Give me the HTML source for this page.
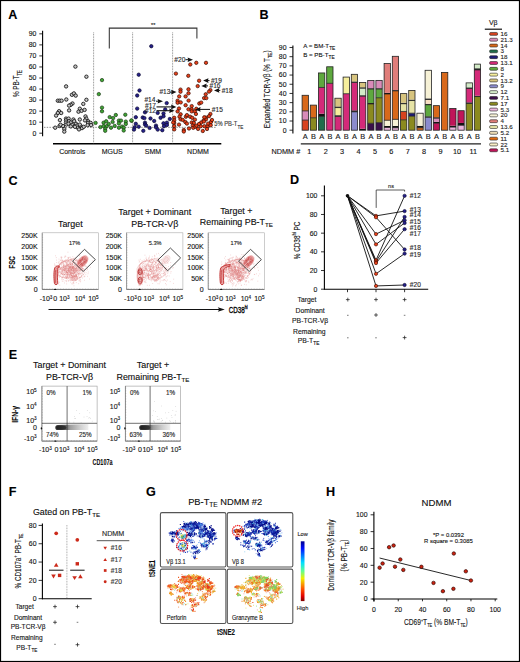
<!DOCTYPE html>
<html><head><meta charset="utf-8"><style>
html,body{margin:0;padding:0;background:#fff;}
svg{display:block;font-family:"Liberation Sans", sans-serif;}
text{stroke:currentColor;stroke-width:0.12;}
</style></head><body>
<svg width="520" height="662" viewBox="0 0 520 662">
<rect x="0.5" y="0.5" width="519" height="661" fill="#fff" stroke="#000" stroke-width="1.2"/>
<text x="8.30" y="18.80" font-size="12.6" text-anchor="start" font-weight="bold" fill="#000" >A</text>
<text x="259.50" y="18.90" font-size="12.6" text-anchor="start" font-weight="bold" fill="#000" >B</text>
<text x="8.50" y="184.50" font-size="12.6" text-anchor="start" font-weight="bold" fill="#000" >C</text>
<text x="290.00" y="183.70" font-size="12.6" text-anchor="start" font-weight="bold" fill="#000" >D</text>
<text x="8.80" y="359.00" font-size="12.6" text-anchor="start" font-weight="bold" fill="#000" >E</text>
<text x="8.70" y="495.90" font-size="12.6" text-anchor="start" font-weight="bold" fill="#000" >F</text>
<text x="146.00" y="496.00" font-size="12.6" text-anchor="start" font-weight="bold" fill="#000" >G</text>
<text x="325.90" y="495.90" font-size="12.6" text-anchor="start" font-weight="bold" fill="#000" >H</text>
<line x1="42.60" y1="30.70" x2="42.60" y2="136.20" stroke="#000" stroke-width="1.1" />
<line x1="39.30" y1="133.20" x2="42.60" y2="133.20" stroke="#000" stroke-width="0.8" />
<text x="36.30" y="135.60" font-size="6.9" text-anchor="end" font-weight="normal" fill="#222" >0</text>
<line x1="39.30" y1="122.16" x2="42.60" y2="122.16" stroke="#000" stroke-width="0.8" />
<text x="36.30" y="124.56" font-size="6.9" text-anchor="end" font-weight="normal" fill="#222" >10</text>
<line x1="39.30" y1="111.12" x2="42.60" y2="111.12" stroke="#000" stroke-width="0.8" />
<text x="36.30" y="113.52" font-size="6.9" text-anchor="end" font-weight="normal" fill="#222" >20</text>
<line x1="39.30" y1="100.08" x2="42.60" y2="100.08" stroke="#000" stroke-width="0.8" />
<text x="36.30" y="102.48" font-size="6.9" text-anchor="end" font-weight="normal" fill="#222" >30</text>
<line x1="39.30" y1="89.04" x2="42.60" y2="89.04" stroke="#000" stroke-width="0.8" />
<text x="36.30" y="91.44" font-size="6.9" text-anchor="end" font-weight="normal" fill="#222" >40</text>
<line x1="39.30" y1="78.00" x2="42.60" y2="78.00" stroke="#000" stroke-width="0.8" />
<text x="36.30" y="80.40" font-size="6.9" text-anchor="end" font-weight="normal" fill="#222" >50</text>
<line x1="39.30" y1="66.96" x2="42.60" y2="66.96" stroke="#000" stroke-width="0.8" />
<text x="36.30" y="69.36" font-size="6.9" text-anchor="end" font-weight="normal" fill="#222" >60</text>
<line x1="39.30" y1="55.92" x2="42.60" y2="55.92" stroke="#000" stroke-width="0.8" />
<text x="36.30" y="58.32" font-size="6.9" text-anchor="end" font-weight="normal" fill="#222" >70</text>
<line x1="39.30" y1="44.88" x2="42.60" y2="44.88" stroke="#000" stroke-width="0.8" />
<text x="36.30" y="47.28" font-size="6.9" text-anchor="end" font-weight="normal" fill="#222" >80</text>
<line x1="39.30" y1="33.84" x2="42.60" y2="33.84" stroke="#000" stroke-width="0.8" />
<text x="36.30" y="36.24" font-size="6.9" text-anchor="end" font-weight="normal" fill="#222" >90</text>
<text transform="translate(19.4,83.6) rotate(-90)" font-size="9.6" text-anchor="middle" fill="#222" textLength="27" lengthAdjust="spacingAndGlyphs">% PB-T<tspan font-size="6.4" dy="2.2">TE</tspan></text>
<line x1="53.00" y1="143.80" x2="221.30" y2="143.80" stroke="#000" stroke-width="1.5" />
<line x1="93.60" y1="32.50" x2="93.60" y2="143.50" stroke="#555" stroke-width="0.7" stroke-dasharray="0.8 0.8"/>
<line x1="132.60" y1="32.50" x2="132.60" y2="143.50" stroke="#555" stroke-width="0.7" stroke-dasharray="0.8 0.8"/>
<line x1="172.60" y1="32.50" x2="172.60" y2="143.50" stroke="#555" stroke-width="0.7" stroke-dasharray="0.8 0.8"/>
<line x1="44.00" y1="127.35" x2="216.50" y2="127.35" stroke="#444" stroke-width="0.6" stroke-dasharray="1.5 1.2"/>
<text x="214.30" y="126.40" font-size="7.0" text-anchor="start" font-weight="normal" fill="#444" textLength="29" lengthAdjust="spacingAndGlyphs">5% PB-T<tspan font-size="5.6" dy="2.6">TE</tspan></text>
<text x="72.20" y="153.70" font-size="7" text-anchor="middle" font-weight="normal" fill="#222" >Controls</text>
<text x="112.20" y="153.70" font-size="7" text-anchor="middle" font-weight="normal" fill="#222" >MGUS</text>
<text x="153.00" y="153.70" font-size="7" text-anchor="middle" font-weight="normal" fill="#222" >SMM</text>
<text x="198.00" y="153.70" font-size="7" text-anchor="middle" font-weight="normal" fill="#222" >NDMM</text>
<polyline points="109.3,48.6 109.3,28.1 196.9,28.1 196.9,38.4" fill="none" stroke="#333" stroke-width="1.05"/>
<text x="153.20" y="26.60" font-size="5.5" text-anchor="middle" font-weight="normal" fill="#333" >**</text>
<circle cx="75.4" cy="66.6" r="1.7" fill="#c4c4c4" stroke="#1a1a1a" stroke-width="0.9"/>
<circle cx="86.4" cy="76.7" r="1.7" fill="#c4c4c4" stroke="#1a1a1a" stroke-width="0.9"/>
<circle cx="66.1" cy="86.4" r="1.7" fill="#c4c4c4" stroke="#1a1a1a" stroke-width="0.9"/>
<circle cx="71.9" cy="94.8" r="1.7" fill="#c4c4c4" stroke="#1a1a1a" stroke-width="0.9"/>
<circle cx="73.9" cy="93.4" r="1.7" fill="#c4c4c4" stroke="#1a1a1a" stroke-width="0.9"/>
<circle cx="75.7" cy="95.6" r="1.7" fill="#c4c4c4" stroke="#1a1a1a" stroke-width="0.9"/>
<circle cx="57.8" cy="100.7" r="1.7" fill="#c4c4c4" stroke="#1a1a1a" stroke-width="0.9"/>
<circle cx="59.7" cy="100.7" r="1.7" fill="#c4c4c4" stroke="#1a1a1a" stroke-width="0.9"/>
<circle cx="61.6" cy="100.7" r="1.7" fill="#c4c4c4" stroke="#1a1a1a" stroke-width="0.9"/>
<circle cx="66.3" cy="99.5" r="1.7" fill="#c4c4c4" stroke="#1a1a1a" stroke-width="0.9"/>
<circle cx="86.4" cy="99.8" r="1.7" fill="#c4c4c4" stroke="#1a1a1a" stroke-width="0.9"/>
<circle cx="72.5" cy="103.5" r="1.7" fill="#c4c4c4" stroke="#1a1a1a" stroke-width="0.9"/>
<circle cx="70.8" cy="104.8" r="1.7" fill="#c4c4c4" stroke="#1a1a1a" stroke-width="0.9"/>
<circle cx="69.1" cy="105.6" r="1.7" fill="#c4c4c4" stroke="#1a1a1a" stroke-width="0.9"/>
<circle cx="83.3" cy="103.9" r="1.7" fill="#c4c4c4" stroke="#1a1a1a" stroke-width="0.9"/>
<circle cx="69.1" cy="110.4" r="1.7" fill="#c4c4c4" stroke="#1a1a1a" stroke-width="0.9"/>
<circle cx="79.8" cy="108.7" r="1.7" fill="#c4c4c4" stroke="#1a1a1a" stroke-width="0.9"/>
<circle cx="78.5" cy="111.7" r="1.7" fill="#c4c4c4" stroke="#1a1a1a" stroke-width="0.9"/>
<circle cx="81.6" cy="110.8" r="1.7" fill="#c4c4c4" stroke="#1a1a1a" stroke-width="0.9"/>
<circle cx="84.6" cy="109.9" r="1.7" fill="#c4c4c4" stroke="#1a1a1a" stroke-width="0.9"/>
<circle cx="59.1" cy="111.2" r="1.7" fill="#c4c4c4" stroke="#1a1a1a" stroke-width="0.9"/>
<circle cx="57.8" cy="113.0" r="1.7" fill="#c4c4c4" stroke="#1a1a1a" stroke-width="0.9"/>
<circle cx="61.2" cy="113.0" r="1.7" fill="#c4c4c4" stroke="#1a1a1a" stroke-width="0.9"/>
<circle cx="56.1" cy="115.6" r="1.7" fill="#c4c4c4" stroke="#1a1a1a" stroke-width="0.9"/>
<circle cx="59.9" cy="120.1" r="1.7" fill="#c4c4c4" stroke="#1a1a1a" stroke-width="0.9"/>
<circle cx="66.0" cy="118.6" r="1.7" fill="#c4c4c4" stroke="#1a1a1a" stroke-width="0.9"/>
<circle cx="66.0" cy="120.3" r="1.7" fill="#c4c4c4" stroke="#1a1a1a" stroke-width="0.9"/>
<circle cx="66.0" cy="122.5" r="1.7" fill="#c4c4c4" stroke="#1a1a1a" stroke-width="0.9"/>
<circle cx="68.6" cy="118.6" r="1.7" fill="#c4c4c4" stroke="#1a1a1a" stroke-width="0.9"/>
<circle cx="69.0" cy="121.2" r="1.7" fill="#c4c4c4" stroke="#1a1a1a" stroke-width="0.9"/>
<circle cx="70.8" cy="122.5" r="1.7" fill="#c4c4c4" stroke="#1a1a1a" stroke-width="0.9"/>
<circle cx="73.4" cy="119.5" r="1.7" fill="#c4c4c4" stroke="#1a1a1a" stroke-width="0.9"/>
<circle cx="74.2" cy="121.2" r="1.7" fill="#c4c4c4" stroke="#1a1a1a" stroke-width="0.9"/>
<circle cx="66.4" cy="124.5" r="1.7" fill="#c4c4c4" stroke="#1a1a1a" stroke-width="0.9"/>
<circle cx="68.5" cy="123.7" r="1.7" fill="#c4c4c4" stroke="#1a1a1a" stroke-width="0.9"/>
<circle cx="72.0" cy="124.8" r="1.7" fill="#c4c4c4" stroke="#1a1a1a" stroke-width="0.9"/>
<circle cx="79.8" cy="119.5" r="1.7" fill="#c4c4c4" stroke="#1a1a1a" stroke-width="0.9"/>
<circle cx="85.5" cy="116.4" r="1.7" fill="#c4c4c4" stroke="#1a1a1a" stroke-width="0.9"/>
<circle cx="86.3" cy="118.6" r="1.7" fill="#c4c4c4" stroke="#1a1a1a" stroke-width="0.9"/>
<circle cx="88.1" cy="121.2" r="1.7" fill="#c4c4c4" stroke="#1a1a1a" stroke-width="0.9"/>
<circle cx="88.1" cy="122.9" r="1.7" fill="#c4c4c4" stroke="#1a1a1a" stroke-width="0.9"/>
<circle cx="90.7" cy="122.9" r="1.7" fill="#c4c4c4" stroke="#1a1a1a" stroke-width="0.9"/>
<circle cx="91.1" cy="125.1" r="1.7" fill="#c4c4c4" stroke="#1a1a1a" stroke-width="0.9"/>
<circle cx="87.6" cy="125.1" r="1.7" fill="#c4c4c4" stroke="#1a1a1a" stroke-width="0.9"/>
<circle cx="85.0" cy="120.4" r="1.7" fill="#c4c4c4" stroke="#1a1a1a" stroke-width="0.9"/>
<circle cx="55.2" cy="127.7" r="1.7" fill="#c4c4c4" stroke="#1a1a1a" stroke-width="0.9"/>
<circle cx="59.5" cy="126.0" r="1.7" fill="#c4c4c4" stroke="#1a1a1a" stroke-width="0.9"/>
<circle cx="63.0" cy="126.0" r="1.7" fill="#c4c4c4" stroke="#1a1a1a" stroke-width="0.9"/>
<circle cx="64.3" cy="129.0" r="1.7" fill="#c4c4c4" stroke="#1a1a1a" stroke-width="0.9"/>
<circle cx="64.3" cy="131.6" r="1.7" fill="#c4c4c4" stroke="#1a1a1a" stroke-width="0.9"/>
<circle cx="70.8" cy="126.4" r="1.7" fill="#c4c4c4" stroke="#1a1a1a" stroke-width="0.9"/>
<circle cx="76.0" cy="123.8" r="1.7" fill="#c4c4c4" stroke="#1a1a1a" stroke-width="0.9"/>
<circle cx="77.2" cy="125.5" r="1.7" fill="#c4c4c4" stroke="#1a1a1a" stroke-width="0.9"/>
<circle cx="77.7" cy="127.7" r="1.7" fill="#c4c4c4" stroke="#1a1a1a" stroke-width="0.9"/>
<circle cx="79.0" cy="129.4" r="1.7" fill="#c4c4c4" stroke="#1a1a1a" stroke-width="0.9"/>
<circle cx="80.7" cy="126.0" r="1.7" fill="#c4c4c4" stroke="#1a1a1a" stroke-width="0.9"/>
<circle cx="82.0" cy="128.1" r="1.7" fill="#c4c4c4" stroke="#1a1a1a" stroke-width="0.9"/>
<circle cx="83.7" cy="126.8" r="1.7" fill="#c4c4c4" stroke="#1a1a1a" stroke-width="0.9"/>
<circle cx="79.8" cy="124.6" r="1.7" fill="#c4c4c4" stroke="#1a1a1a" stroke-width="0.9"/>
<circle cx="75.0" cy="126.8" r="1.7" fill="#c4c4c4" stroke="#1a1a1a" stroke-width="0.9"/>
<circle cx="60.5" cy="124.7" r="1.7" fill="#c4c4c4" stroke="#1a1a1a" stroke-width="0.9"/>
<circle cx="102" cy="80.1" r="1.7" fill="#3fa535" stroke="#1a3a12" stroke-width="0.7"/>
<circle cx="98.8" cy="94.1" r="1.7" fill="#3fa535" stroke="#1a3a12" stroke-width="0.7"/>
<circle cx="102" cy="107.6" r="1.7" fill="#3fa535" stroke="#1a3a12" stroke-width="0.7"/>
<circle cx="102" cy="111.3" r="1.7" fill="#3fa535" stroke="#1a3a12" stroke-width="0.7"/>
<circle cx="95.6" cy="122.9" r="1.7" fill="#3fa535" stroke="#1a3a12" stroke-width="0.7"/>
<circle cx="100.4" cy="127.1" r="1.7" fill="#3fa535" stroke="#1a3a12" stroke-width="0.7"/>
<circle cx="103.6" cy="122.7" r="1.7" fill="#3fa535" stroke="#1a3a12" stroke-width="0.7"/>
<circle cx="103.6" cy="126.1" r="1.7" fill="#3fa535" stroke="#1a3a12" stroke-width="0.7"/>
<circle cx="106.2" cy="121.3" r="1.7" fill="#3fa535" stroke="#1a3a12" stroke-width="0.7"/>
<circle cx="106.8" cy="126.1" r="1.7" fill="#3fa535" stroke="#1a3a12" stroke-width="0.7"/>
<circle cx="108.7" cy="124" r="1.7" fill="#3fa535" stroke="#1a3a12" stroke-width="0.7"/>
<circle cx="105.2" cy="128.7" r="1.7" fill="#3fa535" stroke="#1a3a12" stroke-width="0.7"/>
<circle cx="105.2" cy="130.8" r="1.7" fill="#3fa535" stroke="#1a3a12" stroke-width="0.7"/>
<circle cx="109.7" cy="117.1" r="1.7" fill="#3fa535" stroke="#1a3a12" stroke-width="0.7"/>
<circle cx="113.1" cy="118.1" r="1.7" fill="#3fa535" stroke="#1a3a12" stroke-width="0.7"/>
<circle cx="115.8" cy="115" r="1.7" fill="#3fa535" stroke="#1a3a12" stroke-width="0.7"/>
<circle cx="112.6" cy="121.9" r="1.7" fill="#3fa535" stroke="#1a3a12" stroke-width="0.7"/>
<circle cx="111" cy="127.7" r="1.7" fill="#3fa535" stroke="#1a3a12" stroke-width="0.7"/>
<circle cx="114.7" cy="125.9" r="1.7" fill="#3fa535" stroke="#1a3a12" stroke-width="0.7"/>
<circle cx="118.9" cy="120.6" r="1.7" fill="#3fa535" stroke="#1a3a12" stroke-width="0.7"/>
<circle cx="121" cy="120.6" r="1.7" fill="#3fa535" stroke="#1a3a12" stroke-width="0.7"/>
<circle cx="118.9" cy="123.4" r="1.7" fill="#3fa535" stroke="#1a3a12" stroke-width="0.7"/>
<circle cx="118.9" cy="127.7" r="1.7" fill="#3fa535" stroke="#1a3a12" stroke-width="0.7"/>
<circle cx="122.1" cy="126.6" r="1.7" fill="#3fa535" stroke="#1a3a12" stroke-width="0.7"/>
<circle cx="123.7" cy="127.7" r="1.7" fill="#3fa535" stroke="#1a3a12" stroke-width="0.7"/>
<circle cx="123.7" cy="130.5" r="1.7" fill="#3fa535" stroke="#1a3a12" stroke-width="0.7"/>
<circle cx="125.3" cy="114.7" r="1.7" fill="#3fa535" stroke="#1a3a12" stroke-width="0.7"/>
<circle cx="125.8" cy="121.6" r="1.7" fill="#3fa535" stroke="#1a3a12" stroke-width="0.7"/>
<circle cx="125.8" cy="124" r="1.7" fill="#3fa535" stroke="#1a3a12" stroke-width="0.7"/>
<circle cx="131.6" cy="120.8" r="1.7" fill="#3fa535" stroke="#1a3a12" stroke-width="0.7"/>
<circle cx="131.4" cy="120.4" r="1.7" fill="#3fa535" stroke="#1a3a12" stroke-width="0.7"/>
<circle cx="151.3" cy="46.2" r="1.7" fill="#26208a" stroke="#0a0830" stroke-width="0.7"/>
<circle cx="138.7" cy="74.7" r="1.7" fill="#26208a" stroke="#0a0830" stroke-width="0.7"/>
<circle cx="137.2" cy="95.5" r="1.7" fill="#26208a" stroke="#0a0830" stroke-width="0.7"/>
<circle cx="137.2" cy="108.6" r="1.7" fill="#26208a" stroke="#0a0830" stroke-width="0.7"/>
<circle cx="166.7" cy="103.1" r="1.7" fill="#26208a" stroke="#0a0830" stroke-width="0.7"/>
<circle cx="165.2" cy="109.4" r="1.7" fill="#26208a" stroke="#0a0830" stroke-width="0.7"/>
<circle cx="145" cy="112.3" r="1.7" fill="#26208a" stroke="#0a0830" stroke-width="0.7"/>
<circle cx="157.7" cy="112.9" r="1.7" fill="#26208a" stroke="#0a0830" stroke-width="0.7"/>
<circle cx="163.5" cy="113.5" r="1.7" fill="#26208a" stroke="#0a0830" stroke-width="0.7"/>
<circle cx="163.5" cy="116.3" r="1.7" fill="#26208a" stroke="#0a0830" stroke-width="0.7"/>
<circle cx="135.8" cy="117.2" r="1.7" fill="#26208a" stroke="#0a0830" stroke-width="0.7"/>
<circle cx="142.7" cy="117.5" r="1.7" fill="#26208a" stroke="#0a0830" stroke-width="0.7"/>
<circle cx="144.4" cy="118.1" r="1.7" fill="#26208a" stroke="#0a0830" stroke-width="0.7"/>
<circle cx="160.6" cy="117.8" r="1.7" fill="#26208a" stroke="#0a0830" stroke-width="0.7"/>
<circle cx="169.8" cy="119" r="1.7" fill="#26208a" stroke="#0a0830" stroke-width="0.7"/>
<circle cx="154.2" cy="121" r="1.7" fill="#26208a" stroke="#0a0830" stroke-width="0.7"/>
<circle cx="135.8" cy="123.8" r="1.7" fill="#26208a" stroke="#0a0830" stroke-width="0.7"/>
<circle cx="134.6" cy="127.3" r="1.7" fill="#26208a" stroke="#0a0830" stroke-width="0.7"/>
<circle cx="134" cy="129.6" r="1.7" fill="#26208a" stroke="#0a0830" stroke-width="0.7"/>
<circle cx="138.7" cy="126.7" r="1.7" fill="#26208a" stroke="#0a0830" stroke-width="0.7"/>
<circle cx="145" cy="122.7" r="1.7" fill="#26208a" stroke="#0a0830" stroke-width="0.7"/>
<circle cx="145" cy="124.4" r="1.7" fill="#26208a" stroke="#0a0830" stroke-width="0.7"/>
<circle cx="146.2" cy="125.6" r="1.7" fill="#26208a" stroke="#0a0830" stroke-width="0.7"/>
<circle cx="149.6" cy="127.9" r="1.7" fill="#26208a" stroke="#0a0830" stroke-width="0.7"/>
<circle cx="143.3" cy="130.8" r="1.7" fill="#26208a" stroke="#0a0830" stroke-width="0.7"/>
<circle cx="156" cy="125.6" r="1.7" fill="#26208a" stroke="#0a0830" stroke-width="0.7"/>
<circle cx="156" cy="127.3" r="1.7" fill="#26208a" stroke="#0a0830" stroke-width="0.7"/>
<circle cx="157.7" cy="129.6" r="1.7" fill="#26208a" stroke="#0a0830" stroke-width="0.7"/>
<circle cx="162.3" cy="130.2" r="1.7" fill="#26208a" stroke="#0a0830" stroke-width="0.7"/>
<circle cx="163.5" cy="123.3" r="1.7" fill="#26208a" stroke="#0a0830" stroke-width="0.7"/>
<circle cx="164" cy="126.2" r="1.7" fill="#26208a" stroke="#0a0830" stroke-width="0.7"/>
<circle cx="166.9" cy="122.7" r="1.7" fill="#26208a" stroke="#0a0830" stroke-width="0.7"/>
<circle cx="166.9" cy="125" r="1.7" fill="#26208a" stroke="#0a0830" stroke-width="0.7"/>
<circle cx="139.5" cy="90.5" r="1.7" fill="#26208a" stroke="#0a0830" stroke-width="0.7"/>
<circle cx="150.5" cy="118.5" r="1.7" fill="#26208a" stroke="#0a0830" stroke-width="0.7"/>
<circle cx="190.3" cy="64.5" r="1.7" fill="#e8401a" stroke="#3a0a00" stroke-width="0.7"/>
<circle cx="196.3" cy="62.8" r="1.7" fill="#e8401a" stroke="#3a0a00" stroke-width="0.7"/>
<circle cx="206" cy="62.8" r="1.7" fill="#e8401a" stroke="#3a0a00" stroke-width="0.7"/>
<circle cx="175.9" cy="73.6" r="1.7" fill="#e8401a" stroke="#3a0a00" stroke-width="0.7"/>
<circle cx="188.3" cy="75.8" r="1.7" fill="#e8401a" stroke="#3a0a00" stroke-width="0.7"/>
<circle cx="199.1" cy="80.7" r="1.7" fill="#e8401a" stroke="#3a0a00" stroke-width="0.7"/>
<circle cx="197.7" cy="86.1" r="1.7" fill="#e8401a" stroke="#3a0a00" stroke-width="0.7"/>
<circle cx="210.4" cy="90.1" r="1.7" fill="#e8401a" stroke="#3a0a00" stroke-width="0.7"/>
<circle cx="209" cy="91.6" r="1.7" fill="#e8401a" stroke="#3a0a00" stroke-width="0.7"/>
<circle cx="180.5" cy="89.6" r="1.7" fill="#e8401a" stroke="#3a0a00" stroke-width="0.7"/>
<circle cx="180.5" cy="91.7" r="1.7" fill="#e8401a" stroke="#3a0a00" stroke-width="0.7"/>
<circle cx="188.5" cy="89.3" r="1.7" fill="#e8401a" stroke="#3a0a00" stroke-width="0.7"/>
<circle cx="188.5" cy="93.3" r="1.7" fill="#e8401a" stroke="#3a0a00" stroke-width="0.7"/>
<circle cx="205.7" cy="94.3" r="1.7" fill="#e8401a" stroke="#3a0a00" stroke-width="0.7"/>
<circle cx="179.2" cy="96.4" r="1.7" fill="#e8401a" stroke="#3a0a00" stroke-width="0.7"/>
<circle cx="185.6" cy="96.4" r="1.7" fill="#e8401a" stroke="#3a0a00" stroke-width="0.7"/>
<circle cx="204.1" cy="98.1" r="1.7" fill="#e8401a" stroke="#3a0a00" stroke-width="0.7"/>
<circle cx="206.3" cy="98.1" r="1.7" fill="#e8401a" stroke="#3a0a00" stroke-width="0.7"/>
<circle cx="177.6" cy="100.7" r="1.7" fill="#e8401a" stroke="#3a0a00" stroke-width="0.7"/>
<circle cx="177.6" cy="102.7" r="1.7" fill="#e8401a" stroke="#3a0a00" stroke-width="0.7"/>
<circle cx="180.7" cy="102.4" r="1.7" fill="#e8401a" stroke="#3a0a00" stroke-width="0.7"/>
<circle cx="188.6" cy="100.6" r="1.7" fill="#e8401a" stroke="#3a0a00" stroke-width="0.7"/>
<circle cx="199.3" cy="103.5" r="1.7" fill="#e8401a" stroke="#3a0a00" stroke-width="0.7"/>
<circle cx="201.2" cy="102.6" r="1.7" fill="#e8401a" stroke="#3a0a00" stroke-width="0.7"/>
<circle cx="185.6" cy="105.2" r="1.7" fill="#e8401a" stroke="#3a0a00" stroke-width="0.7"/>
<circle cx="191.7" cy="106.1" r="1.7" fill="#e8401a" stroke="#3a0a00" stroke-width="0.7"/>
<circle cx="179" cy="108.5" r="1.7" fill="#e8401a" stroke="#3a0a00" stroke-width="0.7"/>
<circle cx="177.6" cy="111.4" r="1.7" fill="#e8401a" stroke="#3a0a00" stroke-width="0.7"/>
<circle cx="188.5" cy="109.3" r="1.7" fill="#e8401a" stroke="#3a0a00" stroke-width="0.7"/>
<circle cx="191.7" cy="109.3" r="1.7" fill="#e8401a" stroke="#3a0a00" stroke-width="0.7"/>
<circle cx="191.7" cy="111.4" r="1.7" fill="#e8401a" stroke="#3a0a00" stroke-width="0.7"/>
<circle cx="194.9" cy="111.4" r="1.7" fill="#e8401a" stroke="#3a0a00" stroke-width="0.7"/>
<circle cx="195.9" cy="114" r="1.7" fill="#e8401a" stroke="#3a0a00" stroke-width="0.7"/>
<circle cx="196.3" cy="108.8" r="1.7" fill="#e8401a" stroke="#3a0a00" stroke-width="0.7"/>
<circle cx="180.6" cy="114.3" r="1.7" fill="#e8401a" stroke="#3a0a00" stroke-width="0.7"/>
<circle cx="179.5" cy="116.7" r="1.7" fill="#e8401a" stroke="#3a0a00" stroke-width="0.7"/>
<circle cx="180.6" cy="119.3" r="1.7" fill="#e8401a" stroke="#3a0a00" stroke-width="0.7"/>
<circle cx="182.7" cy="119.9" r="1.7" fill="#e8401a" stroke="#3a0a00" stroke-width="0.7"/>
<circle cx="185.9" cy="116.7" r="1.7" fill="#e8401a" stroke="#3a0a00" stroke-width="0.7"/>
<circle cx="186.9" cy="115.1" r="1.7" fill="#e8401a" stroke="#3a0a00" stroke-width="0.7"/>
<circle cx="190.1" cy="116.7" r="1.7" fill="#e8401a" stroke="#3a0a00" stroke-width="0.7"/>
<circle cx="192.2" cy="117.8" r="1.7" fill="#e8401a" stroke="#3a0a00" stroke-width="0.7"/>
<circle cx="194.9" cy="119.6" r="1.7" fill="#e8401a" stroke="#3a0a00" stroke-width="0.7"/>
<circle cx="210.4" cy="114" r="1.7" fill="#e8401a" stroke="#3a0a00" stroke-width="0.7"/>
<circle cx="209" cy="116.2" r="1.7" fill="#e8401a" stroke="#3a0a00" stroke-width="0.7"/>
<circle cx="205.9" cy="117.6" r="1.7" fill="#e8401a" stroke="#3a0a00" stroke-width="0.7"/>
<circle cx="205.9" cy="119.4" r="1.7" fill="#e8401a" stroke="#3a0a00" stroke-width="0.7"/>
<circle cx="204.3" cy="117.3" r="1.7" fill="#e8401a" stroke="#3a0a00" stroke-width="0.7"/>
<circle cx="203.6" cy="120.5" r="1.7" fill="#e8401a" stroke="#3a0a00" stroke-width="0.7"/>
<circle cx="174.2" cy="117.8" r="1.7" fill="#e8401a" stroke="#3a0a00" stroke-width="0.7"/>
<circle cx="174.2" cy="120.4" r="1.7" fill="#e8401a" stroke="#3a0a00" stroke-width="0.7"/>
<circle cx="174.2" cy="123" r="1.7" fill="#e8401a" stroke="#3a0a00" stroke-width="0.7"/>
<circle cx="174.2" cy="126.2" r="1.7" fill="#e8401a" stroke="#3a0a00" stroke-width="0.7"/>
<circle cx="174.2" cy="129.4" r="1.7" fill="#e8401a" stroke="#3a0a00" stroke-width="0.7"/>
<circle cx="173.2" cy="122.5" r="1.7" fill="#e8401a" stroke="#3a0a00" stroke-width="0.7"/>
<circle cx="179" cy="124.6" r="1.7" fill="#e8401a" stroke="#3a0a00" stroke-width="0.7"/>
<circle cx="185.3" cy="122" r="1.7" fill="#e8401a" stroke="#3a0a00" stroke-width="0.7"/>
<circle cx="186.9" cy="123.6" r="1.7" fill="#e8401a" stroke="#3a0a00" stroke-width="0.7"/>
<circle cx="191.7" cy="122.5" r="1.7" fill="#e8401a" stroke="#3a0a00" stroke-width="0.7"/>
<circle cx="193.8" cy="123" r="1.7" fill="#e8401a" stroke="#3a0a00" stroke-width="0.7"/>
<circle cx="192.8" cy="125.7" r="1.7" fill="#e8401a" stroke="#3a0a00" stroke-width="0.7"/>
<circle cx="193.3" cy="127.8" r="1.7" fill="#e8401a" stroke="#3a0a00" stroke-width="0.7"/>
<circle cx="195.4" cy="126.8" r="1.7" fill="#e8401a" stroke="#3a0a00" stroke-width="0.7"/>
<circle cx="196.5" cy="125.7" r="1.7" fill="#e8401a" stroke="#3a0a00" stroke-width="0.7"/>
<circle cx="198.1" cy="128.9" r="1.7" fill="#e8401a" stroke="#3a0a00" stroke-width="0.7"/>
<circle cx="200.7" cy="126.2" r="1.7" fill="#e8401a" stroke="#3a0a00" stroke-width="0.7"/>
<circle cx="201.2" cy="122.5" r="1.7" fill="#e8401a" stroke="#3a0a00" stroke-width="0.7"/>
<circle cx="203.9" cy="121.5" r="1.7" fill="#e8401a" stroke="#3a0a00" stroke-width="0.7"/>
<circle cx="204.4" cy="126.2" r="1.7" fill="#e8401a" stroke="#3a0a00" stroke-width="0.7"/>
<circle cx="207.6" cy="126.2" r="1.7" fill="#e8401a" stroke="#3a0a00" stroke-width="0.7"/>
<circle cx="208.1" cy="123.6" r="1.7" fill="#e8401a" stroke="#3a0a00" stroke-width="0.7"/>
<circle cx="210.7" cy="125.2" r="1.7" fill="#e8401a" stroke="#3a0a00" stroke-width="0.7"/>
<circle cx="211" cy="122" r="1.7" fill="#e8401a" stroke="#3a0a00" stroke-width="0.7"/>
<circle cx="212" cy="120" r="1.7" fill="#e8401a" stroke="#3a0a00" stroke-width="0.7"/>
<circle cx="183.8" cy="130" r="1.7" fill="#e8401a" stroke="#3a0a00" stroke-width="0.7"/>
<circle cx="183.8" cy="131.5" r="1.7" fill="#e8401a" stroke="#3a0a00" stroke-width="0.7"/>
<circle cx="202.8" cy="131" r="1.7" fill="#e8401a" stroke="#3a0a00" stroke-width="0.7"/>
<circle cx="189" cy="128.5" r="1.7" fill="#e8401a" stroke="#3a0a00" stroke-width="0.7"/>
<circle cx="199" cy="124" r="1.7" fill="#e8401a" stroke="#3a0a00" stroke-width="0.7"/>
<circle cx="207" cy="129" r="1.7" fill="#e8401a" stroke="#3a0a00" stroke-width="0.7"/>
<text x="174.30" y="61.90" font-size="6.6" text-anchor="start" font-weight="normal" fill="#333" >#20</text>
<line x1="185.50" y1="59.70" x2="188.60" y2="59.70" stroke="#111" stroke-width="1.0" />
<polygon points="193.00,59.70 187.60,62.02 188.20,59.70 187.60,57.38" fill="#111"/>
<text x="210.90" y="82.60" font-size="6.6" text-anchor="start" font-weight="normal" fill="#333" >#19</text>
<line x1="209.50" y1="80.60" x2="207.50" y2="80.60" stroke="#111" stroke-width="1.0" />
<polygon points="203.10,80.60 208.50,78.28 207.90,80.60 208.50,82.92" fill="#111"/>
<text x="209.50" y="88.00" font-size="6.6" text-anchor="start" font-weight="normal" fill="#333" >#16</text>
<line x1="208.00" y1="85.90" x2="205.70" y2="85.90" stroke="#111" stroke-width="1.0" />
<polygon points="201.30,85.90 206.70,83.58 206.10,85.90 206.70,88.22" fill="#111"/>
<text x="221.70" y="92.50" font-size="6.6" text-anchor="start" font-weight="normal" fill="#333" >#18</text>
<line x1="220.30" y1="90.40" x2="218.40" y2="90.40" stroke="#111" stroke-width="1.0" />
<polygon points="214.00,90.40 219.40,88.08 218.80,90.40 219.40,92.72" fill="#111"/>
<text x="159.40" y="94.30" font-size="6.6" text-anchor="start" font-weight="normal" fill="#333" >#13</text>
<line x1="170.00" y1="92.10" x2="172.10" y2="92.10" stroke="#111" stroke-width="1.0" />
<polygon points="176.50,92.10 171.10,94.42 171.70,92.10 171.10,89.78" fill="#111"/>
<text x="144.40" y="102.40" font-size="6.6" text-anchor="start" font-weight="normal" fill="#333" >#14</text>
<line x1="156.00" y1="101.20" x2="158.60" y2="101.20" stroke="#111" stroke-width="1.0" />
<polygon points="163.00,101.20 157.60,103.52 158.20,101.20 157.60,98.88" fill="#111"/>
<text x="145.00" y="107.80" font-size="6.6" text-anchor="start" font-weight="normal" fill="#333" >#17</text>
<line x1="156.50" y1="106.90" x2="172.00" y2="106.90" stroke="#111" stroke-width="1.1" />
<polygon points="176.40,106.90 171.00,109.22 171.60,106.90 171.00,104.58" fill="#111"/>
<text x="145.00" y="113.10" font-size="6.6" text-anchor="start" font-weight="normal" fill="#333" >#12</text>
<line x1="156.50" y1="110.70" x2="170.20" y2="110.70" stroke="#111" stroke-width="1.1" />
<polygon points="174.60,110.70 169.20,113.02 169.80,110.70 169.20,108.38" fill="#111"/>
<text x="211.80" y="111.60" font-size="6.6" text-anchor="start" font-weight="normal" fill="#333" >#15</text>
<line x1="210.00" y1="109.40" x2="199.60" y2="109.40" stroke="#111" stroke-width="1.0" />
<polygon points="195.20,109.40 200.60,107.08 200.00,109.40 200.60,111.72" fill="#111"/>
<line x1="292.90" y1="45.50" x2="292.90" y2="133.40" stroke="#000" stroke-width="1.1" />
<line x1="289.50" y1="130.20" x2="292.90" y2="130.20" stroke="#000" stroke-width="0.8" />
<text x="286.50" y="132.60" font-size="6.9" text-anchor="end" font-weight="normal" fill="#222" >0</text>
<line x1="289.50" y1="121.01" x2="292.90" y2="121.01" stroke="#000" stroke-width="0.8" />
<text x="286.50" y="123.41" font-size="6.9" text-anchor="end" font-weight="normal" fill="#222" >10</text>
<line x1="289.50" y1="111.82" x2="292.90" y2="111.82" stroke="#000" stroke-width="0.8" />
<text x="286.50" y="114.22" font-size="6.9" text-anchor="end" font-weight="normal" fill="#222" >20</text>
<line x1="289.50" y1="102.63" x2="292.90" y2="102.63" stroke="#000" stroke-width="0.8" />
<text x="286.50" y="105.03" font-size="6.9" text-anchor="end" font-weight="normal" fill="#222" >30</text>
<line x1="289.50" y1="93.44" x2="292.90" y2="93.44" stroke="#000" stroke-width="0.8" />
<text x="286.50" y="95.84" font-size="6.9" text-anchor="end" font-weight="normal" fill="#222" >40</text>
<line x1="289.50" y1="84.25" x2="292.90" y2="84.25" stroke="#000" stroke-width="0.8" />
<text x="286.50" y="86.65" font-size="6.9" text-anchor="end" font-weight="normal" fill="#222" >50</text>
<line x1="289.50" y1="75.06" x2="292.90" y2="75.06" stroke="#000" stroke-width="0.8" />
<text x="286.50" y="77.46" font-size="6.9" text-anchor="end" font-weight="normal" fill="#222" >60</text>
<line x1="289.50" y1="65.87" x2="292.90" y2="65.87" stroke="#000" stroke-width="0.8" />
<text x="286.50" y="68.27" font-size="6.9" text-anchor="end" font-weight="normal" fill="#222" >70</text>
<line x1="289.50" y1="56.68" x2="292.90" y2="56.68" stroke="#000" stroke-width="0.8" />
<text x="286.50" y="59.08" font-size="6.9" text-anchor="end" font-weight="normal" fill="#222" >80</text>
<line x1="289.50" y1="47.49" x2="292.90" y2="47.49" stroke="#000" stroke-width="0.8" />
<text x="286.50" y="49.89" font-size="6.9" text-anchor="end" font-weight="normal" fill="#222" >90</text>
<text transform="translate(270.2,89.3) rotate(-90)" font-size="9.3" text-anchor="middle" fill="#222" textLength="77.8" lengthAdjust="spacingAndGlyphs">Expanded TCR-Vβ (% T<tspan font-size="6.2" dy="2">TE</tspan><tspan dy="-2">)</tspan></text>
<text x="303.20" y="47.90" font-size="6.2" text-anchor="start" font-weight="normal" fill="#222" >A = BM-T<tspan font-size="4.8" dy="2.4">TE</tspan></text>
<text x="303.20" y="56.60" font-size="6.2" text-anchor="start" font-weight="normal" fill="#222" >B = PB-T<tspan font-size="4.8" dy="2.4">TE</tspan></text>
<rect x="302.10" y="120.09" width="6.3" height="10.11" fill="#d8421f"/>
<rect x="302.10" y="110.90" width="6.3" height="9.19" fill="#d98bb9"/>
<rect x="302.10" y="95.28" width="6.3" height="15.62" fill="#d8691b"/>
<rect x="302.10" y="95.28" width="6.3" height="34.92" fill="none" stroke="#222" stroke-width="0.8"/>
<line x1="302.10" y1="120.09" x2="308.40" y2="120.09" stroke="#222" stroke-width="0.8" />
<line x1="302.10" y1="110.90" x2="308.40" y2="110.90" stroke="#222" stroke-width="0.8" />
<text x="305.25" y="139.20" font-size="7.4" text-anchor="middle" font-weight="normal" fill="#222" >A</text>
<rect x="310.30" y="117.79" width="6.3" height="12.41" fill="#8b8a1f"/>
<rect x="310.30" y="105.11" width="6.3" height="12.68" fill="#d8691b"/>
<rect x="310.30" y="105.11" width="6.3" height="25.09" fill="none" stroke="#222" stroke-width="0.8"/>
<line x1="310.30" y1="117.79" x2="316.60" y2="117.79" stroke="#222" stroke-width="0.8" />
<text x="313.45" y="139.20" font-size="7.4" text-anchor="middle" font-weight="normal" fill="#222" >B</text>
<rect x="318.50" y="116.41" width="6.3" height="13.78" fill="#1f6d4b"/>
<rect x="318.50" y="113.66" width="6.3" height="2.76" fill="#111111"/>
<rect x="318.50" y="87.47" width="6.3" height="26.19" fill="#d42a79"/>
<rect x="318.50" y="72.95" width="6.3" height="14.52" fill="#5ea83e"/>
<rect x="318.50" y="72.95" width="6.3" height="57.25" fill="none" stroke="#222" stroke-width="0.8"/>
<line x1="318.50" y1="116.41" x2="324.80" y2="116.41" stroke="#222" stroke-width="0.8" />
<line x1="318.50" y1="87.47" x2="324.80" y2="87.47" stroke="#222" stroke-width="0.8" />
<text x="321.65" y="139.20" font-size="7.4" text-anchor="middle" font-weight="normal" fill="#222" >A</text>
<rect x="326.70" y="83.33" width="6.3" height="46.87" fill="#d42a79"/>
<rect x="326.70" y="66.79" width="6.3" height="16.54" fill="#5ea83e"/>
<rect x="326.70" y="66.79" width="6.3" height="63.41" fill="none" stroke="#222" stroke-width="0.8"/>
<line x1="326.70" y1="83.33" x2="333.00" y2="83.33" stroke="#222" stroke-width="0.8" />
<text x="329.85" y="139.20" font-size="7.4" text-anchor="middle" font-weight="normal" fill="#222" >B</text>
<rect x="334.90" y="116.41" width="6.3" height="13.78" fill="#d42a79"/>
<rect x="334.90" y="115.22" width="6.3" height="1.19" fill="#111111"/>
<rect x="334.90" y="107.59" width="6.3" height="7.63" fill="#f6ee9c"/>
<rect x="334.90" y="106.49" width="6.3" height="1.10" fill="#111111"/>
<rect x="334.90" y="98.22" width="6.3" height="8.27" fill="#d7c47f"/>
<rect x="334.90" y="98.22" width="6.3" height="31.98" fill="none" stroke="#222" stroke-width="0.8"/>
<line x1="334.90" y1="116.41" x2="341.20" y2="116.41" stroke="#222" stroke-width="0.8" />
<line x1="334.90" y1="107.59" x2="341.20" y2="107.59" stroke="#222" stroke-width="0.8" />
<text x="338.05" y="139.20" font-size="7.4" text-anchor="middle" font-weight="normal" fill="#222" >A</text>
<rect x="343.10" y="93.72" width="6.3" height="36.48" fill="#d42a79"/>
<rect x="343.10" y="77.08" width="6.3" height="16.63" fill="#f6ee9c"/>
<rect x="343.10" y="77.08" width="6.3" height="53.12" fill="none" stroke="#222" stroke-width="0.8"/>
<line x1="343.10" y1="93.72" x2="349.40" y2="93.72" stroke="#222" stroke-width="0.8" />
<text x="346.25" y="139.20" font-size="7.4" text-anchor="middle" font-weight="normal" fill="#222" >B</text>
<rect x="351.30" y="111.82" width="6.3" height="18.38" fill="#8b8bcd"/>
<rect x="351.30" y="110.35" width="6.3" height="1.47" fill="#111111"/>
<rect x="351.30" y="82.41" width="6.3" height="27.94" fill="#d42a79"/>
<rect x="351.30" y="81.49" width="6.3" height="0.92" fill="#111111"/>
<rect x="351.30" y="74.32" width="6.3" height="7.17" fill="#d7c47f"/>
<rect x="351.30" y="74.32" width="6.3" height="55.88" fill="none" stroke="#222" stroke-width="0.8"/>
<line x1="351.30" y1="111.82" x2="357.60" y2="111.82" stroke="#222" stroke-width="0.8" />
<line x1="351.30" y1="82.41" x2="357.60" y2="82.41" stroke="#222" stroke-width="0.8" />
<text x="354.45" y="139.20" font-size="7.4" text-anchor="middle" font-weight="normal" fill="#222" >A</text>
<rect x="359.50" y="128.73" width="6.3" height="1.47" fill="#111111"/>
<rect x="359.50" y="96.20" width="6.3" height="32.53" fill="#d42a79"/>
<rect x="359.50" y="95.28" width="6.3" height="0.92" fill="#111111"/>
<rect x="359.50" y="88.20" width="6.3" height="7.08" fill="#d3ebc8"/>
<rect x="359.50" y="87.37" width="6.3" height="0.83" fill="#111111"/>
<rect x="359.50" y="82.41" width="6.3" height="4.96" fill="#d7c47f"/>
<rect x="359.50" y="82.41" width="6.3" height="47.79" fill="none" stroke="#222" stroke-width="0.8"/>
<line x1="359.50" y1="96.20" x2="365.80" y2="96.20" stroke="#222" stroke-width="0.8" />
<line x1="359.50" y1="88.20" x2="365.80" y2="88.20" stroke="#222" stroke-width="0.8" />
<text x="362.65" y="139.20" font-size="7.4" text-anchor="middle" font-weight="normal" fill="#222" >B</text>
<rect x="367.70" y="123.31" width="6.3" height="6.89" fill="#3b0f4a"/>
<rect x="367.70" y="103.92" width="6.3" height="19.39" fill="#8b8a1f"/>
<rect x="367.70" y="103.00" width="6.3" height="0.92" fill="#111111"/>
<rect x="367.70" y="89.03" width="6.3" height="13.97" fill="#5ea83e"/>
<rect x="367.70" y="88.29" width="6.3" height="0.74" fill="#111111"/>
<rect x="367.70" y="80.57" width="6.3" height="7.72" fill="#d98bb9"/>
<rect x="367.70" y="80.57" width="6.3" height="49.63" fill="none" stroke="#222" stroke-width="0.8"/>
<line x1="367.70" y1="123.31" x2="374.00" y2="123.31" stroke="#222" stroke-width="0.8" />
<line x1="367.70" y1="103.92" x2="374.00" y2="103.92" stroke="#222" stroke-width="0.8" />
<line x1="367.70" y1="89.03" x2="374.00" y2="89.03" stroke="#222" stroke-width="0.8" />
<text x="370.85" y="139.20" font-size="7.4" text-anchor="middle" font-weight="normal" fill="#222" >A</text>
<rect x="375.90" y="122.66" width="6.3" height="7.54" fill="#3b0f4a"/>
<rect x="375.90" y="97.76" width="6.3" height="24.90" fill="#8b8a1f"/>
<rect x="375.90" y="89.03" width="6.3" height="8.73" fill="#5ea83e"/>
<rect x="375.90" y="88.29" width="6.3" height="0.74" fill="#111111"/>
<rect x="375.90" y="80.39" width="6.3" height="7.90" fill="#d98bb9"/>
<rect x="375.90" y="80.39" width="6.3" height="49.81" fill="none" stroke="#222" stroke-width="0.8"/>
<line x1="375.90" y1="122.66" x2="382.20" y2="122.66" stroke="#222" stroke-width="0.8" />
<line x1="375.90" y1="97.76" x2="382.20" y2="97.76" stroke="#222" stroke-width="0.8" />
<line x1="375.90" y1="89.03" x2="382.20" y2="89.03" stroke="#222" stroke-width="0.8" />
<text x="379.05" y="139.20" font-size="7.4" text-anchor="middle" font-weight="normal" fill="#222" >B</text>
<rect x="384.10" y="127.44" width="6.3" height="2.76" fill="#ebb5dd"/>
<rect x="384.10" y="125.97" width="6.3" height="1.47" fill="#111111"/>
<rect x="384.10" y="120.27" width="6.3" height="5.70" fill="#f6f1d6"/>
<rect x="384.10" y="93.99" width="6.3" height="26.28" fill="#d8691b"/>
<rect x="384.10" y="92.89" width="6.3" height="1.10" fill="#111111"/>
<rect x="384.10" y="63.57" width="6.3" height="29.32" fill="#e07d7a"/>
<rect x="384.10" y="63.57" width="6.3" height="66.63" fill="none" stroke="#222" stroke-width="0.8"/>
<line x1="384.10" y1="127.44" x2="390.40" y2="127.44" stroke="#222" stroke-width="0.8" />
<line x1="384.10" y1="120.27" x2="390.40" y2="120.27" stroke="#222" stroke-width="0.8" />
<line x1="384.10" y1="93.99" x2="390.40" y2="93.99" stroke="#222" stroke-width="0.8" />
<text x="387.25" y="139.20" font-size="7.4" text-anchor="middle" font-weight="normal" fill="#222" >A</text>
<rect x="392.30" y="127.81" width="6.3" height="2.39" fill="#ebb5dd"/>
<rect x="392.30" y="125.97" width="6.3" height="1.84" fill="#111111"/>
<rect x="392.30" y="119.36" width="6.3" height="6.62" fill="#f6f1d6"/>
<rect x="392.30" y="90.87" width="6.3" height="28.49" fill="#d8691b"/>
<rect x="392.30" y="90.13" width="6.3" height="0.74" fill="#111111"/>
<rect x="392.30" y="56.31" width="6.3" height="33.82" fill="#e07d7a"/>
<rect x="392.30" y="56.31" width="6.3" height="73.89" fill="none" stroke="#222" stroke-width="0.8"/>
<line x1="392.30" y1="127.81" x2="398.60" y2="127.81" stroke="#222" stroke-width="0.8" />
<line x1="392.30" y1="119.36" x2="398.60" y2="119.36" stroke="#222" stroke-width="0.8" />
<line x1="392.30" y1="90.87" x2="398.60" y2="90.87" stroke="#222" stroke-width="0.8" />
<text x="395.45" y="139.20" font-size="7.4" text-anchor="middle" font-weight="normal" fill="#222" >B</text>
<rect x="400.50" y="119.82" width="6.3" height="10.38" fill="#8b8a1f"/>
<rect x="400.50" y="111.45" width="6.3" height="8.36" fill="#d8421f"/>
<rect x="400.50" y="103.73" width="6.3" height="7.72" fill="#e6e3a6"/>
<rect x="400.50" y="102.81" width="6.3" height="0.92" fill="#111111"/>
<rect x="400.50" y="93.62" width="6.3" height="9.19" fill="#d7c47f"/>
<rect x="400.50" y="93.62" width="6.3" height="36.58" fill="none" stroke="#222" stroke-width="0.8"/>
<line x1="400.50" y1="119.82" x2="406.80" y2="119.82" stroke="#222" stroke-width="0.8" />
<line x1="400.50" y1="111.45" x2="406.80" y2="111.45" stroke="#222" stroke-width="0.8" />
<line x1="400.50" y1="103.73" x2="406.80" y2="103.73" stroke="#222" stroke-width="0.8" />
<text x="403.65" y="139.20" font-size="7.4" text-anchor="middle" font-weight="normal" fill="#222" >A</text>
<rect x="408.70" y="116.14" width="6.3" height="14.06" fill="#8b8a1f"/>
<rect x="408.70" y="113.20" width="6.3" height="2.94" fill="#1d1b78"/>
<rect x="408.70" y="100.52" width="6.3" height="12.68" fill="#e6e3a6"/>
<rect x="408.70" y="99.60" width="6.3" height="0.92" fill="#111111"/>
<rect x="408.70" y="90.41" width="6.3" height="9.19" fill="#d7c47f"/>
<rect x="408.70" y="90.41" width="6.3" height="39.79" fill="none" stroke="#222" stroke-width="0.8"/>
<line x1="408.70" y1="116.14" x2="415.00" y2="116.14" stroke="#222" stroke-width="0.8" />
<line x1="408.70" y1="113.20" x2="415.00" y2="113.20" stroke="#222" stroke-width="0.8" />
<line x1="408.70" y1="100.52" x2="415.00" y2="100.52" stroke="#222" stroke-width="0.8" />
<text x="411.85" y="139.20" font-size="7.4" text-anchor="middle" font-weight="normal" fill="#222" >B</text>
<rect x="416.90" y="127.72" width="6.3" height="2.48" fill="#d8691b"/>
<rect x="416.90" y="125.79" width="6.3" height="1.93" fill="#111111"/>
<rect x="416.90" y="113.20" width="6.3" height="12.59" fill="#f6f1d6"/>
<rect x="416.90" y="113.20" width="6.3" height="17.00" fill="none" stroke="#222" stroke-width="0.8"/>
<line x1="416.90" y1="127.72" x2="423.20" y2="127.72" stroke="#222" stroke-width="0.8" />
<text x="420.05" y="139.20" font-size="7.4" text-anchor="middle" font-weight="normal" fill="#222" >A</text>
<rect x="425.10" y="117.24" width="6.3" height="12.96" fill="#8b8bcd"/>
<rect x="425.10" y="116.32" width="6.3" height="0.92" fill="#111111"/>
<rect x="425.10" y="104.74" width="6.3" height="11.58" fill="#5ea83e"/>
<rect x="425.10" y="103.82" width="6.3" height="0.92" fill="#111111"/>
<rect x="425.10" y="99.51" width="6.3" height="4.32" fill="#f9dfc4"/>
<rect x="425.10" y="98.40" width="6.3" height="1.10" fill="#111111"/>
<rect x="425.10" y="70.28" width="6.3" height="28.12" fill="#f6f1d6"/>
<rect x="425.10" y="70.28" width="6.3" height="59.92" fill="none" stroke="#222" stroke-width="0.8"/>
<line x1="425.10" y1="117.24" x2="431.40" y2="117.24" stroke="#222" stroke-width="0.8" />
<line x1="425.10" y1="104.74" x2="431.40" y2="104.74" stroke="#222" stroke-width="0.8" />
<line x1="425.10" y1="99.51" x2="431.40" y2="99.51" stroke="#222" stroke-width="0.8" />
<text x="428.25" y="139.20" font-size="7.4" text-anchor="middle" font-weight="normal" fill="#222" >B</text>
<rect x="433.30" y="123.12" width="6.3" height="7.08" fill="#c01559"/>
<rect x="433.30" y="121.93" width="6.3" height="1.19" fill="#111111"/>
<rect x="433.30" y="118.16" width="6.3" height="3.77" fill="#d98bb9"/>
<rect x="433.30" y="117.33" width="6.3" height="0.83" fill="#111111"/>
<rect x="433.30" y="105.66" width="6.3" height="11.67" fill="#d8691b"/>
<rect x="433.30" y="105.66" width="6.3" height="24.54" fill="none" stroke="#222" stroke-width="0.8"/>
<line x1="433.30" y1="123.12" x2="439.60" y2="123.12" stroke="#222" stroke-width="0.8" />
<line x1="433.30" y1="118.16" x2="439.60" y2="118.16" stroke="#222" stroke-width="0.8" />
<text x="436.45" y="139.20" font-size="7.4" text-anchor="middle" font-weight="normal" fill="#222" >A</text>
<rect x="441.50" y="72.39" width="6.3" height="57.81" fill="#d8691b"/>
<rect x="441.50" y="72.39" width="6.3" height="57.81" fill="none" stroke="#222" stroke-width="0.8"/>
<text x="444.65" y="139.20" font-size="7.4" text-anchor="middle" font-weight="normal" fill="#222" >B</text>
<rect x="449.70" y="127.08" width="6.3" height="3.12" fill="#ebb5dd"/>
<rect x="449.70" y="125.70" width="6.3" height="1.38" fill="#111111"/>
<rect x="449.70" y="108.51" width="6.3" height="17.19" fill="#c01559"/>
<rect x="449.70" y="108.51" width="6.3" height="21.69" fill="none" stroke="#222" stroke-width="0.8"/>
<line x1="449.70" y1="127.08" x2="456.00" y2="127.08" stroke="#222" stroke-width="0.8" />
<text x="452.85" y="139.20" font-size="7.4" text-anchor="middle" font-weight="normal" fill="#222" >A</text>
<rect x="457.90" y="125.24" width="6.3" height="4.96" fill="#ebb5dd"/>
<rect x="457.90" y="122.94" width="6.3" height="2.30" fill="#111111"/>
<rect x="457.90" y="110.72" width="6.3" height="12.22" fill="#c01559"/>
<rect x="457.90" y="110.72" width="6.3" height="19.48" fill="none" stroke="#222" stroke-width="0.8"/>
<line x1="457.90" y1="125.24" x2="464.20" y2="125.24" stroke="#222" stroke-width="0.8" />
<text x="461.05" y="139.20" font-size="7.4" text-anchor="middle" font-weight="normal" fill="#222" >B</text>
<rect x="466.10" y="103.46" width="6.3" height="26.74" fill="#8b8a1f"/>
<rect x="466.10" y="102.35" width="6.3" height="1.10" fill="#111111"/>
<rect x="466.10" y="88.48" width="6.3" height="13.88" fill="#d42a79"/>
<rect x="466.10" y="87.37" width="6.3" height="1.10" fill="#111111"/>
<rect x="466.10" y="82.87" width="6.3" height="4.50" fill="#d3ebc8"/>
<rect x="466.10" y="82.87" width="6.3" height="47.33" fill="none" stroke="#222" stroke-width="0.8"/>
<line x1="466.10" y1="103.46" x2="472.40" y2="103.46" stroke="#222" stroke-width="0.8" />
<line x1="466.10" y1="88.48" x2="472.40" y2="88.48" stroke="#222" stroke-width="0.8" />
<text x="469.25" y="139.20" font-size="7.4" text-anchor="middle" font-weight="normal" fill="#222" >A</text>
<rect x="474.30" y="96.56" width="6.3" height="33.64" fill="#8b8a1f"/>
<rect x="474.30" y="95.74" width="6.3" height="0.83" fill="#111111"/>
<rect x="474.30" y="69.91" width="6.3" height="25.82" fill="#d42a79"/>
<rect x="474.30" y="68.26" width="6.3" height="1.65" fill="#111111"/>
<rect x="474.30" y="64.12" width="6.3" height="4.14" fill="#d3ebc8"/>
<rect x="474.30" y="64.12" width="6.3" height="66.08" fill="none" stroke="#222" stroke-width="0.8"/>
<line x1="474.30" y1="96.56" x2="480.60" y2="96.56" stroke="#222" stroke-width="0.8" />
<line x1="474.30" y1="69.91" x2="480.60" y2="69.91" stroke="#222" stroke-width="0.8" />
<text x="477.45" y="139.20" font-size="7.4" text-anchor="middle" font-weight="normal" fill="#222" >B</text>
<line x1="300.80" y1="143.80" x2="481.00" y2="143.80" stroke="#222" stroke-width="1.3" />
<text x="300.30" y="153.80" font-size="7.3" text-anchor="end" font-weight="normal" fill="#222" >NDMM #</text>
<text x="309.35" y="153.80" font-size="7.3" text-anchor="middle" font-weight="normal" fill="#222" >1</text>
<text x="325.75" y="153.80" font-size="7.3" text-anchor="middle" font-weight="normal" fill="#222" >2</text>
<text x="342.15" y="153.80" font-size="7.3" text-anchor="middle" font-weight="normal" fill="#222" >3</text>
<text x="358.55" y="153.80" font-size="7.3" text-anchor="middle" font-weight="normal" fill="#222" >4</text>
<text x="374.95" y="153.80" font-size="7.3" text-anchor="middle" font-weight="normal" fill="#222" >5</text>
<text x="391.35" y="153.80" font-size="7.3" text-anchor="middle" font-weight="normal" fill="#222" >6</text>
<text x="407.75" y="153.80" font-size="7.3" text-anchor="middle" font-weight="normal" fill="#222" >7</text>
<text x="424.15" y="153.80" font-size="7.3" text-anchor="middle" font-weight="normal" fill="#222" >8</text>
<text x="440.55" y="153.80" font-size="7.3" text-anchor="middle" font-weight="normal" fill="#222" >9</text>
<text x="456.95" y="153.80" font-size="7.3" text-anchor="middle" font-weight="normal" fill="#222" >10</text>
<text x="473.35" y="153.80" font-size="7.3" text-anchor="middle" font-weight="normal" fill="#222" >11</text>
<text x="493.30" y="25.40" font-size="7" text-anchor="middle" font-weight="normal" fill="#222" >Vβ</text>
<line x1="484.80" y1="29.20" x2="502.00" y2="29.20" stroke="#111" stroke-width="1.2" />
<rect x="489.6" y="32.45" width="8" height="2.9" rx="1.2" fill="#d8421f" stroke="#222" stroke-width="0.6"/>
<text x="500.60" y="36.00" font-size="6.2" text-anchor="start" font-weight="normal" fill="#333" >16</text>
<rect x="489.6" y="38.27" width="8" height="2.9" rx="1.2" fill="#d98bb9" stroke="#222" stroke-width="0.6"/>
<text x="500.60" y="41.82" font-size="6.2" text-anchor="start" font-weight="normal" fill="#333" >21.3</text>
<rect x="489.6" y="44.09" width="8" height="2.9" rx="1.2" fill="#d8691b" stroke="#222" stroke-width="0.6"/>
<text x="500.60" y="47.64" font-size="6.2" text-anchor="start" font-weight="normal" fill="#333" >14</text>
<rect x="489.6" y="49.91" width="8" height="2.9" rx="1.2" fill="#1f6d4b" stroke="#222" stroke-width="0.6"/>
<text x="500.60" y="53.46" font-size="6.2" text-anchor="start" font-weight="normal" fill="#333" >3</text>
<rect x="489.6" y="55.73" width="8" height="2.9" rx="1.2" fill="#1d1b78" stroke="#222" stroke-width="0.6"/>
<text x="500.60" y="59.28" font-size="6.2" text-anchor="start" font-weight="normal" fill="#333" >18</text>
<rect x="489.6" y="61.55" width="8" height="2.9" rx="1.2" fill="#d42a79" stroke="#222" stroke-width="0.6"/>
<text x="500.60" y="65.10" font-size="6.2" text-anchor="start" font-weight="normal" fill="#333" >13.1</text>
<rect x="489.6" y="67.37" width="8" height="2.9" rx="1.2" fill="#5ea83e" stroke="#222" stroke-width="0.6"/>
<text x="500.60" y="70.92" font-size="6.2" text-anchor="start" font-weight="normal" fill="#333" >8</text>
<rect x="489.6" y="73.19" width="8" height="2.9" rx="1.2" fill="#f6ee9c" stroke="#222" stroke-width="0.6"/>
<text x="500.60" y="76.74" font-size="6.2" text-anchor="start" font-weight="normal" fill="#333" >2</text>
<rect x="489.6" y="79.01" width="8" height="2.9" rx="1.2" fill="#d7c47f" stroke="#222" stroke-width="0.6"/>
<text x="500.60" y="82.56" font-size="6.2" text-anchor="start" font-weight="normal" fill="#333" >13.2</text>
<rect x="489.6" y="84.83" width="8" height="2.9" rx="1.2" fill="#8b8bcd" stroke="#222" stroke-width="0.6"/>
<text x="500.60" y="88.38" font-size="6.2" text-anchor="start" font-weight="normal" fill="#333" >9</text>
<rect x="489.6" y="90.65" width="8" height="2.9" rx="1.2" fill="#d3ebc8" stroke="#222" stroke-width="0.6"/>
<text x="500.60" y="94.20" font-size="6.2" text-anchor="start" font-weight="normal" fill="#333" >12</text>
<rect x="489.6" y="96.47" width="8" height="2.9" rx="1.2" fill="#3b0f4a" stroke="#222" stroke-width="0.6"/>
<text x="500.60" y="100.02" font-size="6.2" text-anchor="start" font-weight="normal" fill="#333" >7.1</text>
<rect x="489.6" y="102.29" width="8" height="2.9" rx="1.2" fill="#8b8a1f" stroke="#222" stroke-width="0.6"/>
<text x="500.60" y="105.84" font-size="6.2" text-anchor="start" font-weight="normal" fill="#333" >17</text>
<rect x="489.6" y="108.11" width="8" height="2.9" rx="1.2" fill="#ebb5dd" stroke="#222" stroke-width="0.6"/>
<text x="500.60" y="111.66" font-size="6.2" text-anchor="start" font-weight="normal" fill="#333" >5.3</text>
<rect x="489.6" y="113.93" width="8" height="2.9" rx="1.2" fill="#f6f1d6" stroke="#222" stroke-width="0.6"/>
<text x="500.60" y="117.48" font-size="6.2" text-anchor="start" font-weight="normal" fill="#333" >20</text>
<rect x="489.6" y="119.75" width="8" height="2.9" rx="1.2" fill="#e07d7a" stroke="#222" stroke-width="0.6"/>
<text x="500.60" y="123.30" font-size="6.2" text-anchor="start" font-weight="normal" fill="#333" >4</text>
<rect x="489.6" y="125.57" width="8" height="2.9" rx="1.2" fill="#e6e3a6" stroke="#222" stroke-width="0.6"/>
<text x="500.60" y="129.12" font-size="6.2" text-anchor="start" font-weight="normal" fill="#333" >13.6</text>
<rect x="489.6" y="131.39" width="8" height="2.9" rx="1.2" fill="#ecdcb5" stroke="#222" stroke-width="0.6"/>
<text x="500.60" y="134.94" font-size="6.2" text-anchor="start" font-weight="normal" fill="#333" >5.2</text>
<rect x="489.6" y="137.21" width="8" height="2.9" rx="1.2" fill="#e0690f" stroke="#222" stroke-width="0.6"/>
<text x="500.60" y="140.76" font-size="6.2" text-anchor="start" font-weight="normal" fill="#333" >11</text>
<rect x="489.6" y="143.03" width="8" height="2.9" rx="1.2" fill="#f7edc6" stroke="#222" stroke-width="0.6"/>
<text x="500.60" y="146.58" font-size="6.2" text-anchor="start" font-weight="normal" fill="#333" >22</text>
<rect x="489.6" y="148.85" width="8" height="2.9" rx="1.2" fill="#c01559" stroke="#222" stroke-width="0.6"/>
<text x="500.60" y="152.40" font-size="6.2" text-anchor="start" font-weight="normal" fill="#333" >5.1</text>
<rect x="42.20" y="232.80" width="56.3" height="56.6" fill="#fff" stroke="#aaa" stroke-width="0.6"/>
<line x1="42.20" y1="232.80" x2="42.20" y2="289.40" stroke="#777" stroke-width="0.6" />
<line x1="42.20" y1="289.40" x2="98.50" y2="289.40" stroke="#555" stroke-width="0.7" />
<line x1="42.20" y1="234.80" x2="43.10" y2="234.80" stroke="#777" stroke-width="0.35" />
<line x1="42.20" y1="237.35" x2="43.10" y2="237.35" stroke="#777" stroke-width="0.35" />
<line x1="42.20" y1="239.90" x2="43.10" y2="239.90" stroke="#777" stroke-width="0.35" />
<line x1="42.20" y1="242.45" x2="43.10" y2="242.45" stroke="#777" stroke-width="0.35" />
<line x1="42.20" y1="245.00" x2="43.10" y2="245.00" stroke="#777" stroke-width="0.35" />
<line x1="42.20" y1="247.55" x2="43.10" y2="247.55" stroke="#777" stroke-width="0.35" />
<line x1="42.20" y1="250.10" x2="43.10" y2="250.10" stroke="#777" stroke-width="0.35" />
<line x1="42.20" y1="252.65" x2="43.10" y2="252.65" stroke="#777" stroke-width="0.35" />
<line x1="42.20" y1="255.20" x2="43.10" y2="255.20" stroke="#777" stroke-width="0.35" />
<line x1="42.20" y1="257.75" x2="43.10" y2="257.75" stroke="#777" stroke-width="0.35" />
<line x1="42.20" y1="260.30" x2="43.10" y2="260.30" stroke="#777" stroke-width="0.35" />
<line x1="42.20" y1="262.85" x2="43.10" y2="262.85" stroke="#777" stroke-width="0.35" />
<line x1="42.20" y1="265.40" x2="43.10" y2="265.40" stroke="#777" stroke-width="0.35" />
<line x1="42.20" y1="267.95" x2="43.10" y2="267.95" stroke="#777" stroke-width="0.35" />
<line x1="42.20" y1="270.50" x2="43.10" y2="270.50" stroke="#777" stroke-width="0.35" />
<line x1="42.20" y1="273.05" x2="43.10" y2="273.05" stroke="#777" stroke-width="0.35" />
<line x1="42.20" y1="275.60" x2="43.10" y2="275.60" stroke="#777" stroke-width="0.35" />
<line x1="42.20" y1="278.15" x2="43.10" y2="278.15" stroke="#777" stroke-width="0.35" />
<line x1="42.20" y1="280.70" x2="43.10" y2="280.70" stroke="#777" stroke-width="0.35" />
<line x1="42.20" y1="283.25" x2="43.10" y2="283.25" stroke="#777" stroke-width="0.35" />
<line x1="42.20" y1="285.80" x2="43.10" y2="285.80" stroke="#777" stroke-width="0.35" />
<line x1="42.20" y1="288.35" x2="43.10" y2="288.35" stroke="#777" stroke-width="0.35" />
<line x1="44.20" y1="289.40" x2="44.20" y2="288.50" stroke="#777" stroke-width="0.35" />
<line x1="46.95" y1="289.40" x2="46.95" y2="288.50" stroke="#777" stroke-width="0.35" />
<line x1="49.70" y1="289.40" x2="49.70" y2="288.50" stroke="#777" stroke-width="0.35" />
<line x1="52.45" y1="289.40" x2="52.45" y2="288.50" stroke="#777" stroke-width="0.35" />
<line x1="55.20" y1="289.40" x2="55.20" y2="288.50" stroke="#777" stroke-width="0.35" />
<line x1="57.95" y1="289.40" x2="57.95" y2="288.50" stroke="#777" stroke-width="0.35" />
<line x1="60.70" y1="289.40" x2="60.70" y2="288.50" stroke="#777" stroke-width="0.35" />
<line x1="63.45" y1="289.40" x2="63.45" y2="288.50" stroke="#777" stroke-width="0.35" />
<line x1="66.20" y1="289.40" x2="66.20" y2="288.50" stroke="#777" stroke-width="0.35" />
<line x1="68.95" y1="289.40" x2="68.95" y2="288.50" stroke="#777" stroke-width="0.35" />
<line x1="71.70" y1="289.40" x2="71.70" y2="288.50" stroke="#777" stroke-width="0.35" />
<line x1="74.45" y1="289.40" x2="74.45" y2="288.50" stroke="#777" stroke-width="0.35" />
<line x1="77.20" y1="289.40" x2="77.20" y2="288.50" stroke="#777" stroke-width="0.35" />
<line x1="79.95" y1="289.40" x2="79.95" y2="288.50" stroke="#777" stroke-width="0.35" />
<line x1="82.70" y1="289.40" x2="82.70" y2="288.50" stroke="#777" stroke-width="0.35" />
<line x1="85.45" y1="289.40" x2="85.45" y2="288.50" stroke="#777" stroke-width="0.35" />
<line x1="88.20" y1="289.40" x2="88.20" y2="288.50" stroke="#777" stroke-width="0.35" />
<line x1="90.95" y1="289.40" x2="90.95" y2="288.50" stroke="#777" stroke-width="0.35" />
<line x1="93.70" y1="289.40" x2="93.70" y2="288.50" stroke="#777" stroke-width="0.35" />
<line x1="96.45" y1="289.40" x2="96.45" y2="288.50" stroke="#777" stroke-width="0.35" />
<text x="37.60" y="238.40" font-size="7" text-anchor="end" font-weight="normal" fill="#222" >250K</text>
<text x="37.60" y="249.06" font-size="7" text-anchor="end" font-weight="normal" fill="#222" >200K</text>
<text x="37.60" y="259.72" font-size="7" text-anchor="end" font-weight="normal" fill="#222" >150K</text>
<text x="37.60" y="270.38" font-size="7" text-anchor="end" font-weight="normal" fill="#222" >100K</text>
<text x="37.60" y="281.04" font-size="7" text-anchor="end" font-weight="normal" fill="#222" >50K</text>
<text x="37.60" y="291.70" font-size="7" text-anchor="end" font-weight="normal" fill="#222" >0</text>
<text x="39.70" y="301.30" font-size="7" text-anchor="start" font-weight="normal" fill="#222" >-10<tspan font-size="4.6" dy="-2.6">3</tspan></text>
<text x="53.20" y="301.30" font-size="7" text-anchor="start" font-weight="normal" fill="#222" >0</text>
<text x="59.20" y="301.30" font-size="7" text-anchor="start" font-weight="normal" fill="#222" >10<tspan font-size="4.6" dy="-2.6">3</tspan></text>
<text x="74.70" y="301.30" font-size="7" text-anchor="start" font-weight="normal" fill="#222" >10<tspan font-size="4.6" dy="-2.6">4</tspan></text>
<text x="88.20" y="301.30" font-size="7" text-anchor="start" font-weight="normal" fill="#222" >10<tspan font-size="4.6" dy="-2.6">5</tspan></text>
<ellipse cx="55.2" cy="289.40000000000003" rx="1.2" ry="0.7" fill="#111"/>
<g><path d="M59.5 285.2h0.7m25.7-18.5h0.7m-13.1-8.4h0.7m6 11.9h0.7m-11 9.7h0.7m-9.7-6.6h0.7m-1.4-5.2h0.7m18.7-12.9h0.7m-18.3 23.9h0.7m12.7-12.8h0.7m-0.1 8.8h0.7m-6.2-12.2h0.7m3.2 15.8h0.7m-12.5 2.6h0.7m11.3-4.1h0.7m4.3 2.4h0.7m-16.9-6.6h0.7m7.9 3.9h0.7m6.6-9.8h0.7m-9.5 10.2h0.7m-5.2-11.2h0.7m6.1 3.8h0.7m-3.3 4.3h0.7m0.1-2.2h0.7m-1.5 3.9h0.7m7.5-8.6h0.7m-14.3-1.1h0.7m8.8 10.7h0.7m-5.7-9.3h0.7m-3.3-0.8h0.7m-0.3-1.9h0.7m4.4 7.9h0.7m-0.8-9.9h0.7m10.9 13.9h0.7m-15.7-1.9h0.7m6.6-4.7h0.7m-21.9-4.8h0.7m11.5 11.5h0.7m12-2.3h0.7m-13 1.1h0.7m-0.2 5.4h0.7m5.2-11.4h0.7m-8.2 1.3h0.7m2.7-13.9h0.7m7.3 19.5h0.7m-11.4-0.3h0.7m-4.6-8.7h0.7m2-1.8h0.7m-3.8 4.5h0.7m2.6 1.4h0.7m0.7 0.7h0.7m-4-6.5h0.7m-9 10.5h0.7m18.3-0.1h0.7m-14-11.5h0.7m8-0.3h0.7m8.7 1.6h0.7m-1.5 7.8h0.7m-11.5-12.6h0.7m-4.1 0.4h0.7m-3.8 10.7h0.7m6-2.5h0.7m-7-0.2h0.7m-1.6 3.9h0.7m3.7-8.3h0.7m-1.3 2.9h0.7m15.1 0.6h0.7m-15.4-8h0.7m7.7 10h0.7m-11.1 3.8h0.7m-2.2-0.1h0.7m-2-11.5h0.7m5.2 1.4h0.7m10-3.2h0.7m-7.5 8.7h0.7m-6-1.5h0.7m15-9.3h0.7m-15.5 6.4h0.7m8.8-0.5h0.7m-8.6 1.5h0.7m12 10.8h0.7m-7.2-11.7h0.7m0.2 7.1h0.7m-1.7-4.8h0.7m-5.2-3h0.7m5.7 3.4h0.7m1.4-0.4h0.7m-1.7 2.6h0.7m-12 1.2h0.7m11.3 2.4h0.7m-10.7-13.6h0.7m-1.1 13h0.7m-10.1-0.8h0.7m14.5 9.6h0.7m2.5-12.9h0.7m-1.7 6.8h0.7m2.6 4.4h0.7m-16.3-13.8h0.7m13.8-4.8h0.7m-8.9 5.4h0.7m-5.4 6.6h0.7m7.9-7.4h0.7m1.9 7.7h0.7m-10.8 4.1h0.7m0.5-6h0.7m-6.7-14.4h0.7m4.5 4.9h0.7m7.2 9h0.7m-14.4-14.2h0.7m13.2 15.5h0.7m-8.3 5.8h0.7m-5-2.3h0.7m17-3.5h0.7m-12.1-6.8h0.7m4.2 9.1h0.7m-13-4h0.7m11.5-2.3h0.7m-10.7-4.3h0.7m1 1.8h0.7m4.6-7.7h0.7m5.3 11.9h0.7m2.4-0.6h0.7m-10.7-6.3h0.7m12.1 4.3h0.7m-15.4-0.6h0.7m-2.8 13h0.7m-2-9.9h0.7m16.9-0.6h0.7m-13.4 2.8h0.7m-12.2-2.9h0.7m10.4-0.3h0.7m6.7-2.5h0.7m-12-0.2h0.7m1.9 5.5h0.7m2.2-5.9h0.7m-12.2-1.5h0.7m11.6 4.8h0.7m-3.9-4.9h0.7m10.5 5.7h0.7m-17.2 3h0.7m8-0.6h0.7m3.7 1.9h0.7m9.1-2.4h0.7m-25.4-14.7h0.7m5.9 1.1h0.7m10.4 3.8h0.7m-10.4 0.7h0.7m8-3.5h0.7m-16.8-2.7h0.7m9.1 8.9h0.7m2.8 3.4h0.7m-1.6 8.9h0.7m7-9.8h0.7m-9.4 6.1h0.7m-11.9 3h0.7m16.3-0.8h0.7m-9.6-5.5h0.7m12-6.2h0.7m-10.5-6.4h0.7m-10.1 6.7h0.7m6.3-6h0.7m-5.6 5.9h0.7m-0.9 4h0.7m-5.8 5.5h0.7m8.3-12.2h0.7m-15 8.5h0.7m5.3-3.7h0.7m17.3 10h0.7m4.3-20.9h0.7m-14.7 11.5h0.7m-4.9 4.7h0.7m0.4-5.8h0.7m0.7-2.6h0.7m3.8-0.1h0.7m-3.7 1.4h0.7m5.8 0.3h0.7m-1.5 5.2h0.7m-11.2 0.7h0.7m0.2-4.9h0.7m-9.6 2.9h0.7m6.5-0.7h0.7m1.9-7.1h0.7m-3.5 3.4h0.7m-7.8 9.9h0.7m6.8-1h0.7m17.8-5.7h0.7m-4.2 9h0.7m-22-6.9h0.7m4.3-1.5h0.7m3 7.5h0.7m6.8-8.4h0.7m1.3 11.3h0.7m-14.6-8.6h0.7m-0.3-4.3h0.7m15.2 6h0.7m-20.7 1.1h0.7m10.8-0.8h0.7m-15.7-17.5h0.7m9.6 6.4h0.7m5.7 6.2h0.7m10.9-7.1h0.7m-13.9 11.7h0.7m9.1-13.3h0.7m-17.3 7.7h0.7m18.7-2.4h0.7m-9.6 7.4h0.7m-3.3-7.1h0.7m5.8 3h0.7m-6.4-0.6h0.7m4.6 4h0.7m-0.4-8.2h0.7m7.1 11.2h0.7m-12.9-6h0.7m-13.2-12.1h0.7m9 23.1h0.7m-2.7-8.3h0.7m4.4 6.9h0.7m0.3 0.9h0.7m-8.1-6.7h0.7m-4.5-9.4h0.7m3.6 2.3h0.7m-7.9 8.9h0.7m2.4-7h0.7m10.8 1.3h0.7m-3.6-7.1h0.7m-9 11.3h0.7m10.6-12.1h0.7m-18.1 4.7h0.7m12.5-4.9h0.7m-1.8 12.4h0.7m-2.3-14.5h0.7m-1.3 6.4h0.7m5.5 7.7h0.7m-6.3-3.2h0.7m4.6-1h0.7m-5-5.6h0.7m0.9 10.3h0.7m-4.1-4.6h0.7m-2.2-3.6h0.7m-11.9 15.5h0.7m6.3-19.3h0.7m12.3 6.2h0.7m-5.4-4.5h0.7m-13 6.8h0.7m0.9-4.7h0.7m8.7 2.3h0.7m7.3-0.7h0.7m-10.9 11.3h0.7m-3.2-9.1h0.7m1.3 9.5h0.7m7.2-14.9h0.7m-5.3 1.4h0.7m-6.3 1.8h0.7m1.2-3.7h0.7m23.8 4.6h0.7m-17 4.9h0.7m1.4 2.6h0.7m-4.5-6.1h0.7m-9.3 2.3h0.7m12.3-1.5h0.7m2-8.1h0.7m-7.5 16.7h0.7m2.6-11.2h0.7m-16.7-4.3h0.7m7 11.6h0.7m11.9-9.7h0.7m-13.8 0.6h0.7m-1 11.2h0.7m-0.1-1.3h0.7m10.5-9h0.7m3.2 2.9h0.7m-13.7 2.9h0.7m-6.5-5.5h0.7m19.7 13.9h0.7m-19.8-6.7h0.7m-11.1 11.3h0.7m13.7-14.9h0.7m-1.4-1.8h0.7m8.4 8.8h0.7m-22.3-10.5h0.7m32.9 12.6h0.7m-14.1 3.6h0.7m-9.2-13.8h0.7m-2.2-0.4h0.7m15-0.4h0.7m-7.5-10.4h0.7m-8.7 2.1h0.7m-6.3 11.3h0.7m12.5-3.2h0.7m3.8 0.9h0.7m0.9 5.1h0.7m-19.2-2.1h0.7m7-1.3h0.7m-1.8 6.5h0.7m6.6-15.3h0.7m2.6 8.4h0.7m-1.9 4h0.7m-11-2h0.7m6.9-3.4h0.7m-12.2-1.8h0.7m12 5.4h0.7m-4.4 4.7h0.7m-2.9-9.4h0.7m-5.2 9.6h0.7m10.3-11.2h0.7m5.1-3.7h0.7m-18 8h0.7m-9.9-7.7h0.7m6.5 12.3h0.7m20.8-15.6h0.7m-16.7 12.8h0.7m-9.8 1.1h0.7m7.4-11h0.7m9 11.3h0.7m-6.9 2.3h0.7m6.5-5.8h0.7m0 3.7h0.7m-8 6.9h0.7m-1.2-4.6h0.7m-3.3-7.9h0.7m-4.7-1.2h0.7m1.6-4.7h0.7m-6.6 5.8h0.7m15.3 11.6h0.7m-10.4-5.7h0.7m-9-5.6h0.7m13.9 2.9h0.7m-10.9-2.1h0.7m5-0.7h0.7m-14-8.2h0.7m21.5 0.4h0.7m-14.1 8.3h0.7m13.4-3.4h0.7m-7.4 5.1h0.7m-4.6 0.1h0.7m-0.7 3.8h0.7m6.9-2.8h0.7m-3.8-3.2h0.7m6.7-2.4h0.7m-16 1h0.7m9.6 8.1h0.7m6.8-4.5h0.7m-10.9 1.4h0.7m-5.2-3.2h0.7m1-4.1h0.7m2.2 6.5h0.7m-9.4-14h0.7m-3 17.8h0.7m18.4 1.1h0.7m-15.3-3.8h0.7m14.3 0.7h0.7m-6.2 3.2h0.7m-0.4-8.7h0.7m-15.5-7.6h0.7m3.7 6.6h0.7m3.6 13.8h0.7m-0.3-11.4h0.7m-7.6-4.6h0.7m-4.5 3.1h0.7m6.3 4.6h0.7m2.4 0.8h0.7m8.4-1.9h0.7m-11.8 3.1h0.7m10.9-6.2h0.7m-16 9.9h0.7m7.9 4.5h0.7m5.8-17.1h0.7m-13.9 16.6h0.7m-4-17.6h0.7m23.5 5.4h0.7m-28.2 3h0.7m10.6 0.2h0.7m-4.7 4.2h0.7m-1.3-4.9h0.7m1.6 5.4h0.7m2.3-2.1h0.7m-0.4-8.2h0.7m2.4 5.5h0.7m-4.8-3.2h0.7m10.2-3.3h0.7m-21.2 1.9h0.7m6.6 2.2h0.7m10.1-14.2h0.7m-14.4 17.5h0.7m4.5-4.1h0.7m2.1-0.2h0.7m-11.7 3.3h0.7m6.5-5.6h0.7m1.9 0h0.7m5.2-2.1h0.7m-3.7 5.6h0.7m-5.4 1.1h0.7m5.2 4.1h0.7m-2.5-4.4h0.7m-2-10.1h0.7m-2 3h0.7m-6.8 6.5h0.7m6.6-1.2h0.7m-3.1-0.2h0.7m-3.2 0h0.7m10-5.3h0.7m-15-7.9h0.7m1.4 12.9h0.7m7.9 1.8h0.7m3.4-0.6h0.7m-23 0.4h0.7m3.8 2.5h0.7m22.6-6.9h0.7m-12.8 0.9h0.7m4.9-7.8h0.7m-11.1 10h0.7m3.2 4.2h0.7m-6.2-4.2h0.7m1.8 1.6h0.7m2.9-3.2h0.7m-15 8h0.7m10.6-12.5h0.7m7.4 4h0.7m-15.4 9h0.7m-9.2-6.9h0.7m15.1-0.9h0.7m-2.6-4h0.7m-7.3 5.3h0.7m-1.5 4.4h0.7m4.7 6.7h0.7m12.8-3h0.7m-26.2-12.6h0.7m17.8 2.6h0.7m10.2 8.4h0.7m-14.3-5.7h0.7m-9.2 7.1h0.7m14.8-15.5h0.7m-8.7 12.4h0.7m-5.2-2h0.7m7.4 0.7h0.7m-2.5 2.3h0.7m-0.9-5.9h0.7m-0.4 1.6h0.7m-10-10.9h0.7m9.3 8.6h0.7m3.2 1.5h0.7m2.2-5.8h0.7m12.7-3.7h0.7m-13.3 6.4h0.7m-6.5 11.2h0.7m-2-12.1h0.7m8.4-0.4h0.7m-17.8 8.4h0.7m-2.8-6.2h0.7m-4-0.6h0.7m12-2.8h0.7m-9.1 7.1h0.7m-4.6-2.5h0.7m7.3 3.4h0.7m6.5-1.9h0.7m-1 5.9h0.7m-2.3-0.1h0.7m-9.4-5.8h0.7m-5.5 6.3h0.7m6.7-10.1h0.7m-2.9 5.5h0.7m2.6 6.3h0.7m-3.6-9.8h0.7m-2 0.2h0.7m3.9-4.1h0.7m-1.7 5.5h0.7m-2.1-7.5h0.7m5.1-2.7h0.7m-2.1 2.9h0.7m-11 5.3h0.7m9.7 2.2h0.7m-10.8-7.2h0.7m15.1 6.7h0.7m-1.4-1h0.7m-17.5 3.3h0.7m3-9.5h0.7m17.1 16.5h0.7m-16.6-8.4h0.7m-7.8 2.2h0.7m14.4-5.6h0.7m-9.6 2h0.7m9.5 5.3h0.7m-13.2-8h0.7m10.2 10.8h0.7m3.6-1.6h0.7m3.2-6.7h0.7m-4.5 3.5h0.7m-4.4-4.9h0.7m8 7.7h0.7m-7.7-11.1h0.7m0.8 9.3h0.7m-6.2-9.6h0.7m-10.6-3.9h0.7m11.8 9.2h0.7m-0.3 4.1h0.7m-4-7.1h0.7m2-3.6h0.7m-9.1 19.8h0.7m1-14.5h0.7m14.1-4.5h0.7m0.8 1.5h0.7m-1.6-1.4h0.7m-4.1 6.9h0.7m-7.8-6.9h0.7m-6.6-3.3h0.7m9.3 13.1h0.7m-19.9 2.2h0.7m17.1 2h0.7m-15.5-19h0.7m10.5 19h0.7m-4.6-6.3h0.7m-1.4 4.4h0.7m12-1h0.7m-16.9-5.2h0.7m21.4-3.4h0.7m-28.6 0.7h0.7m6.4 12.3h0.7m13-14.5h0.7m-2.3 4.4h0.7m-10.1 7.9h0.7m6.8-4.7h0.7m-14-12.8h0.7m16.8 13.3h0.7m-3.6 4.3h0.7m2.3-11.5h0.7m0.8-1.4h0.7m-12.1 5.3h0.7m4.7-0.5h0.7m-10.7-6.2h0.7m16.8 2.5h0.7m-10.2 4.9h0.7m-1.1 4.2h0.7m-0.8 0.7h0.7m1.3 8.5h0.7m-2.7-10.6h0.7m2.9-0.4h0.7m-1 0.4h0.7m-13.4 5.7h0.7m9.7-11.6h0.7m-11.8-3h0.7m26.8 7.5h0.7m-29.7-2.6h0.7m10.4-3.2h0.7m1 1.3h0.7m3.8 3.9h0.7m-2-5.3h0.7m-7.3 2.8h0.7m-0.1 2.2h0.7m5 5.7h0.7m-19.9-9.9h0.7m14 4.3h0.7m-9.9 1h0.7m8-11.2h0.7m-2 8.6h0.7m14.4 0.4h0.7m-24.8-4.9h0.7m21.8 3.5h0.7m-10.5 4.5h0.7m-5.6 1h0.7m14.4-11.6h0.7m-26.5 11.5h0.7m1.1-0.7h0.7m-3-15.7h0.7m8.3 13.4h0.7m1.1-1.3h0.7m-5.9-6.9h0.7m1 2.7h0.7m11.3-1.7h0.7m-15 1.4h0.7m13.4 3.9h0.7m-5 0.9h0.7m-1.2 4.2h0.7m-3.2 3.1h0.7m-8.3-7.5h0.7m0 0.1h0.7m5.2 2.4h0.7m10.5-3h0.7m-10.7-3.2h0.7m0.4 4.7h0.7m5.1-0.6h0.7m-13.9-3h0.7m-2.7 8.8h0.7m11.6-9h0.7m-0.2 3.1h0.7m6.9-0.7h0.7m-16.9 0.2h0.7m5.5-2.1h0.7m-6.7-0.7h0.7m6.9-7.8h0.7m0.6 12.5h0.7m13.6 4.8h0.7m-10.2-3.6h0.7m3.4-0.9h0.7m-13.2-6.2h0.7m2.4 0.3h0.7m-3 6.5h0.7m-2.8-1.4h0.7m5.1-0.3h0.7m-9.1-0.8h0.7m13.8-4h0.7m-6.4-3.3h0.7m-2.6 7.7h0.7m13.5-0.1h0.7m-28.9-7.9h0.7m15.5 6.3h0.7m4.8 8.5h0.7m-15.2-5.6h0.7m3.4-14h0.7m-16 6.4h0.7m9.8 14.6h0.7m13.6-19.7h0.7m-8.3 4.8h0.7m7.4 4.4h0.7m0.1 12.9h0.7m-25.3-6.7h0.7m23.8 7.6h0.7m-12.9-24h0.7m4.8 28h0.7m7.9-11.8h0.7m-9.5-11.4h0.7m-1.3 9h0.7m-7.4 5.6h0.7m4.8-3.2h0.7m2-4.9h0.7m-7.2-11.1h0.7m7.8 10.2h0.7m-5.5-2.5h0.7m-3.3 0.5h0.7m0.4-6.3h0.7m-9.1 0.3h0.7m6.8 6.6h0.7m3.5 7.3h0.7m-10.8-0.3h0.7m6.6-7h0.7m-2.1 5.2h0.7m7.6-7.1h0.7m-1.4-4.9h0.7m-5.9 13.9h0.7m-13.6-10.5h0.7m6.5 9.6h0.7m15.5-3.7h0.7m-14.4 6.6h0.7m3.1-12.2h0.7m-14.2 4.3h0.7m14.1 4h0.7m-19 1.6h0.7m6.5 0.6h0.7m13.9-7.9h0.7m-5.3 0.5h0.7m1.6 3.2h0.7m-4.1 10.6h0.7m-4.6-6.6h0.7m9.7 4.5h0.7m-6.7-5.8h0.7m-4.7-15.3h0.7m10 10.6h0.7m-17-1.3h0.7m12.3 13.9h0.7m8-15.6h0.7m-10.9 4.2h0.7m7.2 1.2h0.7m-9.6 12.6h0.7m10-8.4h0.7m-14.9-6.1h0.7m-3.6 5.9h0.7m2.7-6.4h0.7m1.9 2h0.7m-2.8 3.4h0.7m4-0.5h0.7m-15.8-4h0.7m4.6 7.9h0.7m-3.3-16.3h0.7m-4.8 11.6h0.7m12.1-12.1h0.7m1.1 6.7h0.7m5.9 7.1h0.7m0.2-6.5h0.7m5.9 1h0.7m-14.4 5.8h0.7m-9.3-6.4h0.7m10.1 4.2h0.7m-14.6-1.1h0.7m6.5 4.4h0.7m1.7 0.3h0.7m-5.9 2.6h0.7m-1.6-11.8h0.7m12.2 3.7h0.7m-7.1 0.2h0.7m-0.4-6h0.7m-0.7 15.1h0.7m0.5-9.1h0.7m4.3-0.2h0.7m-2.5-1.7h0.7m4.4-4.6h0.7m-11.9 10.2h0.7m-2.4-5.6h0.7m-2.6 5h0.7m-4.7-10.9h0.7m3.2 12.4h0.7m1.2-10.6h0.7m-1.3 4h0.7m-3.8 2.1h0.7m3.5 2.3h0.7m-7.5-2.2h0.7m8.2-2.3h0.7m1.4-1.7h0.7m-4.7 9.6h0.7m0.5-8.9h0.7m2.2 3.5h0.7m1.1-2.2h0.7m1.7 0.1h0.7m-3.9-3.5h0.7m-9.6 3.7h0.7m-1.1-6.8h0.7m9 5.5h0.7m6 8.2h0.7m-20.3-8.3h0.7m11.1 16.2h0.7m-9.9-13.3h0.7m8.9 0.7h0.7m-10.7-10.1h0.7m-4.1 8.4h0.7m11.7-6.6h0.7m-10.1-1.3h0.7m12.7 8.9h0.7m-17.3 1.4h0.7m0.6 1.2h0.7m9.7-7.9h0.7m-1.3 18.9h0.7m-5.5-16.9h0.7m4.1 1.3h0.7m-9.7 0.3h0.7m22.4-2.7h0.7m-19.9 6.7h0.7m10.7-10.1h0.7m-12.3 9.9h0.7m17.7 4.3h0.7m-11.5-1.8h0.7m-6.1 3.7h0.7m-8.4-10.4h0.7m17.9-3h0.7m-4.6-0.1h0.7m-5 5.6h0.7m-3-4.2h0.7m-5.9 1.3h0.7m9.6-0.8h0.7m8-5.5h0.7m-6.1 11.1h0.7m2.7-6.3h0.7m-15.7 11.6h0.7m15.4-3.9h0.7m-19.7-11.8h0.7m0.1 5.9h0.7m-5.2-1.5h0.7m13.1 1.9h0.7m0.1 13.5h0.7m-0.8-11.6h0.7m-3.4-5.9h0.7m-1.5 10.2h0.7m1.2-5.9h0.7m-1.1 2.3h0.7m-1.1-4.7h0.7m-15.9 12.8h0.7m13.4-2h0.7m-1.5-8.2h0.7m8.6 14.8h0.7m0.6-24.5h0.7m-9 8.8h0.7m7.3 10h0.7m-8.9-2.4h0.7m-2.8 1.3h0.7m-1.5-6.3h0.7m-10.5 6.4h0.7m10.9-10.1h0.7m-3.5 10.5h0.7m-4.6-7.9h0.7m11.6 8.1h0.7m-8.1-5.8h0.7m-2.6 12.1h0.7m3.7-20.2h0.7m-12.1 8h0.7m23.2-8.2h0.7m-6.2 7.4h0.7m-7.2 2.2h0.7m10.7-9.9h0.7m-28.1 9.9h0.7m13.8-1.1h0.7m-2.9-19.8h0.7m9.9 12.3h0.7m-10.5 3.4h0.7m-7.3 2.4h0.7m-3.2 11.9h0.7m-1.1-15.1h0.7m13.5 0.6h0.7m-1.8 0.4h0.7m-7.9-1h0.7m14.8-1.1h0.7m1.1 5.1h0.7m-17.3-11.6h0.7m3.3 16.6h0.7m-2.8-12h0.7m10.5 10.2h0.7m-8 5.8h0.7m0.6-12.9h0.7m-3.6-0.1h0.7m5.7-3.1h0.7m-7 4.9h0.7m3.8 4.3h0.7m-1.8 4.6h0.7m-6.4-11.1h0.7m2.5-5.1h0.7m1 6.9h0.7m-0.6 2.7h0.7m-4.1 5.5h0.7m12.3-11.6h0.7m-19.6 1.1h0.7m3-2.8h0.7m-4 1.4h0.7m0.6 5.2h0.7m-0.9-0.9h0.7m14.3-2.4h0.7m-5.5-6.1h0.7m-4.5 9.3h0.7m5.8-4.1h0.7m-12.4-1.2h0.7m14.1 1.5h0.7m-5.1 3.8h0.7m-22.6 2.8h0.7m10.9-6.8h0.7m9.5 10.5h0.7m-6.5 5.7h0.7m-6.4-1.3h0.7m5-11.4h0.7m0.6 5.5h0.7m-5.7-11.3h0.7m-1.3 4.4h0.7m9.2 0.9h0.7m-1.8 5.9h0.7m0-0.4h0.7m-8.5-3.1h0.7m4.7-9.5h0.7m3 8.9h0.7m-18.8-9.4h0.7m13.2 5.8h0.7m-0.8 6.3h0.7m-10.4-8h0.7m5.3 10.3h0.7m-5.9-5.1h0.7m9.3-2.8h0.7m-12.4 3.8h0.7m6.2-3.8h0.7m6-5.2h0.7m1.1 7.3h0.7m-9.4 2.4h0.7m-0.8-0.6h0.7m3.5-9.2h0.7m-2.8 10.1h0.7m-9.9-8.6h0.7m5.4 1.3h0.7m2.4 7.3h0.7m-1.7-2.4h0.7m4.6 0.6h0.7m2-9h0.7m-14.8 8.3h0.7m12.4 2.9h0.7m-10.2-7.5h0.7m-0.5 3.2h0.7m0.7 11.9h0.7m0.2-12.8h0.7m-0.3-1.9h0.7m-2.6 14.8h0.7m1.5-9.5h0.7m-8.9 2.9h0.7m3.9 0.7h0.7m-3.1 0.1h0.7m7.8-6.5h0.7m-18.9-1.3h0.7m18.4 0.7h0.7m7.3 5h0.7m-16.3-4.9h0.7m3 0.1h0.7m-5.1-11.7h0.7m4.2 8.2h0.7m4.6 3.5h0.7m-10.3 1h0.7m7.1 1.8h0.7m-1 2.7h0.7m2-13.1h0.7m-8.2 13.2h0.7m-11.5 10.4h0.7m13.1-8.2h0.7m6-0.1h0.7m-16.5-8.5h0.7m7 9.2h0.7m-3.3-5.9h0.7m4.8 0.7h0.7m-16.5 4.8h0.7m10.5-11.8h0.7m18.3 9.5h0.7m-17.9 4.9h0.7m-2 0.6h0.7m-8.1 1.8h0.7m3-6.1h0.7m-3.1 1h0.7m16.4-13.2h0.7m-11.6 6.4h0.7m2.5-12.4h0.7m-7.4 15.3h0.7m12.3 9h0.7m-23.3-1.6h0.7m13.9-10.1h0.7m3.4 5.3h0.7m2.8-3.1h0.7m-14.3-14.6h0.7m-4.2 5.1h0.7m16.8 6.9h0.7m-9.9 6.3h0.7m11.9 2.8h0.7m-3-8.4h0.7m-9.5-3.3h0.7m-7.5 1.7h0.7" stroke="#e07a7a" stroke-width="0.7" fill="none" opacity="0.55"/><ellipse cx="69.2" cy="268.8" rx="13" ry="9" transform="rotate(-15 69.2 268.8)" fill="none" stroke="#cf4a4a" stroke-width="0.45" opacity="0.45"/><ellipse cx="68.2" cy="267.8" rx="10" ry="7" transform="rotate(-10 68.2 267.8)" fill="none" stroke="#cf4a4a" stroke-width="0.45" opacity="0.4"/><ellipse cx="66.2" cy="265.8" rx="7" ry="5" transform="rotate(0 66.2 265.8)" fill="none" stroke="#cf4a4a" stroke-width="0.45" opacity="0.4"/><ellipse cx="74.4" cy="278.1" rx="3.2" ry="2.6" transform="rotate(0 74.4 278.1)" fill="none" stroke="#cf4a4a" stroke-width="0.45" opacity="0.8"/><ellipse cx="74.4" cy="278.1" rx="2" ry="1.6" transform="rotate(0 74.4 278.1)" fill="none" stroke="#cf4a4a" stroke-width="0.45" opacity="0.8"/><ellipse cx="63.2" cy="272.8" rx="5" ry="4.5" transform="rotate(0 63.2 272.8)" fill="none" stroke="#cf4a4a" stroke-width="0.45" opacity="0.35"/><ellipse cx="78.2" cy="272.8" rx="7" ry="5" transform="rotate(-30 78.2 272.8)" fill="none" stroke="#cf4a4a" stroke-width="0.45" opacity="0.35"/><ellipse cx="72.2" cy="262.8" rx="6" ry="4" transform="rotate(-20 72.2 262.8)" fill="none" stroke="#cf4a4a" stroke-width="0.45" opacity="0.35"/><path d="M54.400000000000006,283.3 C53.6,276.8 53.800000000000004,270.8 54.800000000000004,267.8 C56.7,265.8 56.2,266.0 59.2,266.0 L58.800000000000004,267.8 C55.2,268.0 58.7,268.40000000000003 57.400000000000006,270.0 C57.2,274.8 57.5,279.8 57.800000000000004,283.3 C57.2,285.1 55.0,285.1 54.400000000000006,283.3 Z" fill="#e8a0a0" stroke="#c02a2a" stroke-width="0.9"/><path d="M55.400000000000006,282.8 C55.0,277.8 55.2,272.8 55.800000000000004,269.8" fill="none" stroke="#c43a3a" stroke-width="0.7"/><ellipse cx="82.7" cy="261.40000000000003" rx="6.6" ry="4.0" transform="rotate(-50 82.7 261.40000000000003)" fill="#f6d4d4" stroke="#d86060" stroke-width="0.45"/><ellipse cx="82.7" cy="261.40000000000003" rx="5.3" ry="3.2" transform="rotate(-50 82.7 261.40000000000003)" fill="none" stroke="#cc4444" stroke-width="0.7"/><ellipse cx="82.7" cy="261.40000000000003" rx="4.0" ry="2.4" transform="rotate(-50 82.7 261.40000000000003)" fill="none" stroke="#c03636" stroke-width="0.7"/><ellipse cx="82.7" cy="261.40000000000003" rx="2.7" ry="1.6" transform="rotate(-50 82.7 261.40000000000003)" fill="none" stroke="#c03636" stroke-width="0.7"/><ellipse cx="82.7" cy="261.40000000000003" rx="1.4" ry="0.8" transform="rotate(-50 82.7 261.40000000000003)" fill="none" stroke="#d86a6a" stroke-width="0.7"/></g>
<polygon points="84.50,249.30 95.40,259.60 83.20,271.50 72.60,261.20" fill="none" stroke="#222" stroke-width="0.8"/>
<text x="74.60" y="244.90" font-size="5.6" text-anchor="middle" font-weight="normal" fill="#333" >17%</text>
<text x="70.35" y="226.90" font-size="8.9" text-anchor="middle" font-weight="normal" fill="#111" >Target</text>
<rect x="126.60" y="232.80" width="56.3" height="56.6" fill="#fff" stroke="#aaa" stroke-width="0.6"/>
<line x1="126.60" y1="232.80" x2="126.60" y2="289.40" stroke="#777" stroke-width="0.6" />
<line x1="126.60" y1="289.40" x2="182.90" y2="289.40" stroke="#555" stroke-width="0.7" />
<line x1="126.60" y1="234.80" x2="127.50" y2="234.80" stroke="#777" stroke-width="0.35" />
<line x1="126.60" y1="237.35" x2="127.50" y2="237.35" stroke="#777" stroke-width="0.35" />
<line x1="126.60" y1="239.90" x2="127.50" y2="239.90" stroke="#777" stroke-width="0.35" />
<line x1="126.60" y1="242.45" x2="127.50" y2="242.45" stroke="#777" stroke-width="0.35" />
<line x1="126.60" y1="245.00" x2="127.50" y2="245.00" stroke="#777" stroke-width="0.35" />
<line x1="126.60" y1="247.55" x2="127.50" y2="247.55" stroke="#777" stroke-width="0.35" />
<line x1="126.60" y1="250.10" x2="127.50" y2="250.10" stroke="#777" stroke-width="0.35" />
<line x1="126.60" y1="252.65" x2="127.50" y2="252.65" stroke="#777" stroke-width="0.35" />
<line x1="126.60" y1="255.20" x2="127.50" y2="255.20" stroke="#777" stroke-width="0.35" />
<line x1="126.60" y1="257.75" x2="127.50" y2="257.75" stroke="#777" stroke-width="0.35" />
<line x1="126.60" y1="260.30" x2="127.50" y2="260.30" stroke="#777" stroke-width="0.35" />
<line x1="126.60" y1="262.85" x2="127.50" y2="262.85" stroke="#777" stroke-width="0.35" />
<line x1="126.60" y1="265.40" x2="127.50" y2="265.40" stroke="#777" stroke-width="0.35" />
<line x1="126.60" y1="267.95" x2="127.50" y2="267.95" stroke="#777" stroke-width="0.35" />
<line x1="126.60" y1="270.50" x2="127.50" y2="270.50" stroke="#777" stroke-width="0.35" />
<line x1="126.60" y1="273.05" x2="127.50" y2="273.05" stroke="#777" stroke-width="0.35" />
<line x1="126.60" y1="275.60" x2="127.50" y2="275.60" stroke="#777" stroke-width="0.35" />
<line x1="126.60" y1="278.15" x2="127.50" y2="278.15" stroke="#777" stroke-width="0.35" />
<line x1="126.60" y1="280.70" x2="127.50" y2="280.70" stroke="#777" stroke-width="0.35" />
<line x1="126.60" y1="283.25" x2="127.50" y2="283.25" stroke="#777" stroke-width="0.35" />
<line x1="126.60" y1="285.80" x2="127.50" y2="285.80" stroke="#777" stroke-width="0.35" />
<line x1="126.60" y1="288.35" x2="127.50" y2="288.35" stroke="#777" stroke-width="0.35" />
<line x1="128.60" y1="289.40" x2="128.60" y2="288.50" stroke="#777" stroke-width="0.35" />
<line x1="131.35" y1="289.40" x2="131.35" y2="288.50" stroke="#777" stroke-width="0.35" />
<line x1="134.10" y1="289.40" x2="134.10" y2="288.50" stroke="#777" stroke-width="0.35" />
<line x1="136.85" y1="289.40" x2="136.85" y2="288.50" stroke="#777" stroke-width="0.35" />
<line x1="139.60" y1="289.40" x2="139.60" y2="288.50" stroke="#777" stroke-width="0.35" />
<line x1="142.35" y1="289.40" x2="142.35" y2="288.50" stroke="#777" stroke-width="0.35" />
<line x1="145.10" y1="289.40" x2="145.10" y2="288.50" stroke="#777" stroke-width="0.35" />
<line x1="147.85" y1="289.40" x2="147.85" y2="288.50" stroke="#777" stroke-width="0.35" />
<line x1="150.60" y1="289.40" x2="150.60" y2="288.50" stroke="#777" stroke-width="0.35" />
<line x1="153.35" y1="289.40" x2="153.35" y2="288.50" stroke="#777" stroke-width="0.35" />
<line x1="156.10" y1="289.40" x2="156.10" y2="288.50" stroke="#777" stroke-width="0.35" />
<line x1="158.85" y1="289.40" x2="158.85" y2="288.50" stroke="#777" stroke-width="0.35" />
<line x1="161.60" y1="289.40" x2="161.60" y2="288.50" stroke="#777" stroke-width="0.35" />
<line x1="164.35" y1="289.40" x2="164.35" y2="288.50" stroke="#777" stroke-width="0.35" />
<line x1="167.10" y1="289.40" x2="167.10" y2="288.50" stroke="#777" stroke-width="0.35" />
<line x1="169.85" y1="289.40" x2="169.85" y2="288.50" stroke="#777" stroke-width="0.35" />
<line x1="172.60" y1="289.40" x2="172.60" y2="288.50" stroke="#777" stroke-width="0.35" />
<line x1="175.35" y1="289.40" x2="175.35" y2="288.50" stroke="#777" stroke-width="0.35" />
<line x1="178.10" y1="289.40" x2="178.10" y2="288.50" stroke="#777" stroke-width="0.35" />
<line x1="180.85" y1="289.40" x2="180.85" y2="288.50" stroke="#777" stroke-width="0.35" />
<text x="122.00" y="238.40" font-size="7" text-anchor="end" font-weight="normal" fill="#222" >250K</text>
<text x="122.00" y="249.06" font-size="7" text-anchor="end" font-weight="normal" fill="#222" >200K</text>
<text x="122.00" y="259.72" font-size="7" text-anchor="end" font-weight="normal" fill="#222" >150K</text>
<text x="122.00" y="270.38" font-size="7" text-anchor="end" font-weight="normal" fill="#222" >100K</text>
<text x="122.00" y="281.04" font-size="7" text-anchor="end" font-weight="normal" fill="#222" >50K</text>
<text x="122.00" y="291.70" font-size="7" text-anchor="end" font-weight="normal" fill="#222" >0</text>
<text x="124.10" y="301.30" font-size="7" text-anchor="start" font-weight="normal" fill="#222" >-10<tspan font-size="4.6" dy="-2.6">3</tspan></text>
<text x="137.60" y="301.30" font-size="7" text-anchor="start" font-weight="normal" fill="#222" >0</text>
<text x="143.60" y="301.30" font-size="7" text-anchor="start" font-weight="normal" fill="#222" >10<tspan font-size="4.6" dy="-2.6">3</tspan></text>
<text x="159.10" y="301.30" font-size="7" text-anchor="start" font-weight="normal" fill="#222" >10<tspan font-size="4.6" dy="-2.6">4</tspan></text>
<text x="172.60" y="301.30" font-size="7" text-anchor="start" font-weight="normal" fill="#222" >10<tspan font-size="4.6" dy="-2.6">5</tspan></text>
<ellipse cx="139.6" cy="289.40000000000003" rx="1.2" ry="0.7" fill="#111"/>
<g><path d="M163.8 275.2h0.7m-4.7-6.2h0.7m-0.9-1.2h0.7m-21.7-7.7h0.7m13 11.8h0.7m-0.5-0.2h0.7m-5.4-0.3h0.7m8.8 1.9h0.7m5.2-2.4h0.7m-1.4-6.6h0.7m-9.1 9h0.7m-3.8-2.6h0.7m13.2-2.7h0.7m-9.8-6.6h0.7m3 8.2h0.7m-1.3 2.1h0.7m7.7-1.3h0.7m-17.5 1h0.7m-12.4-9.3h0.7m1.9 1.4h0.7m2 9.1h0.7m22.8-0.4h0.7m-20.5-3.6h0.7m6.7 9.1h0.7m-11.3-22.5h0.7m-2.7 18.6h0.7m7.4-5.9h0.7m7.8 0.7h0.7m8 0.3h0.7m-14.7-1.8h0.7m-11.9 5.1h0.7m4.6 4.8h0.7m-0.6 1.3h0.7m0.2-17.7h0.7m6.9-1.3h0.7m-13.1 18.1h0.7m7.1-9.8h0.7m-5.2-3.9h0.7m7.7 10.6h0.7m-3.5-13.7h0.7m-3.4 8.8h0.7m-5.4-5.4h0.7m7.7-2.7h0.7m-3 6.6h0.7m-3-2.1h0.7m9.2 13.3h0.7m-0.5-24h0.7m-19.9 28.2h0.7m4.1-21.6h0.7m12.4-2.7h0.7m2.9 14.7h0.7m-20.5-9.1h0.7m-3.6 18.7h0.7m16.5-1.6h0.7m-4.4-8.7h0.7m12.3 4.9h0.7m-8.3-6.7h0.7m-7.5-6.6h0.7m13.6 0.9h0.7m-26.4 7.7h0.7m17-11.6h0.7m-0.4 6.3h0.7m-12.3 0.2h0.7m17.5 4h0.7m-14.1-1h0.7m-12-4.7h0.7m17.4 6.2h0.7m1.1-8h0.7m3.4 10.1h0.7m-12.7 2h0.7m20.8-9h0.7m-19.7 3.3h0.7m-6.6-7h0.7m4.7 11.7h0.7m2.2-7.4h0.7m-12.8-3.7h0.7m1.7 11.7h0.7m1.5-8.4h0.7m0.1 1h0.7m5.6 1.3h0.7m-9.9 5.5h0.7m-0.5-6.4h0.7m7.4-6.5h0.7m2.8 1.8h0.7m-14.4 2.6h0.7m-2.5-1.6h0.7m6.4 0.9h0.7m8.9-0.9h0.7m-11.8 4.8h0.7m5.8 10.4h0.7m-14.4-7.7h0.7m3.3-7.2h0.7m6.5 4.3h0.7m5.1-6.3h0.7m-0.5-2.5h0.7m-12.5 4h0.7m2-3.2h0.7m-6.9 5.8h0.7m1.4-10.8h0.7m21 5.2h0.7m-7.4 11h0.7m-13.6 0.1h0.7m1-3.9h0.7m13.3 3.9h0.7m-8-10.9h0.7m-2.5-6.9h0.7m0.1 18.4h0.7m-10.9-4.6h0.7m6.1-7.1h0.7m-3.6 22.9h0.7m-1.2-6.7h0.7m-0.7-20.9h0.7m7.6 16.5h0.7m3.5-5.6h0.7m-13.5 8.7h0.7m-6.6-10.7h0.7m11.1 10.9h0.7m8.4-4.3h0.7m-11.5-6.6h0.7m1.1 14.6h0.7m-4.1-14.8h0.7m-5.1-1.2h0.7m17.1 7.6h0.7m-7.8 2.5h0.7m-2 4.3h0.7m3.9-9.3h0.7m-11-2.6h0.7m-0.2 1.4h0.7m-2.5-0.4h0.7m11.4 7.7h0.7m-0.5-10.8h0.7m-0.3 11.7h0.7m2.8-1.4h0.7m-16.3 3.4h0.7m5.9-8.1h0.7m-15-3h0.7m3.9 1.5h0.7m-0.1 5.3h0.7m-0.1-3.3h0.7m8-4.7h0.7m-1.1 5.4h0.7m-6 2.3h0.7m-1.3 0.6h0.7m6.2-17.3h0.7m-8.2 21.6h0.7m0.2-11.1h0.7m-4.9-3.3h0.7m-6.8-5.9h0.7m4.1 6.9h0.7m11.1-0.7h0.7m3 9.6h0.7m0.7-9.6h0.7m-3.2-3.4h0.7m-7.9-5.3h0.7m7.6 11.8h0.7m-5.7-6.3h0.7m-9.7 11.4h0.7m6.1 1.6h0.7m6.6 3.5h0.7m-17.2-19h0.7m13.6 17.6h0.7m-2.4-2.8h0.7m2.7 6.4h0.7m-3.7-13.1h0.7m0.1 6.9h0.7m-2.1-7.3h0.7m0.9-6h0.7m7.6 19.7h0.7m-11-10.5h0.7m-8.1 4.7h0.7m-7.5-5.3h0.7m16-2.6h0.7m-0.6-7.8h0.7m-4 3.9h0.7m-7.4 3h0.7m-1 11h0.7m1.8-8.3h0.7m8.2-1.6h0.7m13.2 11.5h0.7m-29.3-10.1h0.7m5.2 0.4h0.7m21.6 13.9h0.7m-26.4-7.8h0.7m-2.7-9.1h0.7m8.7 7.6h0.7m12-0.7h0.7m-11.3-7.3h0.7m11.3 9.9h0.7m-29.4-0.8h0.7m10.4-2.6h0.7m-0.8-0.6h0.7m0.9-3.8h0.7m0.3 3h0.7m-6.1 5.1h0.7m-5-5.4h0.7m4.2 3.7h0.7m-3.1-7.6h0.7m7.5-2.5h0.7m-3 15.3h0.7m-11.3-11.3h0.7m12.5-6.3h0.7m-1 19.2h0.7m1.3-20.5h0.7m-13.4 12h0.7m15 9.2h0.7m-3.5-11.4h0.7m-3.5 4.8h0.7m-14.5-11.7h0.7m28.8 17.8h0.7m-30.2-12.8h0.7m5.2-9.4h0.7m-5.2 1.3h0.7m5.8 13.7h0.7m4.9-5.7h0.7m-3.8-4.1h0.7m-0.1-0.7h0.7m-5.3 1h0.7m16 8.5h0.7m-15 2.3h0.7m14.7-8h0.7m-19.1 1.1h0.7m12.3 0.6h0.7m-3 1.9h0.7m-2.7-3.4h0.7m-10.4 10.3h0.7m-2.5-10.9h0.7m3.5 3h0.7m12.1-5.9h0.7m-10.8 5.4h0.7m0.2-11.3h0.7m-12.8 6.6h0.7m10.4 0.7h0.7m18.9 3.8h0.7m-25 12.5h0.7m9.3-12.4h0.7m-14.5 9h0.7m10.3-10.4h0.7m10.3 2.9h0.7m-13.2 5.8h0.7m-8.7-7.3h0.7m15.1 8.1h0.7m5.6 5.7h0.7m-7.2-20.4h0.7m-10.3 2.8h0.7m3.2 6.2h0.7m-0.4-9.4h0.7m1.9 4.7h0.7m0.2 5.8h0.7m17.4-9h0.7m-22.2 3.4h0.7m-11.1 3.4h0.7m7.2 0h0.7m-0.7-5.6h0.7m-9.9 12h0.7m3.2-13.3h0.7m6.8 5.6h0.7m3 5.4h0.7m-17.3-2.6h0.7m14.3-2.2h0.7m-12.9 7.2h0.7m6-8h0.7m-5.7 6.4h0.7m8.6-5.3h0.7m15.8 2.5h0.7m-29.5-10.6h0.7m15.3 12.4h0.7m2.6-15.4h0.7m-9.2 5.9h0.7m-3.1 6.1h0.7m3.7-13.2h0.7m3.5 6.6h0.7m-6.3 3.8h0.7m13.1 0.4h0.7m-1.4 7.3h0.7m-26.1-8.6h0.7m8.5 1.5h0.7m4.4 3.8h0.7m5.8-2.1h0.7m-4.3-1.2h0.7m-6.1 0.3h0.7m-2.8 9.9h0.7m-4.9-7.8h0.7m4.3 7.2h0.7m-10-6.1h0.7m11.3-8.8h0.7m3.2 2.7h0.7m-8-1.4h0.7m-5.1 3.2h0.7m8.9-2.5h0.7m-10.9 16.2h0.7m3.9-6.7h0.7m8.5-0.6h0.7m-1.5 0h0.7m-10.2-13.3h0.7m-6.7 17.5h0.7m17.9-16h0.7m-5.8 5.5h0.7m8.2 5h0.7m-16.5-7.1h0.7m-2.3-2.1h0.7m-7.5 6.2h0.7m13.4 4.5h0.7m-11.8-3.3h0.7m1.4-12.7h0.7m10 5.1h0.7m-15 9.6h0.7m4.9-12.3h0.7m3.6 3.6h0.7m-8 4.9h0.7m-3.9 3.4h0.7m5.9-5.9h0.7m2.1 1.2h0.7m6.4-6.2h0.7m-12.5 10.2h0.7m18.3 11.6h0.7m-20.5-19.1h0.7m1.6 9.9h0.7m3.7-5.4h0.7m2.3-2.2h0.7m-12.9 5.2h0.7m1-5.1h0.7m-2.4 1.9h0.7m13.8 4.5h0.7m-19.3-7.3h0.7m12-4.3h0.7m2.7 14.8h0.7m-5.7-6.1h0.7m-3.3 5.1h0.7m16.3-2.2h0.7m-14.9-4.4h0.7m-5.1 3.4h0.7m3.9-0.2h0.7m-3.7-14.7h0.7m19.7 12.7h0.7m-12.8-17.3h0.7m-10.6 22h0.7m5.2-16.5h0.7m10.9 9.4h0.7m-20.6-2.8h0.7m8.5 8.8h0.7m-10.9-1.2h0.7m-4.3-12.4h0.7m32.2 6.8h0.7m-26.1 17.2h0.7m-3.2-22.3h0.7m4 8h0.7m2.9 5.5h0.7m-14.6-5h0.7m21.1-1.5h0.7m-6.8-11.1h0.7m-11.3 11.1h0.7m15.6-9.8h0.7m-19.1 6.2h0.7m11.8-11.1h0.7m3.3 11.4h0.7m-9.2 7.6h0.7m7.7-20.9h0.7m-15.1 28.5h0.7m12.1-4.5h0.7m-13.4-6.7h0.7m4.5-9.4h0.7m9.5 10.2h0.7m-7.4-9.5h0.7m5.6 11.6h0.7m-10.8-2.3h0.7m17.6 4.5h0.7m-22.5-2.9h0.7m12.9 10.9h0.7m-10.1-10.8h0.7m1.8-2h0.7m5.8-1h0.7m-9.8 0.4h0.7m20.6 1.1h0.7m-9.4-2.3h0.7m-10.4 8.4h0.7m0.4-4.1h0.7m-4.9-15.6h0.7m0.1 13.6h0.7m7.3-6.5h0.7m-9.8 2h0.7m-1.8-0.1h0.7m-3.7 0.6h0.7m8.9-3.5h0.7m-8.7 5.3h0.7m-0.6-2.4h0.7m19.2 1.1h0.7m-5.1-5h0.7m-19.2 7.6h0.7m10.3-14h0.7m-7.7 8h0.7m8.4 4h0.7m6.9 11h0.7m-25.6-10.5h0.7m25.3 11.2h0.7m-16-3.7h0.7m0 2.1h0.7m-12.7-4.9h0.7m3.4-0.9h0.7m8.7-2h0.7m17.1-5.2h0.7m-25.7 15.3h0.7m-0.2-5.8h0.7m1.8 4.1h0.7m2.2-13h0.7m1.8 3.4h0.7m-5-0.7h0.7m-7.2 7.3h0.7m0.4-1.6h0.7m-5-2.6h0.7m18-8.4h0.7m-9.3 0.9h0.7m0.8 16.2h0.7m11.2-0.2h0.7m-7-20.1h0.7m-15.7 13.7h0.7m23.4-6.3h0.7m-23.9 8.1h0.7m5.2-10.1h0.7m-6.2-2.2h0.7m13 12.9h0.7m2.4-11.9h0.7m-3.9 2.7h0.7m-10.9 12.4h0.7m-2.2-13.7h0.7m-0.4 2.7h0.7m19.4-12.2h0.7m-17.9 9.3h0.7m17.3 5.2h0.7m-22.4-4.7h0.7m11.1 2.9h0.7m6.1-3.1h0.7m-6 17.5h0.7m1.6-6.3h0.7m-6.7-4.4h0.7m-14.5-3.9h0.7m10.3-8.7h0.7m15.8 3.2h0.7m-22.9 11.9h0.7m3-19.4h0.7m-6 22.9h0.7m-4.4-6.8h0.7m-1.8 2.4h0.7m6.2-6.3h0.7m1.1 5.8h0.7m-3.7-6.4h0.7m12.6-8.6h0.7m11.7 3.4h0.7m-13.3 4.8h0.7m-6.5 7.6h0.7m-12.9 1.8h0.7m26.8 3.3h0.7m-28.3-7.9h0.7m17.9-6h0.7m-15.5 14.6h0.7m8.1-7.7h0.7m-1.3-8.5h0.7m7.7 11.4h0.7m-4.2-5.7h0.7m11-3.6h0.7m-16-5.8h0.7m-8-2.3h0.7m4.7 19.7h0.7m12.5-5.5h0.7m-5 1.9h0.7m4.2-5.4h0.7m-5.8-4h0.7m-18.2 2.3h0.7m12.4-2.3h0.7m8.2-2.6h0.7m-13.4 14.9h0.7m-2.9-2h0.7m-11.5 10.1h0.7m5.3-15.8h0.7m10.1-3.9h0.7m6.5 0.1h0.7m-20.9 6.5h0.7m-1.4-6.8h0.7m19.3 14.6h0.7m-18.3-9.4h0.7m5.9-8.5h0.7m1 21.1h0.7m-1.9-9.6h0.7m-6.8 2.7h0.7m-1.6 5.2h0.7m8.6-15.2h0.7m2.7 11.9h0.7m7.1-7.6h0.7m-2.9-3.8h0.7m-13 0.8h0.7m-8.1 9.4h0.7m15.3-19.2h0.7m-17.2 26h0.7m8.9-20.3h0.7m-9.9 7h0.7m3.4 4h0.7m-3.7-7.6h0.7m8.8 6.8h0.7m-11.1-10.4h0.7m8.2 13h0.7m-2.1-14.1h0.7m1.5 8.6h0.7m-6.8-4.3h0.7m14.4 9.4h0.7m-10.2-13.8h0.7m-6.3 8.1h0.7m-1.9-1.9h0.7m5.1 4.4h0.7m7.4-12h0.7m5.2 9.4h0.7m-1.5 9.5h0.7m-14.3-1h0.7m9-12.7h0.7m-17.1 13.5h0.7m3.5-6h0.7m7.7-8.6h0.7m-15 8h0.7m20.4 2.7h0.7m-19.4-2.5h0.7m2.6 2.2h0.7m14.7 4.1h0.7m-9.6-5.1h0.7m-3.3 3.8h0.7m5.2-4.2h0.7m-10.5 2.9h0.7m4.3-9.8h0.7" stroke="#e07a7a" stroke-width="0.7" fill="none" opacity="0.55"/><ellipse cx="149.6" cy="268.8" rx="13" ry="9" transform="rotate(-15 149.6 268.8)" fill="none" stroke="#cf4a4a" stroke-width="0.45" opacity="0.45"/><ellipse cx="148.6" cy="267.8" rx="10" ry="7" transform="rotate(-10 148.6 267.8)" fill="none" stroke="#cf4a4a" stroke-width="0.45" opacity="0.4"/><ellipse cx="146.6" cy="265.8" rx="7" ry="5" transform="rotate(0 146.6 265.8)" fill="none" stroke="#cf4a4a" stroke-width="0.45" opacity="0.4"/><ellipse cx="155.8" cy="278.1" rx="3.2" ry="2.6" transform="rotate(0 155.8 278.1)" fill="none" stroke="#cf4a4a" stroke-width="0.45" opacity="0.8"/><ellipse cx="155.8" cy="278.1" rx="2" ry="1.6" transform="rotate(0 155.8 278.1)" fill="none" stroke="#cf4a4a" stroke-width="0.45" opacity="0.8"/><ellipse cx="143.6" cy="272.8" rx="5" ry="4.5" transform="rotate(0 143.6 272.8)" fill="none" stroke="#cf4a4a" stroke-width="0.45" opacity="0.35"/><ellipse cx="159.6" cy="272.8" rx="7" ry="5" transform="rotate(-30 159.6 272.8)" fill="none" stroke="#cf4a4a" stroke-width="0.45" opacity="0.35"/><ellipse cx="153.6" cy="262.8" rx="6" ry="4" transform="rotate(-20 153.6 262.8)" fill="none" stroke="#cf4a4a" stroke-width="0.45" opacity="0.35"/><ellipse cx="140.0" cy="276.3" rx="2.8" ry="8.8" fill="#f4d0d0" stroke="#d05050" stroke-width="0.5"/><ellipse cx="140.2" cy="271.8" rx="2.0" ry="3" fill="none" stroke="#b83030" stroke-width="0.9"/><ellipse cx="140.2" cy="271.8" rx="1.0" ry="1.6500000000000001" fill="none" stroke="#b83030" stroke-width="0.7"/><ellipse cx="140.2" cy="280.3" rx="2.0" ry="3.2" fill="none" stroke="#b83030" stroke-width="0.9"/><ellipse cx="140.2" cy="280.3" rx="1.0" ry="1.7600000000000002" fill="none" stroke="#b83030" stroke-width="0.7"/><ellipse cx="165.89999999999998" cy="259.8" rx="5" ry="3.2" transform="rotate(-45 165.89999999999998 259.8)" fill="#f4d0d0" stroke="#d06060" stroke-width="0.4" opacity="0.4"/><ellipse cx="165.89999999999998" cy="259.8" rx="3" ry="1.8" transform="rotate(-45 165.89999999999998 259.8)" fill="#f4d0d0" stroke="#d06060" stroke-width="0.4" opacity="0.45"/></g>
<polygon points="170.40,248.00 180.60,257.90 167.60,270.80 157.80,260.10" fill="none" stroke="#222" stroke-width="0.8"/>
<text x="155.10" y="244.90" font-size="5.6" text-anchor="middle" font-weight="normal" fill="#333" >5.3%</text>
<text x="154.75" y="215.10" font-size="8.9" text-anchor="middle" font-weight="normal" fill="#111" >Target + Dominant</text>
<text x="154.75" y="226.80" font-size="8.9" text-anchor="middle" font-weight="normal" fill="#111" >PB-TCR-Vβ</text>
<rect x="208.20" y="232.80" width="56.3" height="56.6" fill="#fff" stroke="#aaa" stroke-width="0.6"/>
<line x1="208.20" y1="232.80" x2="208.20" y2="289.40" stroke="#777" stroke-width="0.6" />
<line x1="208.20" y1="289.40" x2="264.50" y2="289.40" stroke="#555" stroke-width="0.7" />
<line x1="208.20" y1="234.80" x2="209.10" y2="234.80" stroke="#777" stroke-width="0.35" />
<line x1="208.20" y1="237.35" x2="209.10" y2="237.35" stroke="#777" stroke-width="0.35" />
<line x1="208.20" y1="239.90" x2="209.10" y2="239.90" stroke="#777" stroke-width="0.35" />
<line x1="208.20" y1="242.45" x2="209.10" y2="242.45" stroke="#777" stroke-width="0.35" />
<line x1="208.20" y1="245.00" x2="209.10" y2="245.00" stroke="#777" stroke-width="0.35" />
<line x1="208.20" y1="247.55" x2="209.10" y2="247.55" stroke="#777" stroke-width="0.35" />
<line x1="208.20" y1="250.10" x2="209.10" y2="250.10" stroke="#777" stroke-width="0.35" />
<line x1="208.20" y1="252.65" x2="209.10" y2="252.65" stroke="#777" stroke-width="0.35" />
<line x1="208.20" y1="255.20" x2="209.10" y2="255.20" stroke="#777" stroke-width="0.35" />
<line x1="208.20" y1="257.75" x2="209.10" y2="257.75" stroke="#777" stroke-width="0.35" />
<line x1="208.20" y1="260.30" x2="209.10" y2="260.30" stroke="#777" stroke-width="0.35" />
<line x1="208.20" y1="262.85" x2="209.10" y2="262.85" stroke="#777" stroke-width="0.35" />
<line x1="208.20" y1="265.40" x2="209.10" y2="265.40" stroke="#777" stroke-width="0.35" />
<line x1="208.20" y1="267.95" x2="209.10" y2="267.95" stroke="#777" stroke-width="0.35" />
<line x1="208.20" y1="270.50" x2="209.10" y2="270.50" stroke="#777" stroke-width="0.35" />
<line x1="208.20" y1="273.05" x2="209.10" y2="273.05" stroke="#777" stroke-width="0.35" />
<line x1="208.20" y1="275.60" x2="209.10" y2="275.60" stroke="#777" stroke-width="0.35" />
<line x1="208.20" y1="278.15" x2="209.10" y2="278.15" stroke="#777" stroke-width="0.35" />
<line x1="208.20" y1="280.70" x2="209.10" y2="280.70" stroke="#777" stroke-width="0.35" />
<line x1="208.20" y1="283.25" x2="209.10" y2="283.25" stroke="#777" stroke-width="0.35" />
<line x1="208.20" y1="285.80" x2="209.10" y2="285.80" stroke="#777" stroke-width="0.35" />
<line x1="208.20" y1="288.35" x2="209.10" y2="288.35" stroke="#777" stroke-width="0.35" />
<line x1="210.20" y1="289.40" x2="210.20" y2="288.50" stroke="#777" stroke-width="0.35" />
<line x1="212.95" y1="289.40" x2="212.95" y2="288.50" stroke="#777" stroke-width="0.35" />
<line x1="215.70" y1="289.40" x2="215.70" y2="288.50" stroke="#777" stroke-width="0.35" />
<line x1="218.45" y1="289.40" x2="218.45" y2="288.50" stroke="#777" stroke-width="0.35" />
<line x1="221.20" y1="289.40" x2="221.20" y2="288.50" stroke="#777" stroke-width="0.35" />
<line x1="223.95" y1="289.40" x2="223.95" y2="288.50" stroke="#777" stroke-width="0.35" />
<line x1="226.70" y1="289.40" x2="226.70" y2="288.50" stroke="#777" stroke-width="0.35" />
<line x1="229.45" y1="289.40" x2="229.45" y2="288.50" stroke="#777" stroke-width="0.35" />
<line x1="232.20" y1="289.40" x2="232.20" y2="288.50" stroke="#777" stroke-width="0.35" />
<line x1="234.95" y1="289.40" x2="234.95" y2="288.50" stroke="#777" stroke-width="0.35" />
<line x1="237.70" y1="289.40" x2="237.70" y2="288.50" stroke="#777" stroke-width="0.35" />
<line x1="240.45" y1="289.40" x2="240.45" y2="288.50" stroke="#777" stroke-width="0.35" />
<line x1="243.20" y1="289.40" x2="243.20" y2="288.50" stroke="#777" stroke-width="0.35" />
<line x1="245.95" y1="289.40" x2="245.95" y2="288.50" stroke="#777" stroke-width="0.35" />
<line x1="248.70" y1="289.40" x2="248.70" y2="288.50" stroke="#777" stroke-width="0.35" />
<line x1="251.45" y1="289.40" x2="251.45" y2="288.50" stroke="#777" stroke-width="0.35" />
<line x1="254.20" y1="289.40" x2="254.20" y2="288.50" stroke="#777" stroke-width="0.35" />
<line x1="256.95" y1="289.40" x2="256.95" y2="288.50" stroke="#777" stroke-width="0.35" />
<line x1="259.70" y1="289.40" x2="259.70" y2="288.50" stroke="#777" stroke-width="0.35" />
<line x1="262.45" y1="289.40" x2="262.45" y2="288.50" stroke="#777" stroke-width="0.35" />
<text x="203.60" y="238.40" font-size="7" text-anchor="end" font-weight="normal" fill="#222" >250K</text>
<text x="203.60" y="249.06" font-size="7" text-anchor="end" font-weight="normal" fill="#222" >200K</text>
<text x="203.60" y="259.72" font-size="7" text-anchor="end" font-weight="normal" fill="#222" >150K</text>
<text x="203.60" y="270.38" font-size="7" text-anchor="end" font-weight="normal" fill="#222" >100K</text>
<text x="203.60" y="281.04" font-size="7" text-anchor="end" font-weight="normal" fill="#222" >50K</text>
<text x="203.60" y="291.70" font-size="7" text-anchor="end" font-weight="normal" fill="#222" >0</text>
<text x="205.70" y="301.30" font-size="7" text-anchor="start" font-weight="normal" fill="#222" >-10<tspan font-size="4.6" dy="-2.6">3</tspan></text>
<text x="219.20" y="301.30" font-size="7" text-anchor="start" font-weight="normal" fill="#222" >0</text>
<text x="225.20" y="301.30" font-size="7" text-anchor="start" font-weight="normal" fill="#222" >10<tspan font-size="4.6" dy="-2.6">3</tspan></text>
<text x="240.70" y="301.30" font-size="7" text-anchor="start" font-weight="normal" fill="#222" >10<tspan font-size="4.6" dy="-2.6">4</tspan></text>
<text x="254.20" y="301.30" font-size="7" text-anchor="start" font-weight="normal" fill="#222" >10<tspan font-size="4.6" dy="-2.6">5</tspan></text>
<ellipse cx="221.2" cy="289.40000000000003" rx="1.2" ry="0.7" fill="#111"/>
<g><path d="M226.9 279h0.7m6.5-7.2h0.7m-11 0h0.7m10-3.6h0.7m-4.5 2h0.7m24.7 3.6h0.7m-23.1-9.1h0.7m3.5-5h0.7m4.5 10.7h0.7m-8.9 1.5h0.7m-0.3-13.8h0.7m-14.4 13.1h0.7m6-2.6h0.7m-5.7-3.1h0.7m10.7 11.8h0.7m6.9-1.9h0.7m-10.1-11h0.7m14.4 13.2h0.7m-11.1-18.6h0.7m-7.3 11.3h0.7m3.2 2.2h0.7m6.6-15.9h0.7m2.8 8.5h0.7m-17.8 4h0.7m5.8 0.2h0.7m8.5 3.6h0.7m-10.1-4.4h0.7m-1.5 0.7h0.7m12.1-1.4h0.7m-10.5-3.2h0.7m9.9 7.5h0.7m-15.4-6.9h0.7m6.1 16.4h0.7m-10.3-3.4h0.7m13.3-13.8h0.7m1.4 14h0.7m3.5-10.3h0.7m-17-0.4h0.7m11.8 7.9h0.7m-0.3 2.6h0.7m-10.6-1.5h0.7m-0.1 2.2h0.7m-5.9-13h0.7m-6.1 4.9h0.7m-2.4-10.8h0.7m8 10.7h0.7m11.1-5.2h0.7m-5.9 12.5h0.7m16.8-2.2h0.7m-23.9 4.3h0.7m-6.5-3.6h0.7m-8-4.6h0.7m6.1-1.9h0.7m7.8-2.6h0.7m0.5 7.5h0.7m-13.3-5.4h0.7m9.4 1.3h0.7m-3.8-0.2h0.7m3.7-3.2h0.7m-7.2-1h0.7m7-4.2h0.7m-8.5 11h0.7m10.5 3.9h0.7m-5.8 2h0.7m4.7-10.5h0.7m-13.2-6.5h0.7m13.3 8.8h0.7m-0.7 8.5h0.7m-12.5-18.9h0.7m2.6 9.6h0.7m6.9 2.8h0.7m-4.3-3.9h0.7m4.1 15.4h0.7m-19.7-11.8h0.7m4.9-14.6h0.7m8 0h0.7m-18.6 26.8h0.7m19-18.9h0.7m-5.1 7.5h0.7m2.2 0.9h0.7m-1.1 1.7h0.7m-13.6-0.1h0.7m7.8-8.5h0.7m9.6 6.3h0.7m-17.3-13.5h0.7m-4.3 2.2h0.7m21.7 13.7h0.7m-10.8-6.4h0.7m-1.8 14.6h0.7m2-6.7h0.7m0.7-6.4h0.7m-10.5 10.7h0.7m7.1-4.9h0.7m4.5-8.5h0.7m6.5 11.5h0.7m-18.9-9.5h0.7m4.3 0h0.7m-5.9-0.8h0.7m-5.8 3.8h0.7m0.4-13h0.7m10.6 15h0.7m-8.3-2.5h0.7m-4.6-2.6h0.7m12.1-6.2h0.7m-1.9 17.1h0.7m-4.6-18.9h0.7m10.9 3.1h0.7m-19.3 15.7h0.7m9.5-8.6h0.7m-13.5-8.4h0.7m1.8-4.7h0.7m2.5 5h0.7m15 2.9h0.7m-15.6-3h0.7m4.2 17.1h0.7m-12.2-17h0.7m18.8 7.6h0.7m-12.6-7.4h0.7m-13.4 3.4h0.7m3.8-4.9h0.7m10.2 17.7h0.7m12.3-7.6h0.7m-13.4 2.3h0.7m3.1 4.8h0.7m7.6-12.8h0.7m-8.9 7.3h0.7m-3.8 3.3h0.7m-2 0.5h0.7m1.7 0.9h0.7m-14.3-14.7h0.7m9.2 5.3h0.7m-0.5 4.5h0.7m0-12.3h0.7m-3.9 12.8h0.7m-0.9-3.4h0.7m15.5-2.6h0.7m-11.4-1.3h0.7m-3.7 5.5h0.7m-5-8.4h0.7m-4.9 4.4h0.7m12.7 1.1h0.7m1.2 2.1h0.7m-1.6-12.7h0.7m-1.9 10.8h0.7m-7.7 6.2h0.7m7 3.5h0.7m-1.8-15.7h0.7m-14.3 8.2h0.7m12.1-0.2h0.7m7.7 0.6h0.7m-14.6-6.2h0.7m5.2 1.6h0.7m-3.4-8.9h0.7m8.7 13.9h0.7m-9.1-3.2h0.7m6.7 9.3h0.7m-11.6-4.4h0.7m-7.5-3.6h0.7m10.5-10.3h0.7m5 15.3h0.7m-2.9-5.7h0.7m-16.5-1h0.7m6.1-2.8h0.7m8.3 6.3h0.7m6.7 0.5h0.7m-13.2-7.7h0.7m-1.4 0.7h0.7m-6.4 3.2h0.7m12.5 2.7h0.7m-8.7 3.2h0.7m9.2 2.1h0.7m-15.8-9.5h0.7m11.2-5.4h0.7m-3.4-0.4h0.7m0.3 16.7h0.7m-4.2-6.7h0.7m1-0.9h0.7m2.5 0.7h0.7m-3.1 7.2h0.7m-2.8-12.3h0.7m1.2 5.4h0.7m3.3 3.3h0.7m-7.2 0.4h0.7m11.3-3h0.7m1.4-14.4h0.7m-20.8 9.2h0.7m19.4 1.8h0.7m-13.5-10.7h0.7m-0.3 19.9h0.7m-7.6-9.4h0.7m-3.4-2.7h0.7m15.7 13.6h0.7m-16.2-12h0.7m9.5 6h0.7m-6.5-0.6h0.7m6.7-3.2h0.7m-10 2.5h0.7m10.2-3.5h0.7m-17.7-5.8h0.7m6.7 12.3h0.7m14.2-4.6h0.7m-18.8-7.5h0.7m13.2 5.6h0.7m-0.1-2.1h0.7m-0.7-0.5h0.7m-5.1 3.7h0.7m-1.7 6.5h0.7m8.2-2.8h0.7m-17.9 0.4h0.7m9.4 9.9h0.7m-20-14.3h0.7m18.1 4.8h0.7m-9.2-16.5h0.7m2.4 0.3h0.7m1.4 14.5h0.7m0.7 0.5h0.7m8.6-5.5h0.7m9 12h0.7m-26.9-7.9h0.7m1-16.1h0.7m4.6 13.1h0.7m-7.7 1.3h0.7m-2.8-0.4h0.7m6.1-5.4h0.7m7-5h0.7m-22.1 7.3h0.7m7.8-2.1h0.7m1.7 12.9h0.7m9.7-12.3h0.7m-8-7.4h0.7m-2.4 9.7h0.7m-4 6.2h0.7m-5.4 1.1h0.7m25.2-13.5h0.7m-6.5 2.4h0.7m-22.9 4.3h0.7m17.5 1.2h0.7m-19.1 6.2h0.7m14.4-7.9h0.7m7.3 7.4h0.7m-21.7-5.2h0.7m6.8-4.2h0.7m-4.1-4.2h0.7m-1.4 15h0.7m1.8-6.2h0.7m5.2-4.1h0.7m-7.6-5.7h0.7m0.9 14.7h0.7m3.1 0.2h0.7m6.4-5.3h0.7m-1.6-10.7h0.7m-8 12.9h0.7m-0.8 5.8h0.7m9.6 1.3h0.7m-9.4-6.3h0.7m-8.1 4.2h0.7m17-14.9h0.7m-6 4.6h0.7m-10.6 6.1h0.7m7-0.1h0.7m-4.7-12.2h0.7m-5.4 7.3h0.7m12.8 1.5h0.7m-7.4 13h0.7m-3-21.2h0.7m16.3 16.1h0.7m-9.1-9.7h0.7m-19.2 1.7h0.7m3.8 2.9h0.7m-4.8-4.8h0.7m1.9 10.7h0.7m19 3.1h0.7m-4.9-7.6h0.7m-3.5 4.8h0.7m-5.8-8.5h0.7m4.3-4.4h0.7m-6.9-0.1h0.7m11.4-2.8h0.7m-14.9 19h0.7m-11.6-7.3h0.7m4.5-2.3h0.7m11.7-6h0.7m-6.8 6.1h0.7m1.9-16.2h0.7m-1.1 13.5h0.7m-3.2 8.5h0.7m6.2-14.1h0.7m3.4 7h0.7m-14.1 7.4h0.7m-3.3-14.5h0.7m11.3 6.9h0.7m-6.9-4.1h0.7m12.2 7.8h0.7m-11.5-0.5h0.7m-2.5 3.6h0.7m4.8 0.5h0.7m-2-10.2h0.7m-2.2-6.9h0.7m2.8 6.2h0.7m6-3.4h0.7m-14.6 9h0.7m-2.6-4.9h0.7m7.5 4h0.7m-0.5-1.4h0.7m-5.9-4.3h0.7m-3.4 13.2h0.7m0.7-18.6h0.7m7.3 0.3h0.7m11.7 12.2h0.7m-17.3-7.9h0.7m4.3 2.5h0.7m-8.4-2.6h0.7m-1.2-5.6h0.7m-13.2 16.6h0.7m2.7-8h0.7m2 12h0.7m14.8-13.1h0.7m3.6-2.1h0.7m-20.4 9.6h0.7m-5-8.5h0.7m5-3h0.7m6.2 13.9h0.7m-7-14.2h0.7m9.1 11.8h0.7m-8.7-5.2h0.7m2.4 0.9h0.7m-4.1 8.2h0.7m-2.9-7.3h0.7m2.8-8.7h0.7m1.2 9h0.7m-10.6-1.2h0.7m8.5 5.8h0.7m6.2-0.1h0.7m-2.3-11.5h0.7m-10.4-5.2h0.7m13.6 10.2h0.7m-3-3.5h0.7m-1.8 1.8h0.7m3.6 2.8h0.7m-17 11.3h0.7m2.2-15.9h0.7m2.6 4.2h0.7m-14.7 2.9h0.7m11.3-17.1h0.7m-0.3 6h0.7m0.7 15.9h0.7m-5.8-10.6h0.7m-2.6-2.4h0.7m9.1 7.8h0.7m-6.5-9.9h0.7m-0.8 16h0.7m6.8-20.2h0.7m-0.8 11.1h0.7m2.4-10.5h0.7m0.4 2.4h0.7m-11.8 21.3h0.7m-6.8-13.7h0.7m1.3 1.3h0.7m6.6 5.9h0.7m6.5-1h0.7m-10.7 9.3h0.7m8.9-13.4h0.7m-1.7 1.4h0.7m1.1-7.3h0.7m-16 0.4h0.7m13 5.1h0.7m-15.6 2.7h0.7m-1.9-10.3h0.7m3.2 14.6h0.7m3.5-9.2h0.7m-4 5.1h0.7m8.3 5.1h0.7m7.2-6.8h0.7m-1.9-5.8h0.7m-10.5 8.3h0.7m2.3-13h0.7m2.6 0.8h0.7m-4.9-0.5h0.7m-8.6 1.2h0.7m1 4.4h0.7m-2.5 12h0.7m1.1-15.3h0.7m-7.3 2.8h0.7m10.1-12.2h0.7m1.5 16.7h0.7m-10.3 7.9h0.7m-0.5-11.9h0.7m5.2 2.6h0.7m4.7 1.3h0.7m-4.6 1.6h0.7m-14.9-10.3h0.7m9.5 10h0.7m6.7 7.1h0.7m0.9-6.7h0.7m-9.3-2.6h0.7m7.4-3.6h0.7m3.2-0.4h0.7m-7.2-6.5h0.7m-9.2 6.6h0.7m8.3 4.2h0.7m12.4-7.6h0.7m-22.5 7.7h0.7m9.1-1.5h0.7m-5 2.5h0.7m7.6 4.1h0.7m-6.1-7.3h0.7m6.8 2.3h0.7m-11.2-11.5h0.7m-5.6 21h0.7m5.6-7.2h0.7m-9.2-5.1h0.7m0.9-2.2h0.7m1 0.9h0.7m4.3 5.6h0.7m-9.1 2h0.7m-2.2-0.3h0.7m14.4-12.3h0.7m-9.8 15.9h0.7m-2.6-16.5h0.7m23.5 5.7h0.7m-19.1-6h0.7m-7.9 10.3h0.7m-7.6-2.5h0.7m14.5-2.9h0.7m-14.2 11h0.7m22.7-11.4h0.7m-13.4 11.5h0.7m1.5-1.5h0.7m-0.6-14.3h0.7m-1.1 12.4h0.7m-1.9 1.9h0.7m1.9-6.9h0.7m7.3 1.1h0.7m-8.2 0.4h0.7m1.3-0.1h0.7m-9.4-1.9h0.7m-1.1-3.1h0.7m3.2 6.9h0.7m-7.1-5.4h0.7m8.2 4.8h0.7m-6.7-1.6h0.7m-9-2.6h0.7m35.6 5.5h0.7m-16.5-4.8h0.7m-3.2-3.1h0.7m-9 6h0.7m-3.5 1.8h0.7m5-1.7h0.7m-5.8-0.2h0.7m-0.1 3h0.7m-1.9-6.5h0.7m12.1-13.6h0.7m-13.7 16.9h0.7m-9.4 1.2h0.7m20.2-11.1h0.7m-13.7 18h0.7m13.3-10.8h0.7m4.5-12.2h0.7m-13.9 14h0.7m-6.5-10.9h0.7m9.3 8.7h0.7m-6.3 0.8h0.7m-10.3 3.1h0.7m19.6-13.9h0.7m-11.3 13.2h0.7m5.5-4.4h0.7m-4.3 6.2h0.7m3.1-1.6h0.7m2-15.7h0.7m-10.7 18.1h0.7m4.6-3.3h0.7m-13.2-7.5h0.7m5.9 11.6h0.7m-2.2-8.5h0.7m4 7.2h0.7m-6.5-15.5h0.7m14.6 8.4h0.7m-11.2-3.2h0.7m-9.8-0.5h0.7m8.4 12.2h0.7m1-11.7h0.7m1.4 13.9h0.7m-3.3-2.6h0.7m0.4-15h0.7m6.5-1.8h0.7m-10.1 2.1h0.7m-0.9 19h0.7m8-6.8h0.7m-11.7-14.3h0.7m-3 13.7h0.7m-7 0.1h0.7m14.1-6h0.7m-14.2 10.9h0.7m-1-5.3h0.7m17.3-5.7h0.7m-4.2-2.4h0.7m-7 14.7h0.7m5.1-15h0.7m-1.8-5.6h0.7m-11 15.4h0.7m16.3 3.9h0.7m-11-13.7h0.7m-1.1 6h0.7m-8.5 13.6h0.7m13-20h0.7m-10.4 7.9h0.7m3.1-1.7h0.7m5.5-6.4h0.7m-7.6 4.2h0.7m-5 2.6h0.7m3.8 9.4h0.7m4.4-8.5h0.7m0.3 7.5h0.7m14.5-10.9h0.7m-20.2 12.5h0.7m10.1-7.1h0.7m-5 2.1h0.7m-2.8-15h0.7m9.3 9.3h0.7m-15.7 9.9h0.7m9.3-2.6h0.7m-4.2-16.3h0.7m-10.9 7.1h0.7m-1.6-2.4h0.7m-9 0.4h0.7m16 6.5h0.7m-8.9 0.1h0.7m7.2-0.4h0.7m4-6h0.7m-22.2 1.7h0.7m10.4 2.4h0.7m-0.5 1h0.7m-3.6-4.6h0.7m3.2 8h0.7m7.6-18.8h0.7m-4 13.2h0.7m9.2 4.8h0.7m-17.5 2.7h0.7m8.1-7.2h0.7m1.8 1.1h0.7m2.5-7.9h0.7m-11.7 6.2h0.7m6.9-0.7h0.7m-17.5 9.5h0.7m9.6-2.8h0.7m-4.9-4.6h0.7m1.8 6.9h0.7m-1.6-7.1h0.7m-1.5 2.4h0.7m7.8-2.2h0.7m1.6-0.7h0.7m0 0h0.7m-11.5 16.6h0.7m2.5-20.2h0.7m6 9.9h0.7m-10.8-11.3h0.7m0.8 10.1h0.7m11.4 4.7h0.7m-5.4-8h0.7m-5 9.5h0.7m-0.5-13.6h0.7m10.2 0.8h0.7m-11.3 1.1h0.7m-5.4 8.8h0.7m3.6-0.9h0.7m-5.4-7.6h0.7m3.5-5.6h0.7m11.4 6.2h0.7m-3-2.3h0.7m-3.4-2.2h0.7m-14.9 5h0.7m10.5-9.2h0.7m-0.6 3h0.7m-1.9 1.2h0.7m-11.5-1.5h0.7m9.2 8.7h0.7m0.5-8.9h0.7m-0.6 11.8h0.7m-9.3-3.9h0.7m-1.6-3.1h0.7m-7.6-2.9h0.7m12 7.9h0.7m1.6-9.7h0.7m-10 12.6h0.7m4.6-6.2h0.7m5.9 3.8h0.7m-4.5-2.7h0.7m-8.4 6.3h0.7m8.5-2.7h0.7m-14.2 9.7h0.7m4.1-16.7h0.7m9.2 1.3h0.7m-5.8 17.4h0.7m1.2-22.2h0.7m-8.9 2h0.7m8.8-0.1h0.7m-9.5 8.3h0.7m7.6-3.9h0.7m-11.2 5.2h0.7m-2.4-2.1h0.7m11-2.1h0.7m5.9-12.5h0.7m-12.9 25.6h0.7m4.1-24.4h0.7m11.5 14.4h0.7m-9.1-4.7h0.7m-8.8 1.4h0.7m-0.1 5.8h0.7m3.1-2.2h0.7m20.4-3.5h0.7m-15.6 2.4h0.7m-15.8-1.3h0.7m6.1-6.1h0.7m10.3 19.4h0.7m-11.1-13.7h0.7m2.1 4h0.7m9.4 6.2h0.7m-22.8-10.4h0.7m29.8-9.1h0.7m-22.5 9.3h0.7m-7.6-8h0.7m14.7 0.2h0.7m-7.5 9.7h0.7m4-0.1h0.7m-0.1-4.6h0.7m3.1 1.4h0.7m-14.7-4.4h0.7m3.1 0.1h0.7m1 10.2h0.7m-3.9-10h0.7m2.2 7.4h0.7m-5.2-8.7h0.7m2.2 8.1h0.7m-1-3.6h0.7m-3.2-2.4h0.7m11.8 1.6h0.7m-24.4-6h0.7m15.4 6.8h0.7m-12.1 0.4h0.7m24.3 10.1h0.7m-19.8 1.1h0.7m1.5-10.8h0.7m7.6 0.8h0.7m-4.1-1.2h0.7m13.7-11.4h0.7m-10.1 10.6h0.7m-5.6-2h0.7m-4 4.7h0.7m-0.9-9.1h0.7m9.1 20h0.7m-4.3-15.2h0.7m-10.4 9.9h0.7m0-3.7h0.7m9.9 3.3h0.7m-6.5 5.3h0.7m19.1-14.2h0.7m-19.4 3.7h0.7m-16.2 4.2h0.7m-0.2-10.3h0.7m6.3 6.2h0.7m-3.5-3.8h0.7m16.2 8.1h0.7m-6.7-16.9h0.7m-4 13.5h0.7m1.6-0.9h0.7m-4.8 11.9h0.7m8.7-17.4h0.7m-16-0.5h0.7m4.5 11.9h0.7m3.7-4.6h0.7m-5.8-9.9h0.7m-9.1 8.2h0.7m11.2 3.2h0.7m-5.1-7.6h0.7m13.9 14.7h0.7m-21.7-6.7h0.7m4.6-19.4h0.7m12.1 14.3h0.7m-18.6-4.9h0.7m4.2-1.5h0.7m21-1.8h0.7m-26.4 3.4h0.7m7.8 6.9h0.7m1.6-0.3h0.7m-3.4-5.8h0.7m-3.8 2.7h0.7m14.4 4.5h0.7m-20-8.1h0.7m14.7 2h0.7m-4.6 9h0.7m3.3-7.3h0.7m-11.1 0.2h0.7m8.7-6.8h0.7m-4.4 14h0.7m-5.7-8.2h0.7m12.2 10.5h0.7m-17.3-4.8h0.7m15.9-10.8h0.7m-15.8 2.1h0.7m-0.1 18.4h0.7m1.4-7.9h0.7m6.6-1.5h0.7m-8.6-5.8h0.7m23-1.9h0.7m-25.2 7.9h0.7m8.3 11.6h0.7m-3.5-13h0.7m-14-2.6h0.7m18.6 0.1h0.7m-10.4-3.4h0.7m-5.3 12.5h0.7m-6.3-6.3h0.7m29.3-4.8h0.7m-2-3.3h0.7m-8.7 16.9h0.7m-4.2-12h0.7m-3.2 3h0.7m-1.7 9.5h0.7m4.8-5.7h0.7m5-9.2h0.7m-14.8 1.2h0.7m2.2 2.1h0.7m-3.3-2.3h0.7m5.7 5.8h0.7m-3.3 5.9h0.7m-0.1-7.2h0.7m-6.6-4.5h0.7m-12.5 6.4h0.7m8.7-10.9h0.7m-6.3 6.8h0.7m13.1-6.4h0.7m2.8-3.4h0.7m-14.4-1.5h0.7m10.5 3.2h0.7m-5.2 9.6h0.7m-1-2.3h0.7m-13.6-0.2h0.7m24-1.7h0.7m3.8 12.4h0.7m-16.6-1.3h0.7m3.5-17.7h0.7m-2.2 12.2h0.7m-6.4-9.3h0.7m-1.7 17.9h0.7m0.9-15h0.7m6.6 0.5h0.7m-11-0.3h0.7m-3.3-7.4h0.7m1.4 14h0.7m10.3-2.9h0.7m-12.1-3.2h0.7m3.8 2.2h0.7m5.4-5.9h0.7m-11.2 11.3h0.7m8.1-10.1h0.7m-15.8 6.2h0.7m9.8-1.3h0.7m-4.5 6.3h0.7m4.6-3.6h0.7m12-9h0.7m-6.8 5.7h0.7m-13.8 1.7h0.7m9.9-2.2h0.7m1.4 5.7h0.7m-12.3 5.9h0.7m-0.8-15h0.7m11.8 4.6h0.7m-8.7-2.6h0.7m1.9 8.4h0.7m5.1-5.1h0.7m-13 0.7h0.7m13.3 0.6h0.7m-17.9 1.7h0.7m4.4 0.1h0.7m13.6-2.7h0.7m-0.6-1.4h0.7m-9.6-1h0.7m3.1 8.1h0.7m-19.4-6.5h0.7m24.3-7.9h0.7m-16.4 1.2h0.7m17 7.5h0.7m-17.1-6.7h0.7m-9.3-7.6h0.7m14 24.3h0.7m-1 2.2h0.7m-5.8-11h0.7m-7.9-12.7h0.7m0.6 9.3h0.7m10.9-11.7h0.7m-7.7 15.3h0.7m0.9 2.5h0.7m7-14.1h0.7m-8 2.7h0.7m1.7 10.3h0.7m-8.9-5.8h0.7m16.8-1h0.7m-5.6 7h0.7m-6.7-1.5h0.7m-0.3-8.9h0.7m1.7 10.7h0.7m0.5-11.2h0.7m1.7 15.6h0.7m-9.3-6.7h0.7m13.6-9.2h0.7m-22.6 5.6h0.7m4.4-1.9h0.7m8.3 4.9h0.7m-3.6-2.5h0.7m-9.9 7.1h0.7m3-11.3h0.7m0.5 11.3h0.7m3.5-1.7h0.7m-6.4 0.9h0.7m5.8-11.2h0.7m-7.6 9.1h0.7m-1.3-0.5h0.7m9.9 4.9h0.7m-11.8 3.5h0.7m8.7-5.8h0.7m4.8-5.6h0.7m-11.2-3h0.7m6.1 12.7h0.7m-3.5-5.7h0.7m-7.4-5.3h0.7m1.4-1.1h0.7m19-3.5h0.7m-22.3 9.1h0.7m1.6 0.3h0.7m0.2-2.8h0.7m3-10.7h0.7m-4.2 13.2h0.7m2.8-4.7h0.7m2.5 3.9h0.7m-10.9-1.8h0.7m-1.1 2.7h0.7m-3.5-6h0.7m24.9 7.6h0.7m-18.5-3.2h0.7m-6.3 2.5h0.7m7.4-6.2h0.7m8.6 5.4h0.7m-13.3-2.5h0.7m-6.3 5.1h0.7m-2.5-10.8h0.7m8.7 16.6h0.7m-3.1-13.5h0.7m2.7 4.6h0.7m2.8-7h0.7m0.2 10.3h0.7m2.9-11h0.7m-16.1 10.1h0.7m7.9-0.4h0.7m-10.1-5.5h0.7m3.4 1.3h0.7m-2.9-6.2h0.7m11.1 3.6h0.7m5.6-4.3h0.7m-15.1 6.4h0.7m-0.6 5.9h0.7m-8.1-3.6h0.7m4.4 0.5h0.7m4.4 2.5h0.7m-11.2 1.6h0.7m6.2 9.5h0.7m-7.4-25.9h0.7m10.5 9.4h0.7m5.9-9.8h0.7m-10.8 11.9h0.7m5.7-1.1h0.7m-15.2 4.9h0.7m10.4 3.5h0.7m0.6-14.2h0.7m-5.4 5.9h0.7m-4.8 3.5h0.7m-2.4-7.6h0.7m2 5.5h0.7m5.1-8.3h0.7m-3.3-7.4h0.7m-8.8 11.4h0.7m8.7 6.6h0.7m8.4-11.5h0.7m-16.9 4.7h0.7m0.2 10.6h0.7m-0.2-1.7h0.7m16.6-2.8h0.7m-14.5-3.7h0.7m-7.8-3.2h0.7m-0.3 5.6h0.7m11.1 8.7h0.7m-7.9-9h0.7m-3.3-8h0.7m15.1 16.8h0.7m-22.9-22.7h0.7m4.1 4.4h0.7m-1.1 7.7h0.7m16.4-2.4h0.7m-11.7 1.4h0.7m3.1 5h0.7m-17.7 9.8h0.7m8.2-17.7h0.7m3.7 0.3h0.7m8.3 6.3h0.7m-3.5-0.2h0.7m4.7-7.5h0.7m-22.9 11.8h0.7m9.2-9.4h0.7m-3.6 0.5h0.7m6.8 6.2h0.7m2.3 1.2h0.7m1-6.4h0.7m-15-1.9h0.7m11.9 1.8h0.7m-4.9 0.8h0.7m-8.8-2.7h0.7m7 15.5h0.7m-9.6-10.2h0.7m4.6-1.5h0.7m6.6 7.1h0.7m-11.9-10.7h0.7m2.3-0.4h0.7m-8.1-0.8h0.7m1.7-3.6h0.7m-3.2 12.8h0.7m5.6-17.4h0.7m8.1 17.2h0.7" stroke="#e07a7a" stroke-width="0.7" fill="none" opacity="0.55"/><ellipse cx="235.2" cy="268.8" rx="13" ry="9" transform="rotate(-15 235.2 268.8)" fill="none" stroke="#cf4a4a" stroke-width="0.45" opacity="0.45"/><ellipse cx="234.2" cy="267.8" rx="10" ry="7" transform="rotate(-10 234.2 267.8)" fill="none" stroke="#cf4a4a" stroke-width="0.45" opacity="0.4"/><ellipse cx="232.2" cy="265.8" rx="7" ry="5" transform="rotate(0 232.2 265.8)" fill="none" stroke="#cf4a4a" stroke-width="0.45" opacity="0.4"/><ellipse cx="240.39999999999998" cy="278.1" rx="3.2" ry="2.6" transform="rotate(0 240.39999999999998 278.1)" fill="none" stroke="#cf4a4a" stroke-width="0.45" opacity="0.8"/><ellipse cx="240.39999999999998" cy="278.1" rx="2" ry="1.6" transform="rotate(0 240.39999999999998 278.1)" fill="none" stroke="#cf4a4a" stroke-width="0.45" opacity="0.8"/><ellipse cx="229.2" cy="272.8" rx="5" ry="4.5" transform="rotate(0 229.2 272.8)" fill="none" stroke="#cf4a4a" stroke-width="0.45" opacity="0.35"/><ellipse cx="244.2" cy="272.8" rx="7" ry="5" transform="rotate(-30 244.2 272.8)" fill="none" stroke="#cf4a4a" stroke-width="0.45" opacity="0.35"/><ellipse cx="238.2" cy="262.8" rx="6" ry="4" transform="rotate(-20 238.2 262.8)" fill="none" stroke="#cf4a4a" stroke-width="0.45" opacity="0.35"/><path d="M220.39999999999998,283.3 C219.6,276.8 219.79999999999998,270.8 220.79999999999998,267.8 C222.7,265.8 227.2,264.6 230.2,264.6 L229.79999999999998,266.40000000000003 C226.2,266.6 224.7,268.40000000000003 223.39999999999998,270.0 C223.2,274.8 223.5,279.8 223.79999999999998,283.3 C223.2,285.1 221.0,285.1 220.39999999999998,283.3 Z" fill="#e8a0a0" stroke="#c02a2a" stroke-width="0.9"/><path d="M221.39999999999998,282.8 C221.0,277.8 221.2,272.8 221.79999999999998,269.8" fill="none" stroke="#c43a3a" stroke-width="0.7"/><ellipse cx="248.7" cy="261.40000000000003" rx="6.6" ry="4.0" transform="rotate(-50 248.7 261.40000000000003)" fill="#f6d4d4" stroke="#d86060" stroke-width="0.45"/><ellipse cx="248.7" cy="261.40000000000003" rx="5.3" ry="3.2" transform="rotate(-50 248.7 261.40000000000003)" fill="none" stroke="#cc4444" stroke-width="0.7"/><ellipse cx="248.7" cy="261.40000000000003" rx="4.0" ry="2.4" transform="rotate(-50 248.7 261.40000000000003)" fill="none" stroke="#c03636" stroke-width="0.7"/><ellipse cx="248.7" cy="261.40000000000003" rx="2.7" ry="1.6" transform="rotate(-50 248.7 261.40000000000003)" fill="none" stroke="#c03636" stroke-width="0.7"/><ellipse cx="248.7" cy="261.40000000000003" rx="1.4" ry="0.8" transform="rotate(-50 248.7 261.40000000000003)" fill="none" stroke="#d86a6a" stroke-width="0.7"/></g>
<polygon points="250.50,249.30 261.40,259.60 249.20,271.50 238.60,261.20" fill="none" stroke="#222" stroke-width="0.8"/>
<text x="236.20" y="244.90" font-size="5.6" text-anchor="middle" font-weight="normal" fill="#333" >17%</text>
<text x="236.35" y="213.50" font-size="8.9" text-anchor="middle" font-weight="normal" fill="#111" >Target +</text>
<text x="236.35" y="224.70" font-size="8.9" text-anchor="middle" font-weight="normal" fill="#111" >Remaining PB-T<tspan font-size="6.2" dy="1.9">TE</tspan></text>
<text transform="translate(14.9,262.4) rotate(-90)" font-size="8.9" font-weight="bold" text-anchor="middle" fill="#111" textLength="12.7" lengthAdjust="spacingAndGlyphs">FSC</text>
<line x1="48.50" y1="309.50" x2="219.50" y2="309.50" stroke="#111" stroke-width="1.1" />
<polygon points="224.8,309.5 217.8,307.3 219.2,309.5 217.8,311.7" fill="#111"/>
<text x="228.70" y="312.60" font-size="9" text-anchor="start" font-weight="normal" fill="#111" textLength="19" lengthAdjust="spacingAndGlyphs" style="stroke-width:0.35">CD38<tspan font-size="5.4" dy="-4">hi</tspan></text>
<line x1="324.40" y1="185.40" x2="324.40" y2="289.60" stroke="#000" stroke-width="1.1" />
<line x1="323.90" y1="289.30" x2="428.20" y2="289.30" stroke="#000" stroke-width="1.1" />
<line x1="321.00" y1="289.20" x2="324.40" y2="289.20" stroke="#000" stroke-width="0.8" />
<text x="317.40" y="291.60" font-size="6.9" text-anchor="end" font-weight="normal" fill="#222" >0</text>
<line x1="321.00" y1="270.52" x2="324.40" y2="270.52" stroke="#000" stroke-width="0.8" />
<text x="317.40" y="272.92" font-size="6.9" text-anchor="end" font-weight="normal" fill="#222" >20</text>
<line x1="321.00" y1="251.84" x2="324.40" y2="251.84" stroke="#000" stroke-width="0.8" />
<text x="317.40" y="254.24" font-size="6.9" text-anchor="end" font-weight="normal" fill="#222" >40</text>
<line x1="321.00" y1="233.16" x2="324.40" y2="233.16" stroke="#000" stroke-width="0.8" />
<text x="317.40" y="235.56" font-size="6.9" text-anchor="end" font-weight="normal" fill="#222" >60</text>
<line x1="321.00" y1="214.48" x2="324.40" y2="214.48" stroke="#000" stroke-width="0.8" />
<text x="317.40" y="216.88" font-size="6.9" text-anchor="end" font-weight="normal" fill="#222" >80</text>
<line x1="321.00" y1="195.80" x2="324.40" y2="195.80" stroke="#000" stroke-width="0.8" />
<text x="317.40" y="198.20" font-size="6.9" text-anchor="end" font-weight="normal" fill="#222" >100</text>
<line x1="347.50" y1="289.30" x2="347.50" y2="292.20" stroke="#000" stroke-width="0.8" />
<line x1="376.00" y1="289.30" x2="376.00" y2="292.20" stroke="#000" stroke-width="0.8" />
<line x1="404.60" y1="289.30" x2="404.60" y2="292.20" stroke="#000" stroke-width="0.8" />
<text transform="translate(300.0,240.5) rotate(-90)" font-size="9.3" text-anchor="middle" fill="#222" textLength="37.5" lengthAdjust="spacingAndGlyphs">% CD38<tspan font-size="6" dy="-3.6">hi</tspan><tspan dy="3.6"> PC</tspan></text>
<line x1="347.50" y1="195.80" x2="376.00" y2="215.88" stroke="#111" stroke-width="0.9" />
<line x1="347.50" y1="195.80" x2="376.00" y2="217.28" stroke="#111" stroke-width="0.9" />
<line x1="347.50" y1="195.80" x2="376.00" y2="234.09" stroke="#111" stroke-width="0.9" />
<line x1="347.50" y1="195.80" x2="376.00" y2="244.37" stroke="#111" stroke-width="0.9" />
<line x1="347.50" y1="195.80" x2="376.00" y2="260.25" stroke="#111" stroke-width="0.9" />
<line x1="347.50" y1="195.80" x2="376.00" y2="261.65" stroke="#111" stroke-width="0.9" />
<line x1="347.50" y1="195.80" x2="376.00" y2="263.05" stroke="#111" stroke-width="0.9" />
<line x1="347.50" y1="195.80" x2="376.00" y2="273.79" stroke="#111" stroke-width="0.9" />
<line x1="347.50" y1="195.80" x2="376.00" y2="285.93" stroke="#111" stroke-width="0.9" />
<line x1="376.00" y1="215.88" x2="404.60" y2="211.10" stroke="#111" stroke-width="0.9" />
<line x1="376.00" y1="217.28" x2="404.60" y2="249.50" stroke="#111" stroke-width="0.9" />
<line x1="376.00" y1="234.09" x2="404.60" y2="220.30" stroke="#111" stroke-width="0.9" />
<line x1="376.00" y1="244.37" x2="404.60" y2="223.00" stroke="#111" stroke-width="0.9" />
<line x1="376.00" y1="260.25" x2="404.60" y2="195.80" stroke="#111" stroke-width="0.9" />
<line x1="376.00" y1="261.65" x2="404.60" y2="216.90" stroke="#111" stroke-width="0.9" />
<line x1="376.00" y1="263.05" x2="404.60" y2="229.20" stroke="#111" stroke-width="0.9" />
<line x1="376.00" y1="273.79" x2="404.60" y2="253.60" stroke="#111" stroke-width="0.9" />
<line x1="376.00" y1="285.93" x2="404.60" y2="285.00" stroke="#111" stroke-width="0.9" />
<circle cx="347.5" cy="195.79999999999998" r="1.8" fill="#111"/>
<circle cx="376.0" cy="215.88" r="1.65" fill="#e8401a" stroke="#3a0a00" stroke-width="0.6"/>
<circle cx="376.0" cy="217.28" r="1.65" fill="#e8401a" stroke="#3a0a00" stroke-width="0.6"/>
<circle cx="376.0" cy="234.09" r="1.65" fill="#e8401a" stroke="#3a0a00" stroke-width="0.6"/>
<circle cx="376.0" cy="244.37" r="1.65" fill="#e8401a" stroke="#3a0a00" stroke-width="0.6"/>
<circle cx="376.0" cy="260.25" r="1.65" fill="#e8401a" stroke="#3a0a00" stroke-width="0.6"/>
<circle cx="376.0" cy="261.65" r="1.65" fill="#e8401a" stroke="#3a0a00" stroke-width="0.6"/>
<circle cx="376.0" cy="263.05" r="1.65" fill="#e8401a" stroke="#3a0a00" stroke-width="0.6"/>
<circle cx="376.0" cy="273.79" r="1.65" fill="#e8401a" stroke="#3a0a00" stroke-width="0.6"/>
<circle cx="376.0" cy="285.93" r="1.65" fill="#e8401a" stroke="#3a0a00" stroke-width="0.6"/>
<circle cx="404.6" cy="195.80" r="1.65" fill="#26208a" stroke="#0a0830" stroke-width="0.6"/>
<circle cx="404.6" cy="211.10" r="1.65" fill="#26208a" stroke="#0a0830" stroke-width="0.6"/>
<circle cx="404.6" cy="216.90" r="1.65" fill="#26208a" stroke="#0a0830" stroke-width="0.6"/>
<circle cx="404.6" cy="220.30" r="1.65" fill="#26208a" stroke="#0a0830" stroke-width="0.6"/>
<circle cx="404.6" cy="223.00" r="1.65" fill="#26208a" stroke="#0a0830" stroke-width="0.6"/>
<circle cx="404.6" cy="229.20" r="1.65" fill="#26208a" stroke="#0a0830" stroke-width="0.6"/>
<circle cx="404.6" cy="249.50" r="1.65" fill="#26208a" stroke="#0a0830" stroke-width="0.6"/>
<circle cx="404.6" cy="253.60" r="1.65" fill="#26208a" stroke="#0a0830" stroke-width="0.6"/>
<circle cx="404.6" cy="285.00" r="1.65" fill="#26208a" stroke="#0a0830" stroke-width="0.6"/>
<text x="409.80" y="197.60" font-size="6.6" text-anchor="start" font-weight="normal" fill="#333" >#12</text>
<text x="409.80" y="211.70" font-size="6.6" text-anchor="start" font-weight="normal" fill="#333" >#13</text>
<text x="409.80" y="217.20" font-size="6.6" text-anchor="start" font-weight="normal" fill="#333" >#14</text>
<text x="409.80" y="223.50" font-size="6.6" text-anchor="start" font-weight="normal" fill="#333" >#15</text>
<text x="409.80" y="229.70" font-size="6.6" text-anchor="start" font-weight="normal" fill="#333" >#16</text>
<text x="409.80" y="235.50" font-size="6.6" text-anchor="start" font-weight="normal" fill="#333" >#17</text>
<text x="409.80" y="250.10" font-size="6.6" text-anchor="start" font-weight="normal" fill="#333" >#18</text>
<text x="409.80" y="256.70" font-size="6.6" text-anchor="start" font-weight="normal" fill="#333" >#19</text>
<text x="409.80" y="287.30" font-size="6.6" text-anchor="start" font-weight="normal" fill="#333" >#20</text>
<polyline points="376.2,207.9 376.2,190 404.6,190 404.6,191.6" fill="none" stroke="#333" stroke-width="0.8"/>
<text x="391.00" y="187.80" font-size="5.5" text-anchor="middle" font-weight="normal" fill="#333" >ns</text>
<text x="307.00" y="301.90" font-size="6.8" text-anchor="middle" font-weight="normal" fill="#222" >Target</text>
<text x="310.10" y="313.40" font-size="6.8" text-anchor="middle" font-weight="normal" fill="#222" >Dominant</text>
<text x="310.10" y="322.60" font-size="6.8" text-anchor="middle" font-weight="normal" fill="#222" >PB-TCR-Vβ</text>
<text x="309.30" y="334.40" font-size="6.8" text-anchor="middle" font-weight="normal" fill="#222" >Remaining</text>
<text x="308.60" y="343.40" font-size="6.8" text-anchor="middle" font-weight="normal" fill="#222" >PB-T<tspan font-size="4.8" dy="1.6">TE</tspan></text>
<line x1="345.90" y1="299.60" x2="349.70" y2="299.60" stroke="#222" stroke-width="0.75" />
<line x1="347.80" y1="297.70" x2="347.80" y2="301.50" stroke="#222" stroke-width="0.75" />
<line x1="374.10" y1="299.60" x2="377.90" y2="299.60" stroke="#222" stroke-width="0.75" />
<line x1="376.00" y1="297.70" x2="376.00" y2="301.50" stroke="#222" stroke-width="0.75" />
<line x1="402.70" y1="299.60" x2="406.50" y2="299.60" stroke="#222" stroke-width="0.75" />
<line x1="404.60" y1="297.70" x2="404.60" y2="301.50" stroke="#222" stroke-width="0.75" />
<line x1="347.00" y1="315.30" x2="348.60" y2="315.30" stroke="#444" stroke-width="0.7" />
<line x1="374.10" y1="315.00" x2="377.90" y2="315.00" stroke="#222" stroke-width="0.75" />
<line x1="376.00" y1="313.10" x2="376.00" y2="316.90" stroke="#222" stroke-width="0.75" />
<line x1="403.80" y1="315.30" x2="405.40" y2="315.30" stroke="#444" stroke-width="0.7" />
<line x1="347.00" y1="337.80" x2="348.60" y2="337.80" stroke="#444" stroke-width="0.7" />
<line x1="375.20" y1="337.80" x2="376.80" y2="337.80" stroke="#444" stroke-width="0.7" />
<line x1="402.70" y1="337.60" x2="406.50" y2="337.60" stroke="#222" stroke-width="0.75" />
<line x1="404.60" y1="335.70" x2="404.60" y2="339.50" stroke="#222" stroke-width="0.75" />
<rect x="41.90" y="386.10" width="55.2" height="55.0" fill="#fff" stroke="#999" stroke-width="0.6"/>
<line x1="41.90" y1="441.10" x2="97.10" y2="441.10" stroke="#555" stroke-width="0.7" />
<line x1="41.90" y1="386.10" x2="41.90" y2="441.10" stroke="#666" stroke-width="0.6" />
<line x1="43.90" y1="441.10" x2="43.90" y2="440.20" stroke="#777" stroke-width="0.35" />
<line x1="46.65" y1="441.10" x2="46.65" y2="440.20" stroke="#777" stroke-width="0.35" />
<line x1="49.40" y1="441.10" x2="49.40" y2="440.20" stroke="#777" stroke-width="0.35" />
<line x1="52.15" y1="441.10" x2="52.15" y2="440.20" stroke="#777" stroke-width="0.35" />
<line x1="54.90" y1="441.10" x2="54.90" y2="440.20" stroke="#777" stroke-width="0.35" />
<line x1="57.65" y1="441.10" x2="57.65" y2="440.20" stroke="#777" stroke-width="0.35" />
<line x1="60.40" y1="441.10" x2="60.40" y2="440.20" stroke="#777" stroke-width="0.35" />
<line x1="63.15" y1="441.10" x2="63.15" y2="440.20" stroke="#777" stroke-width="0.35" />
<line x1="65.90" y1="441.10" x2="65.90" y2="440.20" stroke="#777" stroke-width="0.35" />
<line x1="68.65" y1="441.10" x2="68.65" y2="440.20" stroke="#777" stroke-width="0.35" />
<line x1="71.40" y1="441.10" x2="71.40" y2="440.20" stroke="#777" stroke-width="0.35" />
<line x1="74.15" y1="441.10" x2="74.15" y2="440.20" stroke="#777" stroke-width="0.35" />
<line x1="76.90" y1="441.10" x2="76.90" y2="440.20" stroke="#777" stroke-width="0.35" />
<line x1="79.65" y1="441.10" x2="79.65" y2="440.20" stroke="#777" stroke-width="0.35" />
<line x1="82.40" y1="441.10" x2="82.40" y2="440.20" stroke="#777" stroke-width="0.35" />
<line x1="85.15" y1="441.10" x2="85.15" y2="440.20" stroke="#777" stroke-width="0.35" />
<line x1="87.90" y1="441.10" x2="87.90" y2="440.20" stroke="#777" stroke-width="0.35" />
<line x1="90.65" y1="441.10" x2="90.65" y2="440.20" stroke="#777" stroke-width="0.35" />
<line x1="93.40" y1="441.10" x2="93.40" y2="440.20" stroke="#777" stroke-width="0.35" />
<line x1="96.15" y1="441.10" x2="96.15" y2="440.20" stroke="#777" stroke-width="0.35" />
<line x1="41.90" y1="388.10" x2="42.80" y2="388.10" stroke="#777" stroke-width="0.35" />
<line x1="41.90" y1="390.80" x2="42.80" y2="390.80" stroke="#777" stroke-width="0.35" />
<line x1="41.90" y1="393.50" x2="42.80" y2="393.50" stroke="#777" stroke-width="0.35" />
<line x1="41.90" y1="396.20" x2="42.80" y2="396.20" stroke="#777" stroke-width="0.35" />
<line x1="41.90" y1="398.90" x2="42.80" y2="398.90" stroke="#777" stroke-width="0.35" />
<line x1="41.90" y1="401.60" x2="42.80" y2="401.60" stroke="#777" stroke-width="0.35" />
<line x1="41.90" y1="404.30" x2="42.80" y2="404.30" stroke="#777" stroke-width="0.35" />
<line x1="41.90" y1="407.00" x2="42.80" y2="407.00" stroke="#777" stroke-width="0.35" />
<line x1="41.90" y1="409.70" x2="42.80" y2="409.70" stroke="#777" stroke-width="0.35" />
<line x1="41.90" y1="412.40" x2="42.80" y2="412.40" stroke="#777" stroke-width="0.35" />
<line x1="41.90" y1="415.10" x2="42.80" y2="415.10" stroke="#777" stroke-width="0.35" />
<line x1="41.90" y1="417.80" x2="42.80" y2="417.80" stroke="#777" stroke-width="0.35" />
<line x1="41.90" y1="420.50" x2="42.80" y2="420.50" stroke="#777" stroke-width="0.35" />
<line x1="41.90" y1="423.20" x2="42.80" y2="423.20" stroke="#777" stroke-width="0.35" />
<line x1="41.90" y1="425.90" x2="42.80" y2="425.90" stroke="#777" stroke-width="0.35" />
<line x1="41.90" y1="428.60" x2="42.80" y2="428.60" stroke="#777" stroke-width="0.35" />
<line x1="41.90" y1="431.30" x2="42.80" y2="431.30" stroke="#777" stroke-width="0.35" />
<line x1="41.90" y1="434.00" x2="42.80" y2="434.00" stroke="#777" stroke-width="0.35" />
<line x1="41.90" y1="436.70" x2="42.80" y2="436.70" stroke="#777" stroke-width="0.35" />
<line x1="41.90" y1="439.40" x2="42.80" y2="439.40" stroke="#777" stroke-width="0.35" />
<defs><linearGradient id="eg1" x1="0" x2="1" y1="0" y2="0"><stop offset="0" stop-color="#222"/><stop offset="0.3" stop-color="#555"/><stop offset="0.45" stop-color="#999"/><stop offset="0.75" stop-color="#ccc"/><stop offset="1" stop-color="#eee"/></linearGradient></defs><path d="M57.9,424.90000000000003 L88.4,423.90000000000003 L88.4,430.0 L57.9,430.1 A2.6,2.6 0 0 1 57.9,424.90000000000003 Z" fill="url(#eg1)" opacity="0.95"/><ellipse cx="61.4" cy="427.6" rx="5" ry="2.2" fill="#111" opacity="0.55"/><rect x="75.32" y="418.10" width="0.6" height="0.6" fill="#888" opacity="0.6"/><rect x="89.48" y="412.54" width="0.6" height="0.6" fill="#888" opacity="0.6"/><rect x="73.56" y="421.82" width="0.6" height="0.6" fill="#888" opacity="0.6"/><rect x="74.50" y="418.38" width="0.6" height="0.6" fill="#888" opacity="0.6"/><rect x="86.72" y="416.41" width="0.6" height="0.6" fill="#888" opacity="0.6"/><rect x="74.23" y="416.01" width="0.6" height="0.6" fill="#888" opacity="0.6"/><rect x="76.17" y="410.17" width="0.6" height="0.6" fill="#888" opacity="0.6"/><rect x="83.70" y="416.74" width="0.6" height="0.6" fill="#888" opacity="0.6"/><rect x="69.45" y="421.66" width="0.6" height="0.6" fill="#888" opacity="0.6"/><rect x="90.01" y="418.41" width="0.6" height="0.6" fill="#888" opacity="0.6"/><rect x="88.53" y="417.78" width="0.6" height="0.6" fill="#888" opacity="0.6"/><rect x="86.97" y="410.01" width="0.6" height="0.6" fill="#888" opacity="0.6"/><rect x="91.88" y="420.84" width="0.6" height="0.6" fill="#888" opacity="0.6"/><rect x="89.50" y="417.11" width="0.6" height="0.6" fill="#888" opacity="0.6"/><rect x="80.78" y="422.02" width="0.6" height="0.6" fill="#888" opacity="0.6"/><rect x="79.41" y="413.28" width="0.6" height="0.6" fill="#888" opacity="0.6"/>
<line x1="67.10" y1="386.10" x2="67.10" y2="441.10" stroke="#333" stroke-width="0.7" />
<line x1="41.90" y1="423.30" x2="97.10" y2="423.30" stroke="#333" stroke-width="0.7" />
<ellipse cx="41.4" cy="428.4" rx="0.7" ry="1.1" fill="#111"/>
<ellipse cx="55.4" cy="441.1" rx="1.2" ry="0.6" fill="#111"/>
<text x="46.50" y="395.40" font-size="6.3" text-anchor="start" font-weight="normal" fill="#333" >0%</text>
<text x="91.50" y="395.40" font-size="6.3" text-anchor="end" font-weight="normal" fill="#333" >1%</text>
<text x="46.00" y="437.40" font-size="6.3" text-anchor="start" font-weight="normal" fill="#333" >74%</text>
<text x="91.50" y="437.40" font-size="6.3" text-anchor="end" font-weight="normal" fill="#333" >25%</text>
<text x="36.60" y="394.40" font-size="7" text-anchor="end" font-weight="normal" fill="#222" >10<tspan font-size="4.6" dy="-2.6">5</tspan></text>
<text x="36.60" y="408.60" font-size="7" text-anchor="end" font-weight="normal" fill="#222" >10<tspan font-size="4.6" dy="-2.6">4</tspan></text>
<text x="36.60" y="423.00" font-size="7" text-anchor="end" font-weight="normal" fill="#222" >10<tspan font-size="4.6" dy="-2.6">3</tspan></text>
<text x="36.60" y="441.00" font-size="7" text-anchor="end" font-weight="normal" fill="#222" >-10<tspan font-size="4.6" dy="-2.6">3</tspan></text>
<text x="37.00" y="430.40" font-size="7" text-anchor="end" font-weight="normal" fill="#222" >0</text>
<text x="39.10" y="452.30" font-size="7" text-anchor="start" font-weight="normal" fill="#222" >-10<tspan font-size="4.6" dy="-2.6">3</tspan></text>
<text x="54.40" y="452.30" font-size="7" text-anchor="start" font-weight="normal" fill="#222" >0</text>
<text x="58.90" y="452.30" font-size="7" text-anchor="start" font-weight="normal" fill="#222" >10<tspan font-size="4.6" dy="-2.6">3</tspan></text>
<text x="73.90" y="452.30" font-size="7" text-anchor="start" font-weight="normal" fill="#222" >10<tspan font-size="4.6" dy="-2.6">4</tspan></text>
<text x="87.10" y="452.30" font-size="7" text-anchor="start" font-weight="normal" fill="#222" >10<tspan font-size="4.6" dy="-2.6">5</tspan></text>
<text x="69.50" y="368.10" font-size="8.9" text-anchor="middle" font-weight="normal" fill="#111" >Target + Dominant</text>
<text x="69.50" y="380.20" font-size="8.9" text-anchor="middle" font-weight="normal" fill="#111" >PB-TCR-Vβ</text>
<rect x="125.40" y="386.10" width="55.2" height="55.0" fill="#fff" stroke="#999" stroke-width="0.6"/>
<line x1="125.40" y1="441.10" x2="180.60" y2="441.10" stroke="#555" stroke-width="0.7" />
<line x1="125.40" y1="386.10" x2="125.40" y2="441.10" stroke="#666" stroke-width="0.6" />
<line x1="127.40" y1="441.10" x2="127.40" y2="440.20" stroke="#777" stroke-width="0.35" />
<line x1="130.15" y1="441.10" x2="130.15" y2="440.20" stroke="#777" stroke-width="0.35" />
<line x1="132.90" y1="441.10" x2="132.90" y2="440.20" stroke="#777" stroke-width="0.35" />
<line x1="135.65" y1="441.10" x2="135.65" y2="440.20" stroke="#777" stroke-width="0.35" />
<line x1="138.40" y1="441.10" x2="138.40" y2="440.20" stroke="#777" stroke-width="0.35" />
<line x1="141.15" y1="441.10" x2="141.15" y2="440.20" stroke="#777" stroke-width="0.35" />
<line x1="143.90" y1="441.10" x2="143.90" y2="440.20" stroke="#777" stroke-width="0.35" />
<line x1="146.65" y1="441.10" x2="146.65" y2="440.20" stroke="#777" stroke-width="0.35" />
<line x1="149.40" y1="441.10" x2="149.40" y2="440.20" stroke="#777" stroke-width="0.35" />
<line x1="152.15" y1="441.10" x2="152.15" y2="440.20" stroke="#777" stroke-width="0.35" />
<line x1="154.90" y1="441.10" x2="154.90" y2="440.20" stroke="#777" stroke-width="0.35" />
<line x1="157.65" y1="441.10" x2="157.65" y2="440.20" stroke="#777" stroke-width="0.35" />
<line x1="160.40" y1="441.10" x2="160.40" y2="440.20" stroke="#777" stroke-width="0.35" />
<line x1="163.15" y1="441.10" x2="163.15" y2="440.20" stroke="#777" stroke-width="0.35" />
<line x1="165.90" y1="441.10" x2="165.90" y2="440.20" stroke="#777" stroke-width="0.35" />
<line x1="168.65" y1="441.10" x2="168.65" y2="440.20" stroke="#777" stroke-width="0.35" />
<line x1="171.40" y1="441.10" x2="171.40" y2="440.20" stroke="#777" stroke-width="0.35" />
<line x1="174.15" y1="441.10" x2="174.15" y2="440.20" stroke="#777" stroke-width="0.35" />
<line x1="176.90" y1="441.10" x2="176.90" y2="440.20" stroke="#777" stroke-width="0.35" />
<line x1="179.65" y1="441.10" x2="179.65" y2="440.20" stroke="#777" stroke-width="0.35" />
<line x1="125.40" y1="388.10" x2="126.30" y2="388.10" stroke="#777" stroke-width="0.35" />
<line x1="125.40" y1="390.80" x2="126.30" y2="390.80" stroke="#777" stroke-width="0.35" />
<line x1="125.40" y1="393.50" x2="126.30" y2="393.50" stroke="#777" stroke-width="0.35" />
<line x1="125.40" y1="396.20" x2="126.30" y2="396.20" stroke="#777" stroke-width="0.35" />
<line x1="125.40" y1="398.90" x2="126.30" y2="398.90" stroke="#777" stroke-width="0.35" />
<line x1="125.40" y1="401.60" x2="126.30" y2="401.60" stroke="#777" stroke-width="0.35" />
<line x1="125.40" y1="404.30" x2="126.30" y2="404.30" stroke="#777" stroke-width="0.35" />
<line x1="125.40" y1="407.00" x2="126.30" y2="407.00" stroke="#777" stroke-width="0.35" />
<line x1="125.40" y1="409.70" x2="126.30" y2="409.70" stroke="#777" stroke-width="0.35" />
<line x1="125.40" y1="412.40" x2="126.30" y2="412.40" stroke="#777" stroke-width="0.35" />
<line x1="125.40" y1="415.10" x2="126.30" y2="415.10" stroke="#777" stroke-width="0.35" />
<line x1="125.40" y1="417.80" x2="126.30" y2="417.80" stroke="#777" stroke-width="0.35" />
<line x1="125.40" y1="420.50" x2="126.30" y2="420.50" stroke="#777" stroke-width="0.35" />
<line x1="125.40" y1="423.20" x2="126.30" y2="423.20" stroke="#777" stroke-width="0.35" />
<line x1="125.40" y1="425.90" x2="126.30" y2="425.90" stroke="#777" stroke-width="0.35" />
<line x1="125.40" y1="428.60" x2="126.30" y2="428.60" stroke="#777" stroke-width="0.35" />
<line x1="125.40" y1="431.30" x2="126.30" y2="431.30" stroke="#777" stroke-width="0.35" />
<line x1="125.40" y1="434.00" x2="126.30" y2="434.00" stroke="#777" stroke-width="0.35" />
<line x1="125.40" y1="436.70" x2="126.30" y2="436.70" stroke="#777" stroke-width="0.35" />
<line x1="125.40" y1="439.40" x2="126.30" y2="439.40" stroke="#777" stroke-width="0.35" />
<defs><linearGradient id="eg2" x1="0" x2="1" y1="0" y2="0"><stop offset="0" stop-color="#222"/><stop offset="0.3" stop-color="#555"/><stop offset="0.45" stop-color="#999"/><stop offset="0.75" stop-color="#ccc"/><stop offset="1" stop-color="#eee"/></linearGradient></defs><path d="M141.8,424.90000000000003 L170.3,423.90000000000003 L170.3,430.0 L141.8,430.1 A2.6,2.6 0 0 1 141.8,424.90000000000003 Z" fill="url(#eg2)" opacity="0.95"/><ellipse cx="145.3" cy="427.6" rx="5" ry="2.2" fill="#111" opacity="0.55"/><rect x="170.03" y="420.91" width="0.6" height="0.6" fill="#888" opacity="0.6"/><rect x="166.52" y="417.76" width="0.6" height="0.6" fill="#888" opacity="0.6"/><rect x="153.46" y="420.34" width="0.6" height="0.6" fill="#888" opacity="0.6"/><rect x="153.10" y="410.56" width="0.6" height="0.6" fill="#888" opacity="0.6"/><rect x="168.50" y="412.36" width="0.6" height="0.6" fill="#888" opacity="0.6"/><rect x="174.99" y="422.13" width="0.6" height="0.6" fill="#888" opacity="0.6"/><rect x="175.78" y="410.94" width="0.6" height="0.6" fill="#888" opacity="0.6"/><rect x="170.97" y="415.01" width="0.6" height="0.6" fill="#888" opacity="0.6"/><rect x="175.42" y="406.07" width="0.6" height="0.6" fill="#888" opacity="0.6"/><rect x="157.43" y="419.33" width="0.6" height="0.6" fill="#888" opacity="0.6"/><rect x="155.21" y="411.36" width="0.6" height="0.6" fill="#888" opacity="0.6"/><rect x="175.06" y="414.61" width="0.6" height="0.6" fill="#888" opacity="0.6"/><rect x="160.84" y="421.48" width="0.6" height="0.6" fill="#888" opacity="0.6"/><rect x="175.34" y="420.75" width="0.6" height="0.6" fill="#888" opacity="0.6"/><rect x="159.14" y="418.83" width="0.6" height="0.6" fill="#888" opacity="0.6"/><rect x="153.15" y="421.33" width="0.6" height="0.6" fill="#888" opacity="0.6"/><rect x="152.28" y="415.04" width="0.6" height="0.6" fill="#888" opacity="0.6"/><rect x="171.68" y="417.01" width="0.6" height="0.6" fill="#888" opacity="0.6"/><rect x="172.53" y="410.27" width="0.6" height="0.6" fill="#888" opacity="0.6"/><rect x="156.92" y="416.02" width="0.6" height="0.6" fill="#888" opacity="0.6"/><rect x="173.24" y="422.24" width="0.6" height="0.6" fill="#888" opacity="0.6"/><rect x="161.32" y="405.71" width="0.6" height="0.6" fill="#888" opacity="0.6"/><rect x="162.37" y="419.88" width="0.6" height="0.6" fill="#888" opacity="0.6"/><rect x="153.90" y="422.02" width="0.6" height="0.6" fill="#888" opacity="0.6"/><rect x="165.18" y="421.83" width="0.6" height="0.6" fill="#888" opacity="0.6"/><rect x="161.86" y="420.24" width="0.6" height="0.6" fill="#888" opacity="0.6"/><rect x="160.98" y="418.15" width="0.6" height="0.6" fill="#888" opacity="0.6"/><rect x="154.27" y="401.36" width="0.6" height="0.6" fill="#888" opacity="0.6"/><rect x="165.15" y="412.58" width="0.6" height="0.6" fill="#888" opacity="0.6"/><rect x="174.71" y="414.84" width="0.6" height="0.6" fill="#888" opacity="0.6"/><rect x="169.06" y="420.55" width="0.6" height="0.6" fill="#888" opacity="0.6"/><rect x="154.41" y="421.31" width="0.6" height="0.6" fill="#888" opacity="0.6"/><rect x="157.85" y="419.03" width="0.6" height="0.6" fill="#888" opacity="0.6"/><rect x="175.12" y="420.46" width="0.6" height="0.6" fill="#888" opacity="0.6"/>
<line x1="150.10" y1="386.10" x2="150.10" y2="441.10" stroke="#333" stroke-width="0.7" />
<line x1="125.40" y1="423.30" x2="180.60" y2="423.30" stroke="#333" stroke-width="0.7" />
<ellipse cx="124.9" cy="428.4" rx="0.7" ry="1.1" fill="#111"/>
<ellipse cx="138.9" cy="441.1" rx="1.2" ry="0.6" fill="#111"/>
<text x="130.00" y="395.40" font-size="6.3" text-anchor="start" font-weight="normal" fill="#333" >0%</text>
<text x="175.00" y="395.40" font-size="6.3" text-anchor="end" font-weight="normal" fill="#333" >1%</text>
<text x="129.50" y="437.40" font-size="6.3" text-anchor="start" font-weight="normal" fill="#333" >63%</text>
<text x="175.00" y="437.40" font-size="6.3" text-anchor="end" font-weight="normal" fill="#333" >36%</text>
<text x="120.10" y="394.40" font-size="7" text-anchor="end" font-weight="normal" fill="#222" >10<tspan font-size="4.6" dy="-2.6">5</tspan></text>
<text x="120.10" y="408.60" font-size="7" text-anchor="end" font-weight="normal" fill="#222" >10<tspan font-size="4.6" dy="-2.6">4</tspan></text>
<text x="120.10" y="423.00" font-size="7" text-anchor="end" font-weight="normal" fill="#222" >10<tspan font-size="4.6" dy="-2.6">3</tspan></text>
<text x="120.10" y="441.00" font-size="7" text-anchor="end" font-weight="normal" fill="#222" >-10<tspan font-size="4.6" dy="-2.6">3</tspan></text>
<text x="120.50" y="430.40" font-size="7" text-anchor="end" font-weight="normal" fill="#222" >0</text>
<text x="122.60" y="452.30" font-size="7" text-anchor="start" font-weight="normal" fill="#222" >-10<tspan font-size="4.6" dy="-2.6">3</tspan></text>
<text x="137.90" y="452.30" font-size="7" text-anchor="start" font-weight="normal" fill="#222" >0</text>
<text x="142.40" y="452.30" font-size="7" text-anchor="start" font-weight="normal" fill="#222" >10<tspan font-size="4.6" dy="-2.6">3</tspan></text>
<text x="157.40" y="452.30" font-size="7" text-anchor="start" font-weight="normal" fill="#222" >10<tspan font-size="4.6" dy="-2.6">4</tspan></text>
<text x="170.60" y="452.30" font-size="7" text-anchor="start" font-weight="normal" fill="#222" >10<tspan font-size="4.6" dy="-2.6">5</tspan></text>
<text x="153.00" y="368.10" font-size="8.9" text-anchor="middle" font-weight="normal" fill="#111" >Target +</text>
<text x="153.00" y="380.20" font-size="8.9" text-anchor="middle" font-weight="normal" fill="#111" >Remaining PB-T<tspan font-size="6.2" dy="1.9">TE</tspan></text>
<text transform="translate(18.0,414.4) rotate(-90)" font-size="9.4" font-weight="bold" text-anchor="middle" fill="#111" textLength="16.7" lengthAdjust="spacingAndGlyphs">IFN-γ</text>
<text x="102.50" y="465.30" font-size="8.4" text-anchor="middle" font-weight="bold" fill="#111" textLength="20" lengthAdjust="spacingAndGlyphs">CD107a</text>
<line x1="42.40" y1="523.40" x2="42.40" y2="599.20" stroke="#000" stroke-width="1.1" />
<line x1="41.90" y1="598.80" x2="91.70" y2="598.80" stroke="#000" stroke-width="1.1" />
<line x1="38.60" y1="598.70" x2="42.40" y2="598.70" stroke="#000" stroke-width="0.8" />
<text x="36.50" y="601.10" font-size="6.9" text-anchor="end" font-weight="normal" fill="#222" >0</text>
<line x1="38.60" y1="580.38" x2="42.40" y2="580.38" stroke="#000" stroke-width="0.8" />
<text x="36.50" y="582.78" font-size="6.9" text-anchor="end" font-weight="normal" fill="#222" >20</text>
<line x1="38.60" y1="562.06" x2="42.40" y2="562.06" stroke="#000" stroke-width="0.8" />
<text x="36.50" y="564.46" font-size="6.9" text-anchor="end" font-weight="normal" fill="#222" >40</text>
<line x1="38.60" y1="543.74" x2="42.40" y2="543.74" stroke="#000" stroke-width="0.8" />
<text x="36.50" y="546.14" font-size="6.9" text-anchor="end" font-weight="normal" fill="#222" >60</text>
<line x1="38.60" y1="525.42" x2="42.40" y2="525.42" stroke="#000" stroke-width="0.8" />
<text x="36.50" y="527.82" font-size="6.9" text-anchor="end" font-weight="normal" fill="#222" >80</text>
<line x1="66.90" y1="525.00" x2="66.90" y2="598.50" stroke="#777" stroke-width="0.7" stroke-dasharray="0.8 0.8"/>
<text x="66.50" y="515.00" font-size="8.9" text-anchor="middle" font-weight="normal" fill="#111" >Gated on PB-T<tspan font-size="6.2" dy="2">TE</tspan></text>
<text transform="translate(20.6,561.1) rotate(-90)" font-size="9.3" text-anchor="middle" fill="#222" textLength="54.8" lengthAdjust="spacingAndGlyphs">% CD107a<tspan font-size="6" dy="-3.4">+</tspan><tspan dy="3.4"> PB-T</tspan><tspan font-size="6.2" dy="2">TE</tspan></text>
<circle cx="56.2" cy="533.3" r="1.85" fill="#cc2a1a"/>
<polygon points="56.2,562.8 58.510000000000005,566.65 53.89,566.65" fill="#cc2a1a"/>
<polygon points="53.5,578.4000000000001 55.81,574.5500000000001 51.19,574.5500000000001" fill="#cc2a1a"/>
<rect x="57.9" y="573.6999999999999" width="3.4" height="3.4" fill="#cc2a1a"/>
<circle cx="77.3" cy="539.8" r="1.85" fill="#cc2a1a"/>
<rect x="75.6" y="562.0999999999999" width="3.4" height="3.4" fill="#cc2a1a"/>
<polygon points="74.6,580.1 76.91,576.25 72.28999999999999,576.25" fill="#cc2a1a"/>
<polygon points="80.4,574.3 82.71000000000001,578.15 78.09,578.15" fill="#cc2a1a"/>
<line x1="49.00" y1="570.20" x2="63.50" y2="570.20" stroke="#111" stroke-width="1.0" />
<line x1="70.20" y1="570.20" x2="84.60" y2="570.20" stroke="#111" stroke-width="1.0" />
<text x="113.10" y="535.60" font-size="6.8" text-anchor="middle" font-weight="normal" fill="#333" textLength="22.2" lengthAdjust="spacingAndGlyphs">NDMM</text>
<line x1="96.70" y1="540.70" x2="129.30" y2="540.70" stroke="#555" stroke-width="1.0" />
<polygon points="105.2,549.8000000000001 106.985,546.825 103.415,546.825" fill="#cc2a1a"/>
<polygon points="105.2,557.9 106.985,560.875 103.415,560.875" fill="#cc2a1a"/>
<rect x="103.85000000000001" y="569.15" width="2.7" height="2.7" fill="#cc2a1a"/>
<circle cx="105.2" cy="581.8" r="1.45" fill="#cc2a1a"/>
<text x="110.80" y="550.40" font-size="6.6" text-anchor="start" font-weight="normal" fill="#444" >#16</text>
<text x="110.80" y="561.90" font-size="6.6" text-anchor="start" font-weight="normal" fill="#444" >#17</text>
<text x="110.80" y="572.80" font-size="6.6" text-anchor="start" font-weight="normal" fill="#444" >#18</text>
<text x="110.80" y="584.10" font-size="6.6" text-anchor="start" font-weight="normal" fill="#444" >#20</text>
<text x="24.60" y="608.80" font-size="6.6" text-anchor="middle" font-weight="normal" fill="#222" >Target</text>
<text x="28.00" y="620.00" font-size="6.6" text-anchor="middle" font-weight="normal" fill="#222" >Dominant</text>
<text x="28.10" y="629.00" font-size="6.6" text-anchor="middle" font-weight="normal" fill="#222" >PB-TCR-Vβ</text>
<text x="26.80" y="640.30" font-size="6.6" text-anchor="middle" font-weight="normal" fill="#222" >Remaining</text>
<text x="26.80" y="650.00" font-size="6.6" text-anchor="middle" font-weight="normal" fill="#222" >PB-T<tspan font-size="4.6" dy="1.6">TE</tspan></text>
<line x1="53.10" y1="606.60" x2="56.90" y2="606.60" stroke="#222" stroke-width="0.75" />
<line x1="55.00" y1="604.70" x2="55.00" y2="608.50" stroke="#222" stroke-width="0.75" />
<line x1="75.60" y1="606.60" x2="79.40" y2="606.60" stroke="#222" stroke-width="0.75" />
<line x1="77.50" y1="604.70" x2="77.50" y2="608.50" stroke="#222" stroke-width="0.75" />
<line x1="53.10" y1="622.30" x2="56.90" y2="622.30" stroke="#222" stroke-width="0.75" />
<line x1="55.00" y1="620.40" x2="55.00" y2="624.20" stroke="#222" stroke-width="0.75" />
<line x1="76.70" y1="622.30" x2="78.30" y2="622.30" stroke="#444" stroke-width="0.7" />
<line x1="54.20" y1="644.30" x2="55.80" y2="644.30" stroke="#444" stroke-width="0.7" />
<line x1="75.60" y1="644.70" x2="79.40" y2="644.70" stroke="#222" stroke-width="0.75" />
<line x1="77.50" y1="642.80" x2="77.50" y2="646.60" stroke="#222" stroke-width="0.75" />
<text x="225.20" y="504.90" font-size="9.3" text-anchor="middle" font-weight="normal" fill="#111" >PB-T<tspan font-size="6.6" dy="2">TE</tspan><tspan dy="-2"> NDMM #2</tspan></text>
<path d="M210.1 536.8h1.1m-1.5-1.4h1.1m0.1 0.5h1.1m-2.9 0.7h1.1m0.2 0.9h1.1m-2-0.9h1.1m-0.7-0.8h1.1m-1.8-0.7h1.1m-1.2 2.4h1.1m-1.5-1.6h1.1m-0.5 0.4h1.1m-0.3-0.1h1.1m-0.4 1.8h1.1m-2.7-2h1.1m0.7-0.4h1.1m-0.5 0.1h1.1m-0.7-0.1h1.1m-1 0.5h1.1m-1.9 0h1.1m-0.9 0.2h1.1m-0.4-0.6h1.1m-0.9-0.4h1.1m-1.5-0.1h1.1m-1.8 0.5h1.1m-2.5-0.6h1.1m0.4-0.7h1.1m-0.5 1.8h1.1m-2-0.6h1.1m-6.7 10.7h1.1m0.2 0.9h1.1m-1.9-1.5h1.1m-0.7 3.2h1.1m-1.9-0.9h1.1m-16.3-21.3h1.1m-0.8 3h1.1m-1.8-3h1.1m-2.9 0.9h1.1m-0.8-1.1h1.1m5 1.7h1.1m2.6-0.6h1.1m-1.8 0.7h1.1m0.3-2.3h1.1m-0.6-1.8h1.1m-5.9 2.9h1.1m3.4-1.2h1.1m-2.2 1.3h1.1m-1.2 0.9h1.1m0.1-1.3h1.1m-3.8 0h1.1m0-1.6h1.1m-3 1.2h1.1m-0.3-0.3h1.1m-5.7-0.6h1.1m-0.9-0.3h1.1m-1.6-0.8h1.1m-0.8 0.2h1.1m-1 0.5h1.1m-1.8 0.1h1.1m-0.4 0.1h1.1m-1.5-1.1h1.1m-7.3 14.8h1.1m-0.3-2.3h1.1m16-2.2h1.1m-1 0.6h1.1m-0.8-0.5h1.1m-0.8-0.5h1.1m-2.3 0.4h1.1m0.9 0.3h1.1m-2.4 0.4h1.1m-2.2-0.5h1.1m-11.4 7.5h1.1m-3.1 0.5h1.1m0.3-0.1h1.1m-20.2-8.6h1.1m-1.5-1.1h1.1m-0.6-0.7h1.1m-0.8 0.3h1.1m24.2-6h1.1m-1.4 0.2h1.1m-0.2-0.6h1.1m-1.2 0h1.1m-1.6 0.3h1.1m-0.9-0.8h1.1m-1.1 1h1.1m-0.8-1.5h1.1m-2 1h1.1m-1.4 0.1h1.1m-0.3-0.7h1.1m-0.9 0.6h1.1m-2.4-1.2h1.1m0 0.8h1.1m-0.5 0.4h1.1m-2.5-2.1h1.1m-0.9 2.2h1.1m-11.3-1.8h1.1m-1.3 1.9h1.1m-1-0.9h1.1m0.1 0.2h1.1m-2.9-1.1h1.1m-1.5 0.6h1.1m1.1-0.1h1.1m-1.8 0.1h1.1m-1.8-0.8h1.1m-0.9-0.9h1.1m-1.5 0.8h1.1m-0.2 0.4h1.1m-0.7 0.2h1.1m-3.8-0.2h1.1m3.8 4.1h1.1m-0.2-0.2h1.1m-0.6 0.1h1.1m-2.6-0.8h1.1m0.1 1.6h1.1m-2-1.4h1.1m0.4 0.6h1.1m-2 0.6h1.1m-1.2-0.7h1.1m-2.4 0.5h1.1m-0.1 0.4h1.1m-0.5-1.5h1.1m-0.5 0.6h1.1m-1.2 0.6h1.1m-2-1h1.1m-0.7 0.6h1.1m-1.9-0.2h1.1m5.2-1h1.1m1.4-1.7h1.1m1.7-1.3h1.1m-5.2 2.1h1.1m-2.3-2.9h1.1m-0.5 3.3h1.1m-0.1-0.1h1.1m-1.9-1.5h1.1m1 0.3h1.1m-0.9 1.9h1.1m-1.9-1.4h1.1m0.4 19.2h1.1m5-14.9h1.1m-2.6 1.5h1.1m-3.5 2.6h1.1m-0.2-3.9h1.1m-0.9 2.2h1.1m-0.4 0.1h1.1m-3.6 0.6h1.1m0.3-3.1h1.1m-1.6 3.6h1.1m-19.5-10.1h1.1m-1.1-0.7h1.1m-1.4 0.2h1.1m-1.3-0.2h1.1m-2 0.7h1.1m1.2-0.5h1.1m-1.1 0.8h1.1m-2.7 0.3h1.1m-0.1-0.6h1.1m-0.6 0.9h1.1m22.6 15.5h1.1m-0.2 1.5h1.1m-2.4 0h1.1m-0.8 0h1.1m-3.2-6h1.1m-1 1.1h1.1m0.9-0.7h1.1m-1.6 0.4h1.1m-1.4-0.9h1.1m-0.3-0.1h1.1m-1.7 0.4h1.1m-1.1 0.2h1.1m-0.4-0.1h1.1m-1.4 0.2h1.1m-2 0.2h1.1m-1 0.1h1.1m-0.9 0.2h1.1m-0.3-0.1h1.1m-1.7-0.9h1.1m-2.1-0.4h1.1m-8.3-2.8h1.1m-2.6 1.2h1.1m-0.3 2h1.1m0.4-3.2h1.1m-1.7 2.4h1.1m-3.4-1.9h1.1m3.2-1.7h1.1m-3.2 1.3h1.1m-3.2 0.1h1.1m2.5 3.2h1.1m-3.2-0.8h1.1m-0.2-1.8h1.1m-1.1 0h1.1m-1.2 0.1h1.1m-2-2.4h1.1m0 0.5h1.1m-1.6 1.1h1.1m-1.5 0.8h1.1m-6.3-8.1h1.1m-0.3 2.1h1.1m-0.7 0.5h1.1m-2.8-1h1.1m-1-1.3h1.1m2.7 3.1h1.1m-4.5-1.2h1.1m1.6-0.1h1.1m-3.7-3.2h1.1m-2.2-0.8h1.1m-1.3 1.3h1.1m-1-1.8h1.1m-1.6 0.2h1.1m-1.5 0h1.1m-0.4-1h1.1m-1.4 1.5h1.1m-0.5-1.5h1.1m-18.1 10.3h1.1m-1.1-0.2h1.1m-0.3 2.8h1.1m-1.3-3.2h1.1m-2.5-1.1h1.1m-0.2 1.8h1.1m-0.1 1.5h1.1m-1.7-0.7h1.1m-2.7 1.2h1.1m1.8-2h1.1m-2.8-0.4h1.1m24 3.7h1.1m-1.1 0.6h1.1m0.3-0.7h1.1m-2.2 1h1.1m-1.3-1.3h1.1m-1.3 1.6h1.1m0.6-0.8h1.1m-2.6-0.8h1.1m-1.1 0.9h1.1m-1.6 0.1h1.1m-0.9-0.5h1.1m-1 0.4h1.1m-0.1-0.2h1.1m-2.7 0h1.1m-1.1 0.2h1.1m-16.9 7.2h1.1m22.1-9.8h1.1m0.7-0.2h1.1m-1.9 0.6h1.1m-2.5-1.2h1.1m1-0.6h1.1m-3.2-1h1.1m-2 2.4h1.1m-0.1 8.6h1.1m-0.7 1.1h1.1m2.6 0.3h1.1m-19.6 2.7h1.1m-2.6 1.2h1.1m-3.2-12.7h1.1m-1.1-0.5h1.1m-2.1 0.4h1.1m-1.9 0.6h1.1m0.9-1.8h1.1m-0.3 0h1.1m-2.2 0.9h1.1m-1.6 0.1h1.1m0.7-0.5h1.1m-2-0.2h1.1m-2.2 1.3h1.1m1.4-1h1.1m-2.7 0.9h1.1m-19.8 5.4h1.1m-0.3 1.5h1.1m-1.4-2h1.1m-1.7 1h1.1m-1.2-0.6h1.1m0.1-1.3h1.1m-0.1 1.7h1.1m-3 0.6h1.1m22.4 11.5h1.1m-0.4-27.2h1.1m-4-0.7h1.1m-0.6 0.7h1.1m0.6 1h1.1m0.9-2.8h1.1m-0.9 2.1h1.1m-1.7 0.3h1.1m-2.8 0.3h1.1m2.6-2.2h1.1m-4.9 0.6h1.1m-2.6 2.5h1.1m-4-2.2h1.1m-1.1 0.7h1.1m0.7-1h1.1m-1.7 0.7h1.1m-2.9-0.1h1.1m-2.2-1.6h1.1m-0.4 2h1.1m0.2 1.4h1.1m-4.1-3.4h1.1m-0.7 1.6h1.1m-5.1 1.7h1.1m-0.6-0.5h1.1m-3-1.1h1.1m-4.3-1.4h1.1m1 2.9h1.1m-0.9-0.9h1.1m1.5 1.1h1.1m-1.4-2.5h1.1m0.3 0.1h1.1m-2.5 0.8h1.1m-0.6 0.8h1.1m-2.8 0.7h1.1m-0.7 1.1h1.1m-1-2.1h1.1m-0.3-2.1h1.1m-2.6 2.3h1.1m-12.3 9.9h1.1m-0.8-0.4h1.1m-0.6 0.6h1.1m27.4 9.9h1.1m0.9-0.4h1.1m-1.3-0.5h1.1m-1.3 0.8h1.1m4.7-12.1h1.1m-1.3-0.8h1.1m-2.4 1.1h1.1m1.7-1.4h1.1m-3.9 1.2h1.1m-0.9-0.5h1.1m-0.4-0.1h1.1m-1.1 0h1.1m-1.3 0.7h1.1m-0.7-1h1.1m-2.1 0.9h1.1m1-0.1h1.1m-2.1 0h1.1m0.7-0.7h1.1m-3.8 0.4h1.1m-1.4 0.3h1.1m1 4.6h1.1m-1-0.8h1.1m1.8 0.9h1.1m-1.7 0.7h1.1m-4.6-2.8h1.1m-1.1 3.7h1.1m1.5-2.2h1.1m-2.8-0.3h1.1m1.7 0.5h1.1m-1.6-1.2h1.1m-0.7-8h1.1m0.4 0.9h1.1m-2.1 0.1h1.1m-2.4-0.3h1.1m-1-0.7h1.1m1 0.2h1.1m-0.1 0.4h1.1m-3.7 0.2h1.1m-1 0.7h1.1m-0.8-1h1.1m-1.4 0.1h1.1m-0.8-0.2h1.1m-0.5-1.2h1.1m-2.1 0.8h1.1m-15.1-2.6h1.1m-2.1 0.3h1.1m-1.8 1h1.1m-0.8-0.7h1.1m-0.2-0.1h1.1m-2.4 1.1h1.1m-0.6-0.5h1.1m-1.3 0.1h1.1m0.1 0h1.1m-11.1 1.4h1.1m0.7-1.1h1.1m-3.7 0.1h1.1m0.4-1.8h1.1m1 2.6h1.1m-1.7 0.4h1.1m-3.1-0.5h1.1m-2.3-1.5h1.1m0.6 0.4h1.1m2.3 1.6h1.1m6.5-0.1h1.1m-1.1 1.3h1.1m1.3-1.9h1.1m-0.2 2.7h1.1m-3-2.3h1.1m-2.4 1.8h1.1m0.5-3.4h1.1m-1.6-0.5h1.1m-1.2 0h1.1m-10.9 7h1.1m-0.7-1.6h1.1m-3.8 1h1.1m-0.9 0.1h1.1m2.2-0.1h1.1m-3.7-0.8h1.1m0.2 3.4h1.1m-1.9-0.8h1.1m-2.8-1.1h1.1m1.5-0.6h1.1m-1.7 1.6h1.1m4.6 12h1.1m-1 1.1h1.1m-1.6-1.1h1.1m-2-1.1h1.1m-3.6 2.2h1.1m1.6-0.7h1.1m10.5-14.2h1.1m0.1-1.6h1.1m-2.7 1.2h1.1m0.8-0.8h1.1m-2.4 0.7h1.1m-3.7-2.8h1.1m0.6 0.6h1.1m-2.2-1.2h1.1m-1.3-0.1h1.1m0-0.1h1.1m0.4 14.8h1.1m-1.9 0.5h1.1m-0.1 0h1.1m-1 0h1.1m-0.4-0.4h1.1m-2.2 0h1.1m-0.4 1h1.1m-2.5-1.2h1.1m0.6 0.8h1.1m-12.4 6.2h1.1m0.7-1.3h1.1m-1.5 0.6h1.1m-1 2.6h1.1m-4.8-0.9h1.1m2.4-0.7h1.1m-3.6 0.5h1.1m0-0.8h1.1m-1.2 0.2h1.1m0.9-0.3h1.1m-2.2 1.5h1.1m1.2-0.5h1.1m-13.2-3.6h1.1m21.5-16h1.1m-1.8 0.4h1.1m-0.6 0h1.1m-1.7 0.9h1.1m-1.5-0.4h1.1m-1.2 0.8h1.1m0.2-1.1h1.1m-0.6 1.9h1.1m-1.5-0.8h1.1m-1.1-0.3h1.1m-0.5-0.5h1.1m-2.3-1h1.1m-1.3 0.2h1.1m0.1 0h1.1m-19-5.8h1.1m-1-0.6h1.1m-0.4 0.4h1.1m-7.8 8.8h1.1m0.2-0.7h1.1m-0.9 0.1h1.1m-1.6 0.2h1.1m13.6-10.3h1.1m-2.7-0.2h1.1m-2.9 2h1.1m0.3 0.3h1.1m-1.1-2h1.1m6.7 6.5h1.1m-0.3-0.4h1.1m-1.4 0.1h1.1m5.9 2.8h1.1m-3.5-0.6h1.1m-1.9-2.3h1.1m-1.8-0.8h1.1m1.9 2.4h1.1m-3.5-1.2h1.1m-2.7-3.4h1.1m-2.3-1.4h1.1m0.5-1h1.1m-0.4 3.3h1.1m-3.4-0.7h1.1m-0.7-0.8h1.1m-0.2 0h1.1m-2.2 7.8h1.1m-0.2-0.6h1.1m-1.3 1h1.1m-3-1h1.1m0.8-0.2h1.1m-1.2-0.3h1.1m-1.5 0.6h1.1m-1.6 0.8h1.1m0.2-0.4h1.1m-2.4 0.2h1.1m-0.8-1.1h1.1m-0.9-0.1h1.1m-2.3 0.8h1.1m-0.2-1.1h1.1m-1 1h1.1m-1.7 0.2h1.1m-0.7-0.4h1.1m-0.1-0.6h1.1m-6.6 8.4h1.1m-0.5-0.9h1.1m0 0.2h1.1m-2.6 0.5h1.1m0.9-1.2h1.1m-29.6 6.8h1.1m-3.3-0.5h1.1m25.6-17.4h1.1m-0.1-2.1h1.1m-2.1 2.2h1.1m0.5-0.8h1.1m-1.8-0.7h1.1m-2 1.3h1.1m1.1-1.1h1.1m-4.1 1.4h1.1m1.2-0.6h1.1m-3.1 0.2h1.1m1.1-1.4h1.1m-3.2 0.6h1.1m-0.6 0h1.1m-9.5 4.6h1.1m0.4 0.2h1.1m-3.4 0.3h1.1m-0.7 1.4h1.1m0.6-1.2h1.1m-6 1.1h1.1m0.2 0.9h1.1m0.7-1.7h1.1m-1.3-0.7h1.1m-1.2 1.5h1.1m-0.8-2.4h1.1m-0.7 1.8h1.1m10.8-5.2h1.1m-1.3-0.5h1.1m-0.9 0.2h1.1m-0.9-1.1h1.1m-1.9 0.7h1.1m-0.9-0.7h1.1m-0.7 0.8h1.1m-2.2 1.1h1.1m-2.1-3.2h1.1m8.7 6.7h1.1m-3.1 2.1h1.1m-0.3-1h1.1m-1.7-0.5h1.1m-0.3-1h1.1m-1.5-0.2h1.1m-1.1 0.4h1.1m0.2 0.5h1.1m-2.8 0.9h1.1m0.5 0.1h1.1m-2.2-0.4h1.1m-25.3-0.6h1.1m-2.5-1.3h1.1m0.5 1h1.1m-2.9-1.1h1.1m0.8-0.1h1.1m-18.9 2h1.1m-0.3-1.7h1.1m-0.1-0.4h1.1m-1.8 0.9h1.1m-1.9-0.3h1.1m-0.7 0.5h1.1m-1.9 0.7h1.1m-0.8-1h1.1m0 0.5h1.1m-1.6-1.7h1.1m-0.4 0.8h1.1m-3 2.2h1.1m-1.1-0.7h1.1m-1.3-2.1h1.1m2.1 0.4h1.1m-3.7 0.9h1.1m-0.6 0.4h1.1m-0.3-0.6h1.1m-1.6 0.2h1.1m0.2-0.2h1.1m-2.8 1.6h1.1m-0.7-1.1h1.1m2.5 0.9h1.1m1.1-0.2h1.1m-2.8-1.8h1.1m-1 0.9h1.1m-2.4 0.7h1.1m-0.1-0.8h1.1m-1.6 1.5h1.1m-0.8-1.3h1.1m-0.4 0.3h1.1m-3.6 0h1.1m1.6 0.7h1.1m-3-0.3h1.1m-0.3 0.2h1.1m-1.9-1.4h1.1m11.9-9.5h1.1m-2.6 0.1h1.1m-3.3 2.1h1.1m2.5-0.6h1.1m-2.8-0.6h1.1m0.9 2.2h1.1m-5.2-2.8h1.1m-0.4 2.5h1.1m1.2-1.4h1.1m-1.6 1.8h1.1m-3.8-2.9h1.1m1.9 1h1.1m-2 0.2h1.1m-0.3 0.2h1.1m3.1-0.4h1.1m-1.2-0.8h1.1m-1.7-1.5h1.1m0.2 1h1.1m-1.7-0.1h1.1m-1.5-0.8h1.1m-0.5 1.5h1.1m0.1 0h1.1m-2.8-0.9h1.1m-1.7 0h1.1m0.3-0.3h1.1m-3 0h1.1m-1.2 0h1.1m0.5 0.5h1.1m-1.4 0.4h1.1m0.5 0h1.1m1.7-0.5h1.1m0.1-1h1.1m-0.1 2.7h1.1m-4-1.5h1.1m0.1 1.8h1.1m0.5-0.8h1.1m-3-0.9h1.1m0.5 1.7h1.1m-2.8-2.4h1.1m-1.5 2.2h1.1m0.6-0.4h1.1m-0.6 0h1.1m-3.7 0h1.1m-0.2-1.5h1.1m1.4 1.5h1.1m-3.6-3.2h1.1m0.8 2.4h1.1m-5.3 0.3h1.1m10 1.9h1.1m0.1 0.4h1.1m-0.9 0h1.1m-1.7-0.2h1.1m-2.3 0h1.1m-0.1-1.4h1.1m-0.9 3.5h1.1m-1.5-1.4h1.1m-0.5-1.1h1.1m-2 0.1h1.1m-4.2 4.3h1.1m-0.3 1.1h1.1m0.4-2.5h1.1m-4.1 3.4h1.1m-0.4-1.7h1.1m-0.8 0.9h1.1m-1.2-1.6h1.1m0.7 1.2h1.1m-3.5-0.1h1.1m-0.7 0.4h1.1m-1.2-0.5h1.1m-1.8-0.2h1.1m1 0.9h1.1m-0.9-2.1h1.1m-2 1.3h1.1m-2.2 0.6h1.1m-2 1.1h1.1m1.6-2.3h1.1m1.6 2.8h1.1m2 0.8h1.1m-5.7-0.1h1.1m2.3 1h1.1m-4.4-0.7h1.1m-0.7-0.6h1.1m-0.3 2.2h1.1m1-2.4h1.1m-1.2-0.3h1.1m-1.2 1.7h1.1m-2.9-1.9h1.1m-0.8 2h1.1m-2.1-0.8h1.1m-2.5 0.2h1.1m1.2-0.4h1.1m0.2-0.1h1.1m3.9 3.7h1.1m-0.3-1.9h1.1m-1.1 1.6h1.1m-0.5-0.7h1.1m-4.1 1.5h1.1m1.7-1.8h1.1m-1.6-1.1h1.1m-2.8-0.2h1.1m2 1.2h1.1m-3.3-1.2h1.1m-11.9 2.1h1.1m-1.8-0.8h1.1m-1.7 0.6h1.1m0 0.2h1.1m-2.1-0.4h1.1m1.4-0.9h1.1m-2.7 1.7h1.1m-1.6-1.9h1.1m-1.9 0.7h1.1m0.4-1.1h1.1m-9.7-1.4h1.1m-2.9 0.7h1.1m-0.8 1.5h1.1m-2.1-0.4h1.1m1.7-2.8h1.1m-3.9 1h1.1m1.5 0.5h1.1m-4.8 0.3h1.1m7.1 13.4h1.1m-2.1-0.5h1.1m0.1-0.1h1.1m-3.2 0.2h1.1m1.7-0.1h1.1m-3.2 6.5h1.1m-3.1 0h1.1m6.8-8.9h1.1m-0.1-0.6h1.1m-1.5-0.1h1.1m-15.4-4.1h1.1m-2 0.6h1.1m1.4-1.1h1.1m-1.7 0.1h1.1m-2 1.3h1.1m-1.5-1.1h1.1m6.4 18.7h1.1m-1.1 0.1h1.1m-1.9-0.9h1.1" stroke="#060e8a" stroke-width="1.1" fill="none" />
<path d="M183.7 550.5h1m-1.3 1.2h1m-4.7-1.2h1m13.7-1.3h1m-5.4-7.1h1m1.4 5.6h1m-1.4-2.2h1m1.1 2.9h1m10.3-4h1m0.2 0.2h1m-11.4 3.3h1m-3.7 3.8h1" stroke="#6a9cf0" stroke-width="1" fill="none" />
<path d="M186.9 551.9h1.1m-3.1 0.6h1.1m12.8-2.3h1.1m-6.8 6.6h1.1m-1.1 0.2h1.1m0.4-1.1h1.1m-1 1.1h1.1m-0.9 0.9h1.1m-3.3-26.7h1.1m-2.5-0.4h1.1m0.3-0.2h1.1m-1.2-0.3h1.1m-2.2 1.9h1.1m-0.4-0.9h1.1m-1.1-0.8h1.1m-1.6-0.5h1.1m1.3-0.1h1.1m-2.1 1h1.1m-2.2-0.1h1.1m-0.6-0.4h1.1m-1.9 0.1h1.1m22.5 7.6h1.1m-2.4 1.1h1.1m-0.4-0.9h1.1m0.4 0.2h1.1m-2.5 0.5h1.1m-1.8-0.5h1.1m-0.5 0.1h1.1m-0.9 0.1h1.1m-1.8-0.2h1.1m-0.4-0.1h1.1m-2-0.2h1.1m-0.6 0.1h1.1m-0.4-0.3h1.1m-1.2 0.4h1.1m-25.1-13.5h1.1m-0.3 1.1h1.1m-2.1-1h1.1m-2 0.1h1.1m0.2 0.4h1.1m0 0h1.1m-2.7 0.4h1.1m0.1-0.3h1.1m-2.1 0.5h1.1m-1.5-0.3h1.1m-0.1-0.3h1.1m-0.2-0.9h1.1m-1.4 0.2h1.1m-1.9-0.2h1.1m-2.4 0.2h1.1m0.7 0.4h1.1m-3.1-0.2h1.1m3.1-0.8h1.1m-4.9 0h1.1m-0.3-2.1h1.1m-1.1 3h1.1m0-0.5h1.1m1.1-0.6h1.1m3.6-0.3h1.1m-2.1 0h1.1m1.5-0.1h1.1m-3.1 1.3h1.1m1.8-1.2h1.1m-3.9 0.1h1.1m-0.8 1.4h1.1m-1.1-0.1h1.1m-0.2-1h1.1m-4.5 0.2h1.1m-0.3 1.3h1.1m0.3-1.4h1.1m-1.8 0h1.1m1.6-0.7h1.1m-2.4 0.3h1.1m11.8 11.9h1.1m-2.1 0h1.1m0.4-1.4h1.1m-2.5-0.2h1.1m-1.5 0.4h1.1m-0.3-0.3h1.1m-2.3 1.3h1.1m0.1-0.7h1.1m-1.4 0.6h1.1m-0.9-0.2h1.1m-1.9-0.2h1.1m-0.8-0.6h1.1m-0.2-0.6h1.1m-11 12h1.1m-0.8-0.6h1.1m-0.1 1h1.1m-1 0.7h1.1m-13.6 0.7h1.1m0.3 0.5h1.1m-0.7-1h1.1m-1-0.6h1.1m-1.2 0.8h1.1m-2.7-0.1h1.1m0.4 0.5h1.1m5.4-24h1.1m-1 0h1.1m-2.3 0.4h1.1m-0.8-0.9h1.1m0.3 1h1.1m-2-0.4h1.1m-2 0.2h1.1m-0.5-1.1h1.1m0 0.8h1.1m-1.4 0h1.1m-1 0.4h1.1m-1-0.3h1.1m-29.7 16.1h1.1m-1.5 0.7h1.1m1.2 0.2h1.1m-2.4-1.2h1.1m-1.4-0.5h1.1m-1.5 0.8h1.1m5.8 6.6h1.1m14.5-18.9h1.1m-2.3 1.3h1.1m-1.4-0.3h1.1m0.5 1.5h1.1m-1.3-1.5h1.1m1.2-0.1h1.1m-2.2-0.1h1.1m-1.7 1.3h1.1m-1-1.4h1.1m-25.3 5.2h1.1m-1.3-0.8h1.1m-1.2 0h1.1m-0.7 0.3h1.1m-2.2 0.3h1.1m-1.4-0.2h1.1m40 0.9h1.1m-1-1.9h1.1m-1-0.2h1.1m-1 0.4h1.1m-0.8-1.1h1.1m-1.6 2.2h1.1m-1.5 0.7h1.1m-2.3-2h1.1m-2.1-1.4h1.1m0.3 4h1.1m-0.7-2.6h1.1m-1 0.1h1.1m-1.5 0.3h1.1m-2.1-0.5h1.1" stroke="#1a30b0" stroke-width="1.1" fill="none" />
<path d="M182.9 551.9h1m21.6-5.1h1m-1.1-0.6h1m-1.2 0.2h1m-12.2 11.2h1m8.7-13.5h1m-19 0h1m26-0.3h1m-2.8-1.8h1m-17.1 5.6h1m-0.3 1.4h1m7.3-2.9h1m-1.3 0.1h1m-1.1-0.4h1m-10.1 1.8h1m-0.7 4.5h1m9.9-10.4h1m-1 0.1h1m-27.8 7.3h1m12.9 3.8h1m6.4-9.7h1m0.4 1.4h1m-1-0.8h1m-7.8 13.4h1" stroke="#1a34b8" stroke-width="1" fill="none" />
<path d="M200.9 531h1.1m-2 0.9h1.1m0.8 0.4h1.1m-1.3-1.2h1.1m-2.9 0.9h1.1m-0.8 0.4h1.1m-1.1-1.2h1.1m0.1-0.3h1.1m-1.6 1.8h1.1m-16.5-4.1h1.1m-1.6 0.6h1.1m0.3 0h1.1m-0.9-1.1h1.1m-3.9 1.7h1.1m2-1.3h1.1m-1.3 0.2h1.1m-0.3-0.2h1.1m-2.3 1.7h1.1m-0.3-2.3h1.1m-1 0.9h1.1m-2.1 0.4h1.1m-1.9-0.1h1.1m0.3-0.9h1.1m-1.5 0.8h1.1m-2.1-0.2h1.1m2.9 1.1h1.1m-2.6-0.7h1.1m-1.8-2.2h1.1m0.6 1.3h1.1m-2.1-0.1h1.1m2.2 1.8h1.1m-1.6-2.2h1.1m-1.3-0.3h1.1m10.3 16h1.1m1.5 1.4h1.1m-2.2-1.5h1.1m-13.9-2.3h1.1m-1.1-1.4h1.1m-1.9 1.1h1.1m0.4-0.8h1.1m-3.7 1.4h1.1m0.6-1.7h1.1m-3.3 0h1.1m20.9-7.3h1.1m-1-0.1h1.1m-0.6 0.6h1.1m-29.9-4.8h1.1m-0.5 2.1h1.1m-3.5-2.1h1.1m-1.6 0.2h1.1m-1.1 3.2h1.1m2.7-3.5h1.1m-3.1 1.3h1.1m-1.7-2.5h1.1m-2.5 1.8h1.1m20-2.9h1.1m-2.9-0.5h1.1m0.4 0.6h1.1m-1.3 1.4h1.1m-0.5-2.4h1.1m-2.8 1.2h1.1m-0.3-2h1.1m0.7 2h1.1m-2.2 0.1h1.1m0.6-1.3h1.1m-2.7 0.6h1.1m-2 0.4h1.1m-0.5-1.4h1.1m0-0.3h1.1m-1.1 1h1.1m-2.9 0.6h1.1m-2.7 24.6h1.1m0.6 1.2h1.1" stroke="#4a78e0" stroke-width="1.1" fill="none" />
<path d="M184.4 537.5h1.1m-4.7 10.6h1.1m-1.6-3.6h1.1m2.7-9.5h1.1m-4.6 2.8h1.1m0.8 0.3h1.1m1.6 10.5h1.1m-6.1 0.3h1.1m0.5 0.7h1.1m-1.2-6.9h1.1m1.3 0.8h1.1" stroke="#40a860" stroke-width="1.1" fill="none" />
<path d="M183.7 535.6h1.1m-1.8 2.8h1.1m1.3-1.2h1.1m-4.7 0.5h1.1m0.7 8.3h1.1m-1-0.8h1.1m-2.4-10.3h1.1m-1.6 2.4h1.1m-1 0h1.1m-0.2 9.8h1.1m-3.6-2.4h1.1" stroke="#90c840" stroke-width="1.1" fill="none" />
<path d="M184.2 535.6h1.1m0 2.3h1.1m-2.6-1.3h1.1m-2.8 10.2h1.1m-1.7 2.8h1.1m-2.5-5.5h1.1m-1.9 0.6h1.1m0.8 0.7h1.1m-1.6-1h1.1m3.4 0.7h1.1m-7.3-8.2h1.1m2.4 0h1.1m-0.5 1h1.1m-1.1 10.4h1.1m-1.2-1.5h1.1m0.1 0.4h1.1m-4.5-0.5h1.1m-3.6-0.6h1.1" stroke="#60b8e8" stroke-width="1.1" fill="none" />
<path d="M184.4 537.7h1.1m-6.6 8.1h1.1m3.8 4.2h1.1m-1-3.1h1.1" stroke="#40c0c0" stroke-width="1.1" fill="none" />
<path d="M185.2 535h1.1m-0.5 12.3h1.1m-6.6-3.8h1.1m-1.6 0.4h1.1m-2.4-9.9h1.1m5.3 11.5h1.1m-1.5-0.3h1.1m-4-6.6h1.1m-0.1-2.5h1.1m-5.3 1.7h1.1m2.9-1h1.1m-0.6 0h1.1m-1.9 10.2h1.1m-0.5 3.3h1.1m-2.7-1.7h1.1m-1.8-0.2h1.1m2.6-5.2h1.1m-3.2 1h1.1m0.6-1.5h1.1" stroke="#2050c0" stroke-width="1.1" fill="none" />
<path d="M181.9 545h1.1m-2.2-8h1.1m0.5-0.9h1.1m-2.7 0.2h1.1m0 0.7h1.1" stroke="#40b060" stroke-width="1.1" fill="none" />
<path d="M182.1 546.5h1.1m-1.5-1h1.1m0.6-1.3h1.1m-1.1 2.1h1.1m-3.1-0.9h1.1m-0.5 0.4h1.1" stroke="#e0d030" stroke-width="1.1" fill="none" />
<path d="M201.6 543.6h1m0.2 0.1h1m-10.9 5.7h1m1.2 0.4h1m-3.3-1h1m11.6-6.9h1m-27.8 1.5h1m-0.6 5.4h1m13.4 6.5h1" stroke="#8cd0f0" stroke-width="1" fill="none" />
<path d="M203.6 543h1m-1 2.8h1m-0.4 0h1m-6 4.1h1m2.3-5.8h1" stroke="#30c0e0" stroke-width="1" fill="none" />
<path d="M181.3 535.2h1.1" stroke="#f0a020" stroke-width="1.1" fill="none" />
<path d="M196.5 558.5h1.1m-2.2 0.1h1.1" stroke="#f0a060" stroke-width="1.1" fill="none" />
<path d="M211.4 538.3h0.9m-16.8 8.6h0.9m-6.5-25.3h0.9m9 2.9h0.9m6.8 20.2h0.9m-17.5-20.6h0.9m6.5 9.2h0.9m-9.9 17.6h0.9m-5.3-1.5h0.9m18-16.2h0.9m-11.5-4.3h0.9m-20.8 4.8h0.9m33.8 13h0.9m-19.3-15.5h0.9m8.7 2.1h0.9m3.5-5.3h0.9" stroke="#30c0e0" stroke-width="0.9" fill="none" />
<path d="M208.1 536.9h0.9m-24.1-9.3h0.9m16.9 17.8h0.9m-15-7.4h0.9m1.9-3h0.9m0.4-11.1h0.9m-22.5 10.5h0.9m1.7 2.4h0.9m8.7-9.1h0.9m13.6-3.1h0.9m-9.8 16.4h0.9m24.4-6.8h0.9m-3.9 1.9h0.9m3.7 2.5h0.9m-4.6 2h0.9m-6.9 1h0.9m-3.3-12.2h0.9m3.9 6.9h0.9m-5.2 4.8h0.9m-12.3-14.7h0.9m-15.7 13.5h0.9m-5-2.9h0.9m39 3.2h0.9m-21.5-3.9h0.9m1.9-10h0.9m-2.8 15.8h0.9m-2.4-10.2h0.9m9-4.6h0.9m-7.2-3.5h0.9m-4.9 7.7h0.9m13.4 5.3h0.9m-16.9 15.4h0.9m7.2-29h0.9m-25.4 8.7h0.9m8 18.6h0.9m26.8-17.9h0.9m-8.2-5.5h0.9m2.2 5.8h0.9m-0.3 1.1h0.9m-18 0.7h0.9m23.5 1.1h0.9m-39.2 9.3h0.9m25.4-8.8h0.9m2.2 13.5h0.9m3.9-17.2h0.9m-14.5 3.3h0.9m-10.2-10h0.9m9.7-3.4h0.9m-24.9 11.2h0.9m-1.9-0.4h0.9m17-6.3h0.9m8.9 6.8h0.9m-1.8-5h0.9m-10.3 2.7h0.9m6.9 20.4h0.9m5.7-19.1h0.9m-28.9 3.2h0.9m10.2-10.1h0.9m12.4 4.6h0.9m-3.8-4.5h0.9m-1.7 2.3h0.9m-5.2-0.7h0.9m21.5 8.7h0.9m-44.3-2.3h0.9m14.7 5.1h0.9m-19.5-4.1h0.9m28.2-12.4h0.9m-24.8 14h0.9m20.8-12.9h0.9m-10.9 18.7h0.9m13.4-8.5h0.9m9.1 2.2h0.9m-13.3-11h0.9m-3.8 0.4h0.9m-5.3 12.3h0.9m13.7-3.4h0.9m-30.2 2.9h0.9m6.4-15.7h0.9m8.1 1.2h0.9m9.8 12.9h0.9m-10.8 10h0.9m-6-12.2h0.9m22.3 4.3h0.9m-26.8-7h0.9m9.6 15h0.9m9.1-0.8h0.9m-0.7-12.4h0.9m-4.1-3.3h0.9m-5.5-5h0.9m-8.1 11.1h0.9" stroke="#1a34b8" stroke-width="0.9" fill="none" />
<path d="M191.4 556h0.9m-14.2-27.3h0.9m14.2 11.9h0.9m3.5-4.6h0.9m5.1-2.3h0.9m-18.2-6.1h0.9m14.5 5h0.9m-3 0.3h0.9m-9.5-6.8h0.9m-18.1 9.3h0.9m18.1-13.2h0.9m1.1 10.8h0.9m8.7 7.3h0.9m-23-9.5h0.9m16.5 4.5h0.9m-12.5 7.8h0.9m8.6-21.2h0.9m-11.8 3.9h0.9m-5 24.9h0.9m24-6.3h0.9m-5.8-9.8h0.9m-9.4 1h0.9m-8.3 0.6h0.9m-1.2-5.7h0.9m14.1 7.3h0.9m-9.7-2.3h0.9m11.3 0.7h0.9m-18.7 3.7h0.9m18 0.5h0.9m-8.1-6.4h0.9m1.7 0.5h0.9m-22.2 19.7h0.9m16.7-29.5h0.9m-6.7 15.9h0.9m6.9-17.9h0.9m4.4 12.8h0.9m-14.8-9.2h0.9m17.2 10.6h0.9m-9.2-7.9h0.9m-12.7-3.9h0.9m13.2 10.6h0.9m-20.2-10.4h0.9m2.8 26.1h0.9m17.5-10.8h0.9m-8.3 1.9h0.9m-9.4-20.3h0.9m-15.4 12.8h0.9m31.2 0.3h0.9m-21.4 4.2h0.9m15.7-6.3h0.9m-2-10.4h0.9m2.2 8.5h0.9m-7.6 9.5h0.9m-4.9-14.2h0.9m6 6.4h0.9m-18.2 18.9h0.9m30.6-19.2h0.9m-23.8 13.2h0.9m4.3-3.3h0.9m-9-16.5h0.9m22.9 9.6h0.9m-11.4 3.2h0.9m-18.9-7.1h0.9m3.6-5.9h0.9m-0.6 5.6h0.9m-8.4-3.9h0.9m6.5 5h0.9m12.7 7.3h0.9m-14.8-7.9h0.9m0.4-5.3h0.9m-3.4-1.3h0.9m-9.7 4.8h0.9m7.7 10.5h0.9m3-13.9h0.9m5.7 5h0.9m-14.7-7.8h0.9m16.7 2h0.9m-16.7-2.4h0.9m6.5 33h0.9m-15.9-13.5h0.9m22.2-9.6h0.9" stroke="#6a9cf0" stroke-width="0.9" fill="none" />
<path d="M170.6 534.5h0.9m33.2-10.4h0.9m-19-1.6h0.9m20.3 11.8h0.9m-6.9-5.5h0.9m3.7-1.3h0.9m-16.7 24.7h0.9m-20.5-19.9h0.9m27.7-1.9h0.9m5.3 12h0.9m2.6-11.9h0.9m-5.9 1.7h0.9m3.8 0h0.9m-18.1-2h0.9m-2.4-4.5h0.9m9.1 13.1h0.9m6.1 1.4h0.9m-20.1-10h0.9m10.4-3.1h0.9m11.4 8h0.9m-20.1-2.7h0.9m1.1-7h0.9m5.3 11.1h0.9m-16.3-13h0.9m20.2 12.7h0.9m-6.6 0h0.9m-9.2 3.5h0.9m4.7-9.4h0.9m-13.3 0.1h0.9m18 0.1h0.9m-13.5-4.5h0.9m8.1 7h0.9m-3.5 19.3h0.9m2.2-16.7h0.9m-27.3-4.1h0.9m26.1 6.4h0.9m-18.7-9.5h0.9m11.7 16.2h0.9m3-9.2h0.9m-3.1-9.5h0.9m13.8 10.3h0.9m-10.7-7h0.9m-7.6 24.7h0.9m-5.9-19.8h0.9m12.5 8.2h0.9m3 0.7h0.9m-16.8-0.5h0.9" stroke="#8cd0f0" stroke-width="0.9" fill="none" />
<path d="M185.3 536.3h1m-5.5-3h1" stroke="#2050c0" stroke-width="1" fill="none" />
<path d="M184.7 534.9h1" stroke="#40c0c0" stroke-width="1" fill="none" />
<path d="M180.3 533.9h1m3.2 12.2h1" stroke="#40a860" stroke-width="1" fill="none" />
<path d="M180.7 535.5h1" stroke="#e0d030" stroke-width="1" fill="none" />
<path d="M181.5 536.5h1" stroke="#90c840" stroke-width="1" fill="none" />
<rect x="160.4" y="512.6" width="65.5" height="54.4" rx="1.6" fill="none" stroke="#555" stroke-width="1.1"/>
<path d="M274.4 534.4h1.1m-1.5-1.4h1.1m0.1 0.5h1.1m-2.9 0.7h1.1m0.2 0.9h1.1m-2-0.9h1.1m-0.7-0.8h1.1m-1.8-0.7h1.1m-1.2 2.4h1.1m-1.5-1.6h1.1m-0.5 0.4h1.1m-0.3-0.1h1.1m-0.4 1.8h1.1m-2.7-2h1.1m0.7-0.4h1.1m-29.2 16.3h1.1m-0.6-0.1h1.1m12.4-24.3h1.1m1.4-1.7h1.1m1.7-1.3h1.1m-5.2 2.1h1.1m-2.3-2.9h1.1m-0.5 3.3h1.1m-0.1-0.1h1.1m-1.9-1.5h1.1m1 0.3h1.1m-0.9 1.9h1.1m-1.9-1.4h1.1m10.3 19h1.1m-3-1.6h1.1m2-2.1h1.1m-2 0.6h1.1m0.4 1.8h1.1m-3.8-0.7h1.1m-10.3-15.3h1.1m-1.6-0.5h1.1m-1.2 0h1.1m1.7 2.5h1.1m-0.1-2.1h1.1m-2.1 2.2h1.1m0.5-0.8h1.1m-1.8-0.7h1.1m-2 1.3h1.1m1.1-1.1h1.1m-4.1 1.4h1.1m1.2-0.6h1.1m-3.1 0.2h1.1m1.1-1.4h1.1m-3.2 0.6h1.1m-0.6 0h1.1m-10.3-1.3h1.1m-2.3 1.3h1.1m-1.4-0.3h1.1m0.5 1.5h1.1m-1.3-1.5h1.1m1.2-0.1h1.1m-2.2-0.1h1.1m-1.7 1.3h1.1m-1-1.4h1.1m-25.5 4.4h1.1m-1.2 0h1.1m-1.8 0.6h1.1m-1.4-0.2h1.1m24.4 25.5h1.1m0.1 0h1.1m-2.3 0.1h1.1" stroke="#4a78e0" stroke-width="1.1" fill="none" />
<path d="M249.2 550h1m4.2-9.7h1m-11.8 2h1m28.3-1h1m-1.3-1.2h1m-5.8 3.7h1m-1.8 0.5h1m-8.4 6.3h1m6.8-6.8h1m-1.2-0.4h1m2.4-1.4h1m-26.9 3.9h1m0.6-4.1h1m14.3 5.9h1m3.4-5.8h1" stroke="#8cd0f0" stroke-width="1" fill="none" />
<path d="M275.9 533.3h1.1m-0.7-0.1h1.1m-1 0.5h1.1m-1.9 0h1.1m-0.9 0.2h1.1m-0.4-0.6h1.1m-0.9-0.4h1.1m-1.5-0.1h1.1m-1.8 0.5h1.1m-2.5-0.6h1.1m0.4-0.7h1.1m-0.5 1.8h1.1m-2-0.6h1.1m-11.3-4.6h1.1m-2 0.9h1.1m0.8 0.4h1.1m-1.3-1.2h1.1m-2.9 0.9h1.1m-0.8 0.4h1.1m-1.1-1.2h1.1m0.1-0.3h1.1m-1.6 1.8h1.1m-8.9 19.9h1.1m2.1 0.2h1.1m8.1-6.5h1.1m-1.2 0h1.1m-0.7 0.6h1.1m-1.7-0.5h1.1m-0.3-0.7h1.1m-0.7 3.2h1.1m-0.4-1h1.1m-17.8-21.2h1.1m-0.8 3h1.1m-1.8-3h1.1m-2.9 0.9h1.1m-0.8-1.1h1.1m3.5 30.3h1.1m-0.2 0.9h1.1m-1-0.5h1.1m-0.6-1.3h1.1m-1 1.1h1.1m-1.2-28.8h1.1m2.6-0.6h1.1m-1.8 0.7h1.1m0.3-2.3h1.1m-0.6-1.8h1.1m-5.9 2.9h1.1m3.4-1.2h1.1m-2.2 1.3h1.1m-1.2 0.9h1.1m0.1-1.3h1.1m-3.8 0h1.1m0-1.6h1.1m-3 1.2h1.1m-0.3-0.3h1.1m-5.7-0.6h1.1m-0.9-0.3h1.1m-1.6-0.8h1.1m-0.8 0.2h1.1m-1 0.5h1.1m-1.8 0.1h1.1m-0.4 0.1h1.1m-1.5-1.1h1.1m-9.1 21.8h1.1m-1.1-2.2h1.1m18.6-9.3h1.1m-1 0.6h1.1m-0.8-0.5h1.1m-0.8-0.5h1.1m-2.3 0.4h1.1m0.9 0.3h1.1m-2.4 0.4h1.1m-2.2-0.5h1.1m-10.8-3.5h1.1m-2.5-0.4h1.1m0.3-0.2h1.1m-1.2-0.3h1.1m-2.2 1.9h1.1m-0.4-0.9h1.1m-1.1-0.8h1.1m-1.6-0.5h1.1m1.3-0.1h1.1m-2.1 1h1.1m-2.2-0.1h1.1m-0.6-0.4h1.1m-1.9 0.1h1.1m-0.5 11.9h1.1m-0.8-0.1h1.1m4.4-15.8h1.1m-1.4 0.2h1.1m-0.2-0.6h1.1m-1.2 0h1.1m-1.6 0.3h1.1m-0.9-0.8h1.1m-1.1 1h1.1m-0.8-1.5h1.1m-2 1h1.1m-1.4 0.1h1.1m-0.3-0.7h1.1m-0.9 0.6h1.1m-2.4-1.2h1.1m0 0.8h1.1m-0.5 0.4h1.1m-2.5-2.1h1.1m-0.9 2.2h1.1m-11.3-1.8h1.1m-1.3 1.9h1.1m-1-0.9h1.1m0.1 0.2h1.1m-2.9-1.1h1.1m-1.5 0.6h1.1m1.1-0.1h1.1m-1.8 0.1h1.1m-1.8-0.8h1.1m-0.9-0.9h1.1m-1.5 0.8h1.1m-0.2 0.4h1.1m-0.7 0.2h1.1m-3.8-0.2h1.1m28.7 13.5h1.1m-2.4 1.1h1.1m-0.4-0.9h1.1m0.4 0.2h1.1m-2.5 0.5h1.1m-1.8-0.5h1.1m-0.5 0.1h1.1m-0.9 0.1h1.1m-1.8-0.2h1.1m-0.4-0.1h1.1m-2-0.2h1.1m-0.6 0.1h1.1m-0.4-0.3h1.1m-1.2 0.4h1.1m-25.1-13.5h1.1m-0.3 1.1h1.1m-2.1-1h1.1m-2 0.1h1.1m0.2 0.4h1.1m0 0h1.1m-2.7 0.4h1.1m0.1-0.3h1.1m-2.1 0.5h1.1m-1.5-0.3h1.1m-0.1-0.3h1.1m-0.2-0.9h1.1m-1.4 0.2h1.1m-1.9-0.2h1.1m-2.4 0.2h1.1m0.7 0.4h1.1m-3.1-0.2h1.1m-9.7 20.5h1.1m-0.9 4.1h1.1m-2.3-1.4h1.1m1.2-3.8h1.1m0.1 5.6h1.1m-1.8-1.2h1.1m17.4-5.2h1.1m4.1-13.1h1.1m-2.6 1.5h1.1m-3.5 2.6h1.1m-0.2-3.9h1.1m-0.9 2.2h1.1m-0.4 0.1h1.1m-3.6 0.6h1.1m0.3-3.1h1.1m-1.6 3.6h1.1m-18.7-5.5h1.1m-1.6 0.6h1.1m0.3 0h1.1m-0.9-1.1h1.1m-3.9 1.7h1.1m2-1.3h1.1m-1.3 0.2h1.1m-0.3-0.2h1.1m-2.3 1.7h1.1m-0.3-2.3h1.1m-1 0.9h1.1m-2.1 0.4h1.1m-1.9-0.1h1.1m0.3-0.9h1.1m-1.5 0.8h1.1m-2.1-0.2h1.1m-6.7 15.1h1.1m-0.3 0.3h1.1m12.4-20h1.1m-4.9 0h1.1m-0.3-2.1h1.1m-1.1 3h1.1m0-0.5h1.1m1.1-0.6h1.1m-10.8 0h1.1m-1.1-0.7h1.1m-1.4 0.2h1.1m-1.3-0.2h1.1m-2 0.7h1.1m1.2-0.5h1.1m-1.1 0.8h1.1m-2.7 0.3h1.1m-0.1-0.6h1.1m-0.6 0.9h1.1m2.8 5h1.1m-2.6-0.7h1.1m-1.8-2.2h1.1m0.6 1.3h1.1m-2.1-0.1h1.1m2.2 1.8h1.1m-1.6-2.2h1.1m-1.3-0.3h1.1m17.6 15.4h1.1m-1.1-2.5h1.1m-3.3-4.5h1.1m-1 1.1h1.1m0.9-0.7h1.1m-1.6 0.4h1.1m-1.4-0.9h1.1m-0.3-0.1h1.1m-1.7 0.4h1.1m-1.1 0.2h1.1m-0.4-0.1h1.1m-1.4 0.2h1.1m-2 0.2h1.1m-1 0.1h1.1m-0.9 0.2h1.1m-0.3-0.1h1.1m-1.7-0.9h1.1m-2.1-0.4h1.1m-8.3-2.8h1.1m-2.6 1.2h1.1m-0.3 2h1.1m0.4-3.2h1.1m-1.7 2.4h1.1m-3.4-1.9h1.1m3.2-1.7h1.1m-3.2 1.3h1.1m-3.2 0.1h1.1m2.5 3.2h1.1m-3.2-0.8h1.1m-0.2-1.8h1.1m-1.1 0h1.1m-1.2 0.1h1.1m-2-2.4h1.1m0 0.5h1.1m-1.6 1.1h1.1m-1.5 0.8h1.1m-6.3-8.1h1.1m-0.3 2.1h1.1m-0.7 0.5h1.1m-2.8-1h1.1m-1-1.3h1.1m2.7 3.1h1.1m-4.5-1.2h1.1m1.6-0.1h1.1m-3.7-3.2h1.1m-2.2-0.8h1.1m-1.3 1.3h1.1m-1-1.8h1.1m-1.6 0.2h1.1m-1.5 0h1.1m-0.4-1h1.1m-1.4 1.5h1.1m-0.5-1.5h1.1m-15.7 12.3h1.1m-2.7 0.6h1.1m-0.1-1.2h1.1m-2.3-2h1.1m0.2 1h1.1m-3.8-2.1h1.1m0.8 3.3h1.1m-1.7-0.7h1.1m0.3 1h1.1m-1.2-1.8h1.1m22.3 3.3h1.1m-1.1 0.6h1.1m0.3-0.7h1.1m-2.2 1h1.1m-1.3-1.3h1.1m-1.3 1.6h1.1m0.6-0.8h1.1m-2.6-0.8h1.1m-1.1 0.9h1.1m-1.6 0.1h1.1m-0.9-0.5h1.1m-1 0.4h1.1m-0.1-0.2h1.1m-2.7 0h1.1m-1.1 0.2h1.1m0.2 8.2h1.1m0.9 0.2h1.1m-2.2-1.5h1.1m-19.4 1.7h1.1m-0.8-1.4h1.1m-1.3 1.4h1.1m26.1-9.4h1.1m-2.1 0h1.1m0.4-1.4h1.1m-2.5-0.2h1.1m-1.5 0.4h1.1m-0.3-0.3h1.1m-2.3 1.3h1.1m0.1-0.7h1.1m-1.4 0.6h1.1m-0.9-0.2h1.1m-1.9-0.2h1.1m-0.8-0.6h1.1m-0.2-0.6h1.1m-19.4 12.8h1.1m-0.2 2.2h1.1m-3.5-1h1.1m2 1.2h1.1m-6.3-13.9h1.1m-1.1-0.5h1.1m-2.1 0.4h1.1m-1.9 0.6h1.1m0.9-1.8h1.1m-0.3 0h1.1m-2.2 0.9h1.1m-1.6 0.1h1.1m0.7-0.5h1.1m-2-0.2h1.1m-2.2 1.3h1.1m1.4-1h1.1m-2.7 0.9h1.1m-0.9 5.8h1.1m-1.1-1.4h1.1m-1.9 1.1h1.1m0.4-0.8h1.1m-3.7 1.4h1.1m0.6-1.7h1.1m-3.3 0h1.1m0.8 2h1.1m-19.5-1h1.1m1.6 0.8h1.1m-3.9 0.3h1.1m-0.2 0.4h1.1m-1.4-2h1.1m-1.8 0.4h1.1m0.1-1.3h1.1m-0.1 1.7h1.1m-2.5 0.8h1.1m-0.3-0.5h1.1m29.6 4.8h1.1m-2.6-0.3h1.1m-0.6 0.6h1.1m-0.5-0.6h1.1m-0.9 0.1h1.1m0 1.2h1.1m-2.2-0.9h1.1m-0.5-0.4h1.1m-1.6 1.1h1.1m-11.9 0.6h1.1m-1-0.4h1.1m0.4-0.6h1.1m-1.4 0.8h1.1m-4.1-1.1h1.1m-0.3-0.6h1.1m2.9-19.7h1.1m-4-0.7h1.1m-0.6 0.7h1.1m0.6 1h1.1m0.9-2.8h1.1m-0.9 2.1h1.1m-1.7 0.3h1.1m-2.8 0.3h1.1m2.6-2.2h1.1m-4.9 0.6h1.1m-2.6 2.5h1.1m-4-2.2h1.1m-1.1 0.7h1.1m0.7-1h1.1m-1.7 0.7h1.1m-2.9-0.1h1.1m-2.2-1.6h1.1m-0.4 2h1.1m0.2 1.4h1.1m-4.1-3.4h1.1m-0.7 1.6h1.1m9.9-2.1h1.1m-1 0h1.1m-2.3 0.4h1.1m-0.8-0.9h1.1m0.3 1h1.1m-2-0.4h1.1m-2 0.2h1.1m-0.5-1.1h1.1m0 0.8h1.1m-1.4 0h1.1m-1 0.4h1.1m-1-0.3h1.1m-18.5 11.1h1.1m-4.5 2h1.1m4-1.9h1.1m-2.5 2.3h1.1m-2.2 1.3h1.1m2-1.5h1.1m-3.2-1h1.1m-1.8 3h1.1m-2.2-2.1h1.1m-0.9-0.1h1.1m-0.8-1.7h1.1m-4 2.6h1.1m2.9-1.7h1.1m-2.9 1.7h1.1m0.9-0.6h1.1m-3.1 1.5h1.1m27.4 0.4h1.1m-1-0.8h1.1m1.8 0.9h1.1m-1.7 0.7h1.1m-4.6-2.8h1.1m-1.1 3.7h1.1m1.5-2.2h1.1m-2.8-0.3h1.1m1.7 0.5h1.1m-1.6-1.2h1.1m-0.7-8h1.1m0.4 0.9h1.1m-2.1 0.1h1.1m-2.4-0.3h1.1m-1-0.7h1.1m1 0.2h1.1m-0.1 0.4h1.1m-3.7 0.2h1.1m-1 0.7h1.1m-0.8-1h1.1m-1.4 0.1h1.1m-0.8-0.2h1.1m-0.5-1.2h1.1m-2.1 0.8h1.1m-15.1-2.6h1.1m-2.1 0.3h1.1m-1.8 1h1.1m-0.8-0.7h1.1m-0.2-0.1h1.1m-2.4 1.1h1.1m-0.6-0.5h1.1m-1.3 0.1h1.1m0.1 0h1.1m-11.1 1.4h1.1m0.7-1.1h1.1m-3.7 0.1h1.1m0.4-1.8h1.1m1 2.6h1.1m-1.7 0.4h1.1m-3.1-0.5h1.1m-2.3-1.5h1.1m0.6 0.4h1.1m2.3 1.6h1.1m6.5-0.1h1.1m-1.1 1.3h1.1m1.3-1.9h1.1m-0.2 2.7h1.1m-3-2.3h1.1m-2.4 1.8h1.1m-18.1 6.5h1.1m-0.5 0.3h1.1m-2.8-1.8h1.1m0.6 0.6h1.1m-1.7 0.4h1.1m-0.9-0.2h1.1m-0.8-0.3h1.1m-0.6 0h1.1m-2.4 1.1h1.1m-0.8-0.9h1.1m0.7 0.4h1.1m-1.7 0.5h1.1m-1.8 0.1h1.1m-1.8-1.1h1.1m-1.1 1.2h1.1m-0.8-0.8h1.1m-0.9 0.9h1.1m7.9 9.2h1.1m0.4-0.7h1.1m1 0.8h1.1m-1.8 0.4h1.1m-4.1-1.1h1.1m0.6 2h1.1m11.8-15.1h1.1m0.1-1.6h1.1m-2.7 1.2h1.1m0.8-0.8h1.1m-2.4 0.7h1.1m3.2-0.8h1.1m-1-0.1h1.1m-0.6 0.6h1.1m-5.1 10.6h1.1m-1.3 1.1h1.1m-1.2 0.3h1.1m-1.7-0.4h1.1m0.3 0h1.1m-11 8.7h1.1m-3.8-1.1h1.1m0-0.8h1.1m-1.2 0.2h1.1m-0.2 1.2h1.1m-3.1-0.6h1.1m3.2 0.1h1.1m-3.6 0.2h1.1m-10.7-3.8h1.1m-16.7-8.7h1.1m-1.5 0.7h1.1m1.2 0.2h1.1m-2.4-1.2h1.1m-1.4-0.5h1.1m-1.5 0.8h1.1m37.2-7.3h1.1m-1.8 0.4h1.1m-0.6 0h1.1m-1.7 0.9h1.1m-1.5-0.4h1.1m-1.2 0.8h1.1m0.2-1.1h1.1m-0.6 1.9h1.1m-1.5-0.8h1.1m-1.1-0.3h1.1m-0.5-0.5h1.1m-2.3-1h1.1m-1.3 0.2h1.1m0.1 0h1.1m-19-5.8h1.1m-1-0.6h1.1m-0.4 0.4h1.1m-7.8 8.8h1.1m0.2-0.7h1.1m-0.9 0.1h1.1m-1.6 0.2h1.1m13.6-10.3h1.1m-2.7-0.2h1.1m-2.9 2h1.1m0.3 0.3h1.1m-1.1-2h1.1m6.7 6.5h1.1m-0.3-0.4h1.1m-1.4 0.1h1.1m5.9 2.8h1.1m-3.5-0.6h1.1m-1.9-2.3h1.1m-1.8-0.8h1.1m1.9 2.4h1.1m-3.5-1.2h1.1m-3.7 3.8h1.1m-0.2-0.6h1.1m-1.3 1h1.1m-3-1h1.1m0.8-0.2h1.1m-1.2-0.3h1.1m-1.5 0.6h1.1m-1.6 0.8h1.1m0.2-0.4h1.1m-2.4 0.2h1.1m-0.8-1.1h1.1m-0.9-0.1h1.1m-2.3 0.8h1.1m-0.2-1.1h1.1m-1 1h1.1m-1.7 0.2h1.1m-0.7-0.4h1.1m-0.1-0.6h1.1m-16.7-0.5h1.1m0.4 0.2h1.1m-3.4 0.3h1.1m-0.7 1.4h1.1m0.6-1.2h1.1m-6 1.1h1.1m0.2 0.9h1.1m0.7-1.7h1.1m-1.3-0.7h1.1m-1.2 1.5h1.1m-0.8-2.4h1.1m-0.7 1.8h1.1m10.8-5.2h1.1m-1.3-0.5h1.1m-0.9 0.2h1.1m-0.9-1.1h1.1m-1.9 0.7h1.1m-0.9-0.7h1.1m-0.7 0.8h1.1m-2.2 1.1h1.1m-2.1-3.2h1.1m8.7 6.7h1.1m-3.1 2.1h1.1m-0.3-1h1.1m-1.7-0.5h1.1m-0.3-1h1.1m-1.5-0.2h1.1m-1.1 0.4h1.1m0.2 0.5h1.1m-2.8 0.9h1.1m0.5 0.1h1.1m-2.2-0.4h1.1m-25.3-0.6h1.1m-2.5-1.3h1.1m0.5 1h1.1m-2.9-1.1h1.1m0.8-0.1h1.1m-12.3 2h1.1m8.8-10.8h1.1m-2.6 0.1h1.1m-3.3 2.1h1.1m2.5-0.6h1.1m-2.8-0.6h1.1m0.9 2.2h1.1m-5.2-2.8h1.1m-0.4 2.5h1.1m1.2-1.4h1.1m-1.6 1.8h1.1m-3.8-2.9h1.1m1.9 1h1.1m-2 0.2h1.1m-0.3 0.2h1.1m7.3-1.9h1.1m0.1-1h1.1m-0.1 2.7h1.1m-4-1.5h1.1m0.1 1.8h1.1m0.5-0.8h1.1m-3-0.9h1.1m0.5 1.7h1.1m-2.8-2.4h1.1m-1.5 2.2h1.1m0.6-0.4h1.1m-0.6 0h1.1m-3.7 0h1.1m-0.2-1.5h1.1m1.4 1.5h1.1m-3.6-3.2h1.1m0.8 2.4h1.1m-5.3 0.3h1.1m7 1.4h1.1m-2.9-0.5h1.1m0.4 0.6h1.1m-1.3 1.4h1.1m-0.5-2.4h1.1m-2.8 1.2h1.1m-0.3-2h1.1m0.7 2h1.1m-2.2 0.1h1.1m0.6-1.3h1.1m-2.7 0.6h1.1m-2 0.4h1.1m-0.5-1.4h1.1m0-0.3h1.1m-1.1 1h1.1m-2.9 0.6h1.1m2.9 0.5h1.1m0.1 0.4h1.1m-0.9 0h1.1m-1.7-0.2h1.1m-2.3 0h1.1m-0.1-1.4h1.1m-0.9 3.5h1.1m-1.5-1.4h1.1m-0.5-1.1h1.1m-2 0.1h1.1m-4.2 4.3h1.1m-0.3 1.1h1.1m0.4-2.5h1.1m-4.1 3.4h1.1m-0.4-1.7h1.1m-0.8 0.9h1.1m-1.2-1.6h1.1m0.7 1.2h1.1m-3.5-0.1h1.1m-0.7 0.4h1.1m-1.2-0.5h1.1m-1.8-0.2h1.1m1 0.9h1.1m-0.9-2.1h1.1m-2 1.3h1.1m-2.2 0.6h1.1m-2 1.1h1.1m1.6-2.3h1.1m1.6 2.8h1.1m2 0.8h1.1m-5.7-0.1h1.1m2.3 1h1.1m-4.4-0.7h1.1m-0.7-0.6h1.1m-0.3 2.2h1.1m1-2.4h1.1m-1.2-0.3h1.1m-1.2 1.7h1.1m-2.9-1.9h1.1m-0.8 2h1.1m-2.1-0.8h1.1m-2.5 0.2h1.1m1.2-0.4h1.1m0.2-0.1h1.1m2.7 0.3h1.1m-1-1.9h1.1m-1-0.2h1.1m-1 0.4h1.1m-0.8-1.1h1.1m-1.6 2.2h1.1m-1.5 0.7h1.1m-2.3-2h1.1m-2.1-1.4h1.1m0.3 4h1.1m-0.7-2.6h1.1m-1 0.1h1.1m-1.5 0.3h1.1m-2.1-0.5h1.1m2.1 5.4h1.1m-0.3-1.9h1.1m-1.1 1.6h1.1m-0.5-0.7h1.1m-4.1 1.5h1.1m1.7-1.8h1.1m-1.6-1.1h1.1m-2.8-0.2h1.1m2 1.2h1.1m-3.3-1.2h1.1m-11.9 2.1h1.1m-1.8-0.8h1.1m-1.7 0.6h1.1m0 0.2h1.1m-2.1-0.4h1.1m1.4-0.9h1.1m-2.7 1.7h1.1m-1.6-1.9h1.1m-1.9 0.7h1.1m0.4-1.1h1.1m-9.7-1.4h1.1m-2.9 0.7h1.1m-0.8 1.5h1.1m-2.1-0.4h1.1m1.7-2.8h1.1m-3.9 1h1.1m1.5 0.5h1.1m-4.8 0.3h1.1m7.3 13.6h1.1m-1.3-0.2h1.1m-2.5-1.3h1.1m-1.6 0.9h1.1m-0.4-2.7h1.1m-2.1 3.3h1.1m5.1 3.7h1.1m-2.3 0.5h1.1m-0.7-2.3h1.1m-4.5 3.1h1.1m-3.4-1.3h1.1m-2 1.3h1.1m-0.9 0.8h1.1m-0.5 1.5h1.1m6.8-11.1h1.1m-0.1-0.4h1.1m-2 0.9h1.1m-15.5-4.6h1.1m-2 0.6h1.1m1.4-1.1h1.1m-1.7 0.1h1.1m-2 1.3h1.1m-1.5-1.1h1.1" stroke="#060e8a" stroke-width="1.1" fill="none" />
<path d="M269.8 544.4h1m-25.3-1.5h1m-2-0.5h1m22.5-0.7h1m6.1-1.4h1m-14.5 5.7h1m-2.6 0.4h1m-25.1-7.6h1m22.5 8.6h1m1.6 0.1h1m-5 2.4h1m-10.5-5.2h1m-3.8-1.7h1m-1.7-0.5h1m15.2 2.3h1m2.1-4h1" stroke="#6a9cf0" stroke-width="1" fill="none" />
<path d="M271.9 544.8h1m-13.7 10.7h1m-12.3-12.1h1m-2.9-0.4h1m19.2-1.9h1m0.7-0.5h1m-19.7 2.4h1m8.5 3.8h1m-2.4-1.9h1m-1.5-0.6h1m-0.6 1h1m0.2 0.7h1m11.1-3.9h1m0 0.5h1m-2.5-1h1m-9.7 7.3h1m-0.7-0.7h1m-13.1-2.1h1m-3.1-0.3h1m-5.9-0.5h1m1-4.7h1m0.5-0.4h1m17.3 7.2h1m-2 0.7h1m0.7-5.7h1m-7.1 12.4h1" stroke="#1a34b8" stroke-width="1" fill="none" />
<path d="M248.7 535.1h1.1m-1.3-2h1.1m0.1 3.5h1.1m-2.8-3.4h1.1m-0.6 0h1.1m-1.5 1.8h1.1m-1.9 1h1.1m0.3-0.7h1.1m-0.2 0.2h1.1m-0.2-1.2h1.1m-1.9 0.5h1.1m-2.7-0.6h1.1m-0.6-0.3h1.1m-3.6 1.4h1.1m1.6-0.9h1.1m-0.4-1.8h1.1m4.1-6.3h1.1m-0.2-0.2h1.1m-0.6 0.1h1.1m-2.6-0.8h1.1m0.1 1.6h1.1m-2-1.4h1.1m0.4 0.6h1.1m-2 0.6h1.1m-1.2-0.7h1.1m-2.4 0.5h1.1m-0.1 0.4h1.1m-0.5-1.5h1.1m-0.5 0.6h1.1m-1.2 0.6h1.1m-2-1h1.1m-0.7 0.6h1.1m-1.9-0.2h1.1m7.4-4.8h1.1m-2.1 0h1.1m1.5-0.1h1.1m-3.1 1.3h1.1m1.8-1.2h1.1m-3.9 0.1h1.1m-0.8 1.4h1.1m-1.1-0.1h1.1m-0.2-1h1.1m-4.5 0.2h1.1m-0.3 1.3h1.1m0.3-1.4h1.1m-1.8 0h1.1m1.6-0.7h1.1m-2.4 0.3h1.1m8 10.1h1.1m0.7-0.2h1.1m-1.9 0.6h1.1m-2.5-1.2h1.1m1-0.6h1.1m-3.2-1h1.1m-2 2.4h1.1m-10.5 18.1h1.1m-14.6-24.5h1.1m-0.6-0.5h1.1m-3-1.1h1.1m-4.3-1.4h1.1m1 2.9h1.1m-0.9-0.9h1.1m1.5 1.1h1.1m-1.4-2.5h1.1m0.3 0.1h1.1m-2.5 0.8h1.1m-0.6 0.8h1.1m-2.8 0.7h1.1m-0.7 1.1h1.1m-1-2.1h1.1m-0.3-2.1h1.1m-2.6 2.3h1.1m17 20h1.1m0.5-0.1h1.1m4.7-12.1h1.1m-1.3-0.8h1.1m-2.4 1.1h1.1m1.7-1.4h1.1m-3.9 1.2h1.1m-0.9-0.5h1.1m-0.4-0.1h1.1m-1.1 0h1.1m-1.3 0.7h1.1m-0.7-1h1.1m-2.1 0.9h1.1m1-0.1h1.1m-2.1 0h1.1m0.7-0.7h1.1m-3.8 0.4h1.1m-1.4 0.3h1.1m-18-0.1h1.1m-0.7-1.6h1.1m-3.8 1h1.1m-0.9 0.1h1.1m2.2-0.1h1.1m-3.7-0.8h1.1m0.2 3.4h1.1m-1.9-0.8h1.1m-2.8-1.1h1.1m-2.8 1.3h1.1m3.2-1.9h1.1m-1.7 1.6h1.1m12.7-5.1h1.1m0.6 0.6h1.1m-2.2-1.2h1.1m-1.3-0.1h1.1m0-0.1h1.1m-23.9-1.5h1.1m-0.5 2.1h1.1m-3.5-2.1h1.1m-1.6 0.2h1.1m-1.1 3.2h1.1m2.7-3.5h1.1m-3.1 1.3h1.1m-1.7-2.5h1.1m-2.5 1.8h1.1m29.6-0.6h1.1m-2.3-1.4h1.1m0.5-1h1.1m-0.4 3.3h1.1m-3.4-0.7h1.1m-0.7-0.8h1.1m-0.2 0h1.1m-31.8 21h1.1m23.8-6h1.1m0.5-0.4h1.1m-1-0.3h1.1m-1.9 0.2h1.1m0.2-0.9h1.1m-29.1 8.1h1.1m0.3-5.7h1.1m-5.2 3.9h1.1m1 0.4h1.1m-0.6-4.2h1.1m1.2 2.7h1.1m-1.2 0.5h1.1m-2.9 2.2h1.1m4-5.7h1.1m-2.1 2.3h1.1m-3.8-0.8h1.1m1.2 0.1h1.1m-4.5 0.5h1.1m3.7-1.8h1.1m-3 2.4h1.1m0.4-3.2h1.1m-14.5-10.7h1.1m19-7.1h1.1m-1.2-0.8h1.1m-1.7-1.5h1.1m0.2 1h1.1m-1.7-0.1h1.1m-1.5-0.8h1.1m-0.5 1.5h1.1m0.1 0h1.1m-2.8-0.9h1.1m-1.7 0h1.1m0.3-0.3h1.1m-3 0h1.1m-1.2 0h1.1m0.5 0.5h1.1m-1.4 0.4h1.1m0.5 0h1.1" stroke="#1a30b0" stroke-width="1.1" fill="none" />
<path d="M256.4 539.7h1m-7.4 2h1m8.2 9.4h1m-4.5-6.4h1m-1 1.4h1m4.8 3.1h1m-18.5-6.8h1" stroke="#30c0e0" stroke-width="1" fill="none" />
<path d="M236.7 531.6h1.1m-0.7-1.5h1.1m2.9 0.2h1.1m-2.3 2h1.1m-4.7-1.6h1.1m-0.7-0.5h1.1m1.9 0.9h1.1m-2.1 0.7h1.1m-5.5-0.7h1.1" stroke="#801008" stroke-width="1.1" fill="none" />
<path d="M236.3 530.5h1.1m3.6-0.5h1.1m-6.9 1.9h1.1m-0.4-1h1.1m-1.9 0.7h1.1m0.3-0.5h1.1m-1.6-1.7h1.1m-2.3 3h1.1m-1.1-0.7h1.1m1.9-1.7h1.1m-3.7 0.9h1.1m0.2-0.2h1.1m-1.6 0.5h1.1m2.5 0.9h1.1m-0.6-2h1.1m-2.3 1.6h1.1m-0.1-0.8h1.1m-1.5 1.1h1.1m-1.9-1.4h1.1m-5.4 0h1.1" stroke="#b01a10" stroke-width="1.1" fill="none" />
<path d="M236.8 529.8h1.1m3.1 0.4h1.1m-6 4h1.1m-0.8-0.4h1.1m-0.6 0.6h1.1m-2-4.2h1.1m-0.1-0.4h1.1m-2.6 0.6h1.1m-0.6 0.5h1.1m0.2-0.2h1.1m1.8 0.3h1.1m-1.9 1.4h1.1m-0.1-1h1.1m-3.6 0h1.1" stroke="#d83a10" stroke-width="1.1" fill="none" />
<path d="M241.1 529.9h1.1m-6.8 0.7h1.1m-0.8 0.7h1.1m-1.2 1h1.1m3.9-0.2h1.1" stroke="#f08a20" stroke-width="1.1" fill="none" />
<path d="M275.7 535.9h0.9m-20.9 17.7h0.9m-14.2-27.3h0.9m25.7-4.6h0.9m-12.4 16.5h0.9m-0.2 5.2h0.9m8.8-12.1h0.9m-0.8-1.5h0.9m-18.3-4.6h0.9m15.5 17.8h0.9m4.2-11.1h0.9m-7-1.7h0.9m14.5 2.7h0.9m-25.3-11.4h0.9m4.2 0.7h0.9m-0.3 7.5h0.9m-8.7 20.1h0.9m22.7-18h0.9m-15.5-3.8h0.9m-18.2 0.4h0.9m24.3 13.9h0.9m3.7-4.1h0.9m-3.7-10.1h0.9m-19.3-6.4h0.9m7.9 11.2h0.9m-16.7-8.8h0.9m13.5 6.8h0.9m5 7.8h0.9m-12.3-14.7h0.9m12.9 16.6h0.9m-4.9-8.4h0.9m-11.7-4.4h0.9m21.1 10h0.9m-22.1-4.7h0.9m-0.8 22.2h0.9m-11.9-21.8h0.9m16.1-1.9h0.9m-7.4-6.1h0.9m2.4 21.6h0.9m-0.4-23.2h0.9m-16.6 7.5h0.9m23.7 1.7h0.9m-14.8-9.2h0.9m8.9 2.7h0.9m-9.5 2.5h0.9m13.4 5.3h0.9m-8.8-13.6h0.9m3.6 12.5h0.9m1.9 4.9h0.9m-14.4-13h0.9m17.4 5h0.9m-21.6-10.4h0.9m-5.6 1.3h0.9m17.2 3.6h0.9m-20.4 1.1h0.9m30.8 9.8h0.9m-11 11.8h0.9m-9.7-13.9h0.9m3.1 0.3h0.9m-3.6-13.7h0.9m-14.3 29.4h0.9m5.4-24.9h0.9m0.2 3.7h0.9m8 2.3h0.9m-19.6 4.1h0.9m4.7 2h0.9m13.3-1.2h0.9m2.6-4.6h0.9m-9.6 11.3h0.9m0.3-19.5h0.9m6.4 9.3h0.9m-7.7-8.5h0.9m-14.1 4.9h0.9m2.6-5.4h0.9m13.9 2.6h0.9m-5.4 3.8h0.9m2.9-5.8h0.9m-10.7 16.5h0.9m-6.9-18.9h0.9m14.8 5.7h0.9m-24.2 13.8h0.9m10.6-7.7h0.9" stroke="#6a9cf0" stroke-width="0.9" fill="none" />
<path d="M275 538.5h0.9m-13.7-15.5h0.9m-3.3 21.5h0.9m11.7-10h0.9m-19.1-0.3h0.9m6.8-0.6h0.9m-7.1-1h0.9m-1.3-8.9h0.9m-3 14.9h0.9m17.3-10h0.9m3.2 5.1h0.9m-15.8-8.9h0.9m-2.4 5.8h0.9m4.1-8.5h0.9m7.8 11.8h0.9m-22.7-0.1h0.9m1.7 14.7h0.9m9.7-1.1h0.9m-20-16.6h0.9m3.2 16.2h0.9m21.5-9.2h0.9m-16.4 0.4h0.9m1.4 1.5h0.9m-2.4-10.2h0.9m9-4.6h0.9m-6.5-1.7h0.9m-15.1 11h0.9m28.1-1.5h0.9m-7.3 8.5h0.9m-13.7-11.2h0.9m-2.9 19.8h0.9m15.4-10h0.9m-10.9-8.3h0.9m-10.2 17.5h0.9m-5.4-0.9h0.9m14.6-8h0.9m7.1-9.6h0.9m-0.3 1.1h0.9m-0.4 1.3h0.9m-2.1 0.9h0.9m-20.2 3.3h0.9m-3.5 6.6h0.9m-9.3-1h0.9m26.7-11.9h0.9m-2-10.4h0.9m-7.8 0.5h0.9m9.1 8h0.9m-7.6 9.5h0.9m-12.5-14.9h0.9m-8.1 1.9h0.9m3.5 6.5h0.9m22.5 12.4h0.9m-16.5-7h0.9m7.4-5.9h0.9m14.5-1.1h0.9m-23.8 13.2h0.9m4.3-3.3h0.9m-1.3-12.3h0.9m5.9 2.5h0.9m-2.1 6.1h0.9m0-8.4h0.9m4 0.9h0.9m-20.2-5.5h0.9m6.5 2.4h0.9m-8 3.2h0.9m-22.1 3.5h0.9m20.2-2.4h0.9m7.1-10h0.9m-13.1 19.8h0.9m-2.8-14h0.9m4.9 3.6h0.9m4.2-6.5h0.9m3.2 7.8h0.9m0.6 2.1h0.9m-10.9 2.4h0.9m0.7-15h0.9m-5.2 10.7h0.9m2.4-6.8h0.9m19 11.1h0.9m-7.7-8.6h0.9m-25.3 1h0.9m8.4 10.3h0.9m-1.6 0.2h0.9m-4.2-16.7h0.9m19.2 0.8h0.9m-0.5 20.2h0.9m-12.2 11.6h0.9m10.6-24h0.9m-8.7-8.3h0.9" stroke="#1a34b8" stroke-width="0.9" fill="none" />
<path d="M254.2 519.2h0.9m11 7.2h0.9m-19.4-1.1h0.9m31.6 10.9h0.9m-10.5-12.7h0.9m-1.3 16.5h0.9m-0.6-0.8h0.9m-3.3-12.2h0.9m-0.9 9.3h0.9m-0.3-6.5h0.9m3.8 0h0.9m-2.4 12.2h0.9m-8.5-10.1h0.9m-14.4-3.8h0.9m3-4.8h0.9m-4.2 14.2h0.9m18 0.5h0.9m-5.5-5.9h0.9m-22.2 19.7h0.9m-0.2-18.7h0.9m22.2-2.3h0.9m-15.7-8.1h0.9m-0.6 15.4h0.9m-1.9-17.3h0.9m-7.7 13.3h0.9m32-0.7h0.9m-15.5-7h0.9m-10.4-2.7h0.9m-5.6 4.3h0.9m11.8-4.4h0.9m-9.6 5.2h0.9m2.7-3.6h0.9m21.5 8.7h0.9m-15.1-0.7h0.9m-0.4 15.2h0.9m-26.8-13.5h0.9m16.2 8.4h0.9m19.2-9.5h0.9m-10.7-7h0.9m11.3 2.6h0.9m-11.4 10.5h0.9m3 0.7h0.9m-17.4-16.2h0.9m9.2 6.7h0.9" stroke="#8cd0f0" stroke-width="0.9" fill="none" />
<path d="M234.9 532.1h1m-0.5 0h1m1.6 2.4h1m-0.6-5h1m-1.8 1.5h1m-0.3 0.4h1m1.8 2.2h1" stroke="#b01a10" stroke-width="1" fill="none" />
<path d="M263.9 530.5h0.9m-7.7-10.7h0.9m3.9-0.3h0.9m-13.8 13h0.9m8.5 0.7h0.9m6.4 2.2h0.9m-7.9 8.5h0.9m5.4-9.8h0.9m-11.6-1.8h0.9m1.8 11.8h0.9m16.7-13.9h0.9m-3.5 7.3h0.9m-6.7-6.9h0.9m7.2-4.5h0.9m-20.5 3h0.9m-3.4-5.6h0.9m-8.9 10.6h0.9m15 9.3h0.9" stroke="#30c0e0" stroke-width="0.9" fill="none" />
<path d="M238.1 533h1m-2.3-0.6h1m-0.5-1.4h1m1-1.9h1" stroke="#d83a10" stroke-width="1" fill="none" />
<path d="M235.3 529.9h1m3.5 2.7h1m-4.3-1h1m1.2 2.6h1" stroke="#f08a20" stroke-width="1" fill="none" />
<path d="M238.2 534.7h1m-1.6-3.3h1" stroke="#801008" stroke-width="1" fill="none" />
<rect x="227.3" y="512.6" width="65.5" height="54.4" rx="1.6" fill="none" stroke="#555" stroke-width="1.1"/>
<path d="M208.3 589.7h1.1m-1.5-1.4h1.1m0.1 0.5h1.1m-2.9 0.7h1.1m0.2 0.9h1.1m-2-0.9h1.1m-0.7-0.8h1.1m-1.8-0.7h1.1m-1.2 2.4h1.1m-1.5-1.6h1.1m-0.5 0.4h1.1m-0.3-0.1h1.1m-0.4 1.8h1.1m-2.7-2h1.1m0.7-0.4h1.1m-25.2 16.3h1.1m23.3-16.2h1.1m-2.5-0.6h1.1m0.4-0.7h1.1m-0.5 1.8h1.1m-2-0.6h1.1m-15.9 17.2h1.1m1.4-2.6h1.1m-9.5-23.5h1.1m-0.8 3h1.1m-1.8-3h1.1m-2.9 0.9h1.1m-0.8-1.1h1.1m-5.2 11h1.1m-1.3-2h1.1m0.1 3.5h1.1m-2.8-3.4h1.1m-0.6 0h1.1m-1.5 1.8h1.1m-1.9 1h1.1m0.3-0.7h1.1m-0.2 0.2h1.1m-0.2-1.2h1.1m-1.9 0.5h1.1m-2.7-0.6h1.1m-0.6-0.3h1.1m-3.6 1.4h1.1m1.6-0.9h1.1m-0.4-1.8h1.1m-4.4 10h1.1m0.6-1.2h1.1m18.6-9.3h1.1m-1 0.6h1.1m-0.8-0.5h1.1m-0.8-0.5h1.1m-2.3 0.4h1.1m0.9 0.3h1.1m-2.4 0.4h1.1m-2.2-0.5h1.1m-10.8-3.5h1.1m-2.5-0.4h1.1m0.3-0.2h1.1m-1.2-0.3h1.1m-2.2 1.9h1.1m-0.4-0.9h1.1m-1.1-0.8h1.1m-1.6-0.5h1.1m1.3-0.1h1.1m-2.1 1h1.1m-2.2-0.1h1.1m-0.6-0.4h1.1m-1.9 0.1h1.1m-20.4 3.5h1.1m-1.5-1.1h1.1m-0.6-0.7h1.1m-0.8 0.3h1.1m13.5-8.1h1.1m-1.3 1.9h1.1m-1-0.9h1.1m0.1 0.2h1.1m-2.9-1.1h1.1m-1.5 0.6h1.1m1.1-0.1h1.1m-1.8 0.1h1.1m-1.8-0.8h1.1m-0.9-0.9h1.1m-1.5 0.8h1.1m-0.2 0.4h1.1m-0.7 0.2h1.1m-3.8-0.2h1.1m3.8 4.1h1.1m-0.2-0.2h1.1m-0.6 0.1h1.1m-2.6-0.8h1.1m0.1 1.6h1.1m-2-1.4h1.1m0.4 0.6h1.1m-2 0.6h1.1m-1.2-0.7h1.1m-2.4 0.5h1.1m-0.1 0.4h1.1m-0.5-1.5h1.1m-0.5 0.6h1.1m-1.2 0.6h1.1m-2-1h1.1m-0.7 0.6h1.1m-1.9-0.2h1.1m-0.6-3.6h1.1m-0.3 1.1h1.1m-2.1-1h1.1m-2 0.1h1.1m0.2 0.4h1.1m0 0h1.1m-2.7 0.4h1.1m0.1-0.3h1.1m-2.1 0.5h1.1m-1.5-0.3h1.1m-0.1-0.3h1.1m-0.2-0.9h1.1m-1.4 0.2h1.1m-1.9-0.2h1.1m-2.4 0.2h1.1m0.7 0.4h1.1m-3.1-0.2h1.1m-11.6 24.9h1.1m1.5 0.2h1.1m0.7-0.1h1.1m0.9-2.7h1.1m-1.4-18.7h1.1m-1.6 0.6h1.1m0.3 0h1.1m-0.9-1.1h1.1m-3.9 1.7h1.1m2-1.3h1.1m-1.3 0.2h1.1m-0.3-0.2h1.1m-2.3 1.7h1.1m-0.3-2.3h1.1m-1 0.9h1.1m-2.1 0.4h1.1m-1.9-0.1h1.1m0.3-0.9h1.1m-1.5 0.8h1.1m-2.1-0.2h1.1m2.9 1.1h1.1m-2.6-0.7h1.1m-1.8-2.2h1.1m0.6 1.3h1.1m-2.1-0.1h1.1m2.2 1.8h1.1m-1.6-2.2h1.1m-1.3-0.3h1.1m17.6 12.9h1.1m-1.5 1.5h1.1m-1.3 1.8h1.1m-0.6-1.8h1.1m-9.9-9.2h1.1m-2.6 1.2h1.1m-0.3 2h1.1m0.4-3.2h1.1m-1.7 2.4h1.1m-3.4-1.9h1.1m3.2-1.7h1.1m-3.2 1.3h1.1m-3.2 0.1h1.1m2.5 3.2h1.1m-3.2-0.8h1.1m-0.2-1.8h1.1m-1.1 0h1.1m-1.2 0.1h1.1m-2-2.4h1.1m0 0.5h1.1m-1.6 1.1h1.1m-1.5 0.8h1.1m-24.3-1h1.1m1.3 2h1.1m-3.5-2.2h1.1m-0.3 2.8h1.1m-0.1-1.2h1.1m-2.3-2h1.1m0.2 1h1.1m-3.8-2.1h1.1m-0.2 1.8h1.1m-0.1 1.5h1.1m-1.7-0.7h1.1m0.3 1h1.1m-4.1 0.2h1.1m1.8-2h1.1m-2.8-0.4h1.1m5.8 12.9h1.1m0.1 0.3h1.1m-0.3-1.3h1.1m-2 0.4h1.1m-0.7 0.5h1.1m-2.7-0.6h1.1m-1.3-0.3h1.1m24.2-0.6h1.1m2-2.1h1.1m-1.6 1.1h1.1m-19.5 6.9h1.1m-1.6-1.7h1.1m-3.2-12.7h1.1m-1.1-0.5h1.1m-2.1 0.4h1.1m-1.9 0.6h1.1m0.9-1.8h1.1m-0.3 0h1.1m-2.2 0.9h1.1m-1.6 0.1h1.1m0.7-0.5h1.1m-2-0.2h1.1m-2.2 1.3h1.1m1.4-1h1.1m-2.7 0.9h1.1m-0.9 5.8h1.1m-1.1-1.4h1.1m-1.9 1.1h1.1m0.4-0.8h1.1m-2-0.3h1.1m-1.5 2.5h1.1m-2.9-2.5h1.1m3.1 8h1.1m-0.5-0.4h1.1m0.1 0h1.1m-4.1-1.1h1.1m0.2 0.6h1.1m-1.6-1.2h1.1m-1.5 2.9h1.1m-2-23h1.1m-1.1 0.7h1.1m0.7-1h1.1m-1.7 0.7h1.1m-2.9-0.1h1.1m-2.2-1.6h1.1m-0.4 2h1.1m0.2 1.4h1.1m-4.1-3.4h1.1m-0.7 1.6h1.1m9.9-2.1h1.1m-1 0h1.1m-2.3 0.4h1.1m-0.8-0.9h1.1m0.3 1h1.1m-2-0.4h1.1m-2 0.2h1.1m-0.5-1.1h1.1m0 0.8h1.1m-1.4 0h1.1m-1 0.4h1.1m-1-0.3h1.1m-16.5 3.7h1.1m-0.6-0.5h1.1m-3-1.1h1.1m-4.3-1.4h1.1m1 2.9h1.1m-0.9-0.9h1.1m1.5 1.1h1.1m-1.4-2.5h1.1m0.3 0.1h1.1m-2.5 0.8h1.1m-0.6 0.8h1.1m-2.8 0.7h1.1m-0.7 1.1h1.1m-1-2.1h1.1m-0.3-2.1h1.1m-2.6 2.3h1.1m19 19.5h1.1m-1.1 0.1h1.1m-1.3-0.5h1.1m4.5-11.3h1.1m-1.3-0.8h1.1m-2.4 1.1h1.1m1.7-1.4h1.1m-3.9 1.2h1.1m-0.9-0.5h1.1m-0.4-0.1h1.1m-1.1 0h1.1m-1.3 0.7h1.1m-0.7-1h1.1m-2.1 0.9h1.1m1-0.1h1.1m-2.1 0h1.1m0.7-0.7h1.1m-3.8 0.4h1.1m-1.4 0.3h1.1m-25.7 0.4h1.1m-4.5 2h1.1m4-1.9h1.1m-2.5 2.3h1.1m-2.2 1.3h1.1m2-1.5h1.1m-3.2-1h1.1m-1.8 3h1.1m-2.2-2.1h1.1m-0.9-0.1h1.1m-0.8-1.7h1.1m-4 2.6h1.1m2.9-1.7h1.1m-2.9 1.7h1.1m0.9-0.6h1.1m-3.1 1.5h1.1m27.4 0.4h1.1m-1-0.8h1.1m1.8 0.9h1.1m-1.7 0.7h1.1m-4.6-2.8h1.1m-1.1 3.7h1.1m1.5-2.2h1.1m-2.8-0.3h1.1m1.7 0.5h1.1m-1.6-1.2h1.1m-0.7-8h1.1m0.4 0.9h1.1m-2.1 0.1h1.1m-2.4-0.3h1.1m-1-0.7h1.1m1 0.2h1.1m-0.1 0.4h1.1m-3.7 0.2h1.1m-1 0.7h1.1m-0.8-1h1.1m-1.4 0.1h1.1m-0.8-0.2h1.1m-0.5-1.2h1.1m-2.1 0.8h1.1m-15.1-2.6h1.1m-2.1 0.3h1.1m-1.8 1h1.1m-0.8-0.7h1.1m-0.2-0.1h1.1m-2.4 1.1h1.1m-0.6-0.5h1.1m-1.3 0.1h1.1m0.1 0h1.1m-11.1 1.4h1.1m0.7-1.1h1.1m-3.7 0.1h1.1m0.4-1.8h1.1m1 2.6h1.1m-1.7 0.4h1.1m-3.1-0.5h1.1m-2.3-1.5h1.1m0.6 0.4h1.1m2.3 1.6h1.1m8.2-1.9h1.1m-1.6-0.5h1.1m-1.2 0h1.1m-10.9 7h1.1m-0.7-1.6h1.1m-3.8 1h1.1m-0.9 0.1h1.1m2.2-0.1h1.1m-3.7-0.8h1.1m0.2 3.4h1.1m-1.9-0.8h1.1m-2.8-1.1h1.1m-2.8 1.3h1.1m3.2-1.9h1.1m-1.7 1.6h1.1m15.1-1.8h1.1m0.1-1.6h1.1m-2.7 1.2h1.1m0.8-0.8h1.1m-2.4 0.7h1.1m-3.7-2.8h1.1m0.6 0.6h1.1m-2.2-1.2h1.1m-1.3-0.1h1.1m0-0.1h1.1m-23.9-1.5h1.1m-0.5 2.1h1.1m-3.5-2.1h1.1m-1.6 0.2h1.1m-1.1 3.2h1.1m2.7-3.5h1.1m-3.1 1.3h1.1m-1.7-2.5h1.1m-2.5 1.8h1.1m5.5 6.9h1.1m0.2-0.7h1.1m-0.9 0.1h1.1m-1.6 0.2h1.1m13.6-10.3h1.1m-2.7-0.2h1.1m-2.9 2h1.1m0.3 0.3h1.1m-1.1-2h1.1m6.7 6.5h1.1m-0.3-0.4h1.1m-1.4 0.1h1.1m5.9 2.8h1.1m-3.5-0.6h1.1m-1.9-2.3h1.1m-1.8-0.8h1.1m1.9 2.4h1.1m-3.5-1.2h1.1m-32.7 17.5h1.1m-0.8 0h1.1m0.6 1.2h1.1m-1.5-0.5h1.1m21.6-7.2h1.1m-0.5-0.9h1.1m0 0.2h1.1m-0.6-0.7h1.1m-2.3 0.8h1.1m-27.9 7.3h1.1m0.6-0.7h1.1m-1.4-5h1.1m-3 4.4h1.1m-3.3-0.5h1.1m3.7-0.6h1.1m-3.5-2.2h1.1m-1.2 1.6h1.1m1.6-1.7h1.1m20.6-14.5h1.1m-0.1-2.1h1.1m-2.1 2.2h1.1m0.5-0.8h1.1m-1.8-0.7h1.1m-2 1.3h1.1m1.1-1.1h1.1m-4.1 1.4h1.1m1.2-0.6h1.1m-3.1 0.2h1.1m1.1-1.4h1.1m-3.2 0.6h1.1m-0.6 0h1.1m-10.3-1.3h1.1m-2.3 1.3h1.1m-1.4-0.3h1.1m0.5 1.5h1.1m-1.3-1.5h1.1m1.2-0.1h1.1m-2.2-0.1h1.1m-1.7 1.3h1.1m-1-1.4h1.1m-11.2 15.2h1.1m9.2-10h1.1m0.4 0.2h1.1m-3.4 0.3h1.1m-0.7 1.4h1.1m0.6-1.2h1.1m-6 1.1h1.1m0.2 0.9h1.1m0.7-1.7h1.1m-1.3-0.7h1.1m-1.2 1.5h1.1m-0.8-2.4h1.1m-0.7 1.8h1.1m18.5-1.2h1.1m-3.1 2.1h1.1m-0.3-1h1.1m-1.7-0.5h1.1m-0.3-1h1.1m-1.5-0.2h1.1m-1.1 0.4h1.1m0.2 0.5h1.1m-2.8 0.9h1.1m0.5 0.1h1.1m-2.2-0.4h1.1m-42.8-0.1h1.1m-0.3-1.7h1.1m-0.1-0.4h1.1m-1.8 0.9h1.1m-1.9-0.3h1.1m-0.7 0.5h1.1m-1.9 0.7h1.1m-0.8-1h1.1m0 0.5h1.1m-1.6-1.7h1.1m-0.4 0.8h1.1m-3 2.2h1.1m-1.1-0.7h1.1m-1.3-2.1h1.1m2.1 0.4h1.1m-3.7 0.9h1.1m-0.6 0.4h1.1m-0.3-0.6h1.1m-1.6 0.2h1.1m0.2-0.2h1.1m-2.8 1.6h1.1m-0.7-1.1h1.1m-2.8-0.1h1.1m-1.3-0.8h1.1m-1.2 0h1.1m-0.7 0.3h1.1m-2.2 0.3h1.1m-1.4-0.2h1.1m17.6-9.6h1.1m-2.6 0.1h1.1m-3.3 2.1h1.1m2.5-0.6h1.1m-2.8-0.6h1.1m0.9 2.2h1.1m-5.2-2.8h1.1m-0.4 2.5h1.1m1.2-1.4h1.1m-1.6 1.8h1.1m-3.8-2.9h1.1m1.9 1h1.1m-2 0.2h1.1m-0.3 0.2h1.1m3.1-0.4h1.1m-1.2-0.8h1.1m-1.7-1.5h1.1m0.2 1h1.1m-1.7-0.1h1.1m-1.5-0.8h1.1m-0.5 1.5h1.1m0.1 0h1.1m-2.8-0.9h1.1m-1.7 0h1.1m0.3-0.3h1.1m-3 0h1.1m-1.2 0h1.1m0.5 0.5h1.1m-1.4 0.4h1.1m0.5 0h1.1m10.7 2.3h1.1m0.1 0.4h1.1m-0.9 0h1.1m-1.7-0.2h1.1m-2.3 0h1.1m-0.1-1.4h1.1m-0.9 3.5h1.1m-1.5-1.4h1.1m-0.5-1.1h1.1m-2 0.1h1.1m-4.2 4.3h1.1m-0.3 1.1h1.1m0.4-2.5h1.1m-4.1 3.4h1.1m-0.4-1.7h1.1m-0.8 0.9h1.1m-1.2-1.6h1.1m0.7 1.2h1.1m-3.5-0.1h1.1m-0.7 0.4h1.1m-1.2-0.5h1.1m-1.8-0.2h1.1m1 0.9h1.1m-0.9-2.1h1.1m-2 1.3h1.1m-2.2 0.6h1.1m-2 1.1h1.1m1.6-2.3h1.1m-2.9 6.6h1.1m-1.8-0.8h1.1m-1.7 0.6h1.1m0 0.2h1.1m-2.1-0.4h1.1m1.4-0.9h1.1m-2.7 1.7h1.1m-1.6-1.9h1.1m-1.9 0.7h1.1m0.4-1.1h1.1m-9.7-1.4h1.1m-2.9 0.7h1.1m-0.8 1.5h1.1m-2.1-0.4h1.1m1.7-2.8h1.1m-3.9 1h1.1m1.5 0.5h1.1m-4.8 0.3h1.1m6.1 12.9h1.1m-1.5-0.8h1.1m-0.7 1.9h1.1m-0.1-2.6h1.1m2.9 5.9h1.1m-1-2h1.1m-1.2 0.1h1.1m-1.4 1.7h1.1m-1.4-1.1h1.1m-3.2-0.2h1.1m-2.6 2.8h1.1m-2.1 0.8h1.1m-2.4-2.1h1.1m-0.9 2.5h1.1m-7.8-14.1h1.1m-2 0.6h1.1m1.4-1.1h1.1m-1.7 0.1h1.1m-2 1.3h1.1m-1.5-1.1h1.1" stroke="#f05a1e" stroke-width="1.1" fill="none" />
<path d="M181.6 604.6h1m21.1-4.9h1m-16.4-4.1h1m0.4-0.1h1m-12.4 1.4h1m-1.8 0.7h1m0.3-0.5h1m23.1 2.9h1m-3.1-1.4h1m-12.4 1.7h1m5 4.2h1m-20.1-4h1m1.1-4.6h1m0.8 1.2h1m-3.7 1h1m1.1 0.2h1m16.8 4.5h1m-7.6 4.4h1m8.1-10h1m-1.4-0.2h1m-5.8 14.3h1m-2.1 0.1h1" stroke="#f07a40" stroke-width="1" fill="none" />
<path d="M209.8 588.6h1.1m-0.7-0.1h1.1m-1 0.5h1.1m-1.9 0h1.1m-0.9 0.2h1.1m-0.4-0.6h1.1m-0.9-0.4h1.1m-1.5-0.1h1.1m-31 11.3h1.1m-4.3-0.7h1.1m-0.3-0.2h1.1m1.6 1.4h1.1m0.1-1.1h1.1m-3-0.4h1.1m14.1-18h1.1m1.4-1.7h1.1m1.7-1.3h1.1m-5.2 2.1h1.1m-2.3-2.9h1.1m-0.5 3.3h1.1m-0.1-0.1h1.1m-1.9-1.5h1.1m1 0.3h1.1m-0.9 1.9h1.1m-1.9-1.4h1.1m6.7 9.7h1.1m-1 1.1h1.1m0.9-0.7h1.1m-1.6 0.4h1.1m-1.4-0.9h1.1m-0.3-0.1h1.1m-1.7 0.4h1.1m-1.1 0.2h1.1m-0.4-0.1h1.1m-1.4 0.2h1.1m-2 0.2h1.1m-1 0.1h1.1m-0.9 0.2h1.1m-0.3-0.1h1.1m-1.7-0.9h1.1m-2.1-0.4h1.1m-13.9-10h1.1m-0.3 2.1h1.1m-0.7 0.5h1.1m-2.8-1h1.1m-1-1.3h1.1m2.7 3.1h1.1m-4.5-1.2h1.1m1.6-0.1h1.1m-3.7-3.2h1.1m-2.2-0.8h1.1m-1.3 1.3h1.1m-1-1.8h1.1m-1.6 0.2h1.1m-1.5 0h1.1m-0.4-1h1.1m-1.4 1.5h1.1m-0.5-1.5h1.1m-12.9 15.5h1.1m-0.5 0.3h1.1m-2.8-1.8h1.1m0.6 0.6h1.1m-1.7 0.4h1.1m-0.9-0.2h1.1m-0.8-0.3h1.1m-0.6 0h1.1m-2.4 1.1h1.1m-0.8-0.9h1.1m0.7 0.4h1.1m-1.7 0.5h1.1m-1.8 0.1h1.1m-1.8-1.1h1.1m-1.1 1.2h1.1m-0.8-0.8h1.1m-0.9 0.9h1.1m-8-3.7h1.1m1.1-0.2h1.1m-2.8-1.8h1.1m-1 0.9h1.1m-2.4 0.7h1.1m-0.1-0.8h1.1m-1.6 1.5h1.1m-0.8-1.3h1.1m-0.4 0.3h1.1m-3.6 0h1.1m1.6 0.7h1.1m-3-0.3h1.1m-0.3 0.2h1.1m-1.9-1.4h1.1m34.3 1h1.1m-1-1.9h1.1m-1-0.2h1.1m-1 0.4h1.1m-0.8-1.1h1.1m-1.6 2.2h1.1m-1.5 0.7h1.1m-2.3-2h1.1m-2.1-1.4h1.1m0.3 4h1.1m-0.7-2.6h1.1m-1 0.1h1.1m-1.5 0.3h1.1m-2.1-0.5h1.1m-6.6 11.8h1.1" stroke="#e8d040" stroke-width="1.1" fill="none" />
<path d="M199.1 583.9h1.1m-2 0.9h1.1m0.8 0.4h1.1m-1.3-1.2h1.1m-2.9 0.9h1.1m-0.8 0.4h1.1m-1.1-1.2h1.1m0.1-0.3h1.1m-1.6 1.8h1.1m3.5 13.6h1.1m1 0.9h1.1m-3.5 0.4h1.1m-0.9-1.3h1.1m0.3 0.9h1.1m-1.5 1.7h1.1m-12.9-20.7h1.1m2.6-0.6h1.1m-1.8 0.7h1.1m0.3-2.3h1.1m-0.6-1.8h1.1m-5.9 2.9h1.1m3.4-1.2h1.1m-2.2 1.3h1.1m-1.2 0.9h1.1m0.1-1.3h1.1m-3.8 0h1.1m0-1.6h1.1m-3 1.2h1.1m-0.3-0.3h1.1m-6.3 15.7h1.1m22.9-3.7h1.1m-2.4 1.1h1.1m-0.4-0.9h1.1m0.4 0.2h1.1m-2.5 0.5h1.1m-1.8-0.5h1.1m-0.5 0.1h1.1m-0.9 0.1h1.1m-1.8-0.2h1.1m-0.4-0.1h1.1m-2-0.2h1.1m-0.6 0.1h1.1m-0.4-0.3h1.1m-1.2 0.4h1.1m-9.4-7.9h1.1m-2.6 1.5h1.1m-3.5 2.6h1.1m-0.2-3.9h1.1m-0.9 2.2h1.1m-0.4 0.1h1.1m-3.6 0.6h1.1m0.3-3.1h1.1m-1.6 3.6h1.1m-10.1-9.9h1.1m-4.9 0h1.1m-0.3-2.1h1.1m-1.1 3h1.1m0-0.5h1.1m1.1-0.6h1.1m3.6-0.3h1.1m-2.1 0h1.1m1.5-0.1h1.1m-3.1 1.3h1.1m1.8-1.2h1.1m-3.9 0.1h1.1m-0.8 1.4h1.1m-1.1-0.1h1.1m-0.2-1h1.1m-4.5 0.2h1.1m-0.3 1.3h1.1m0.3-1.4h1.1m-1.8 0h1.1m1.6-0.7h1.1m-2.4 0.3h1.1m3.1 20.3h1.1m-1.2-1.1h1.1m-1.3 0.4h1.1m-2.5 1.6h1.1m9.3-9.3h1.1m-2.1 0h1.1m0.4-1.4h1.1m-2.5-0.2h1.1m-1.5 0.4h1.1m-0.3-0.3h1.1m-2.3 1.3h1.1m0.1-0.7h1.1m-1.4 0.6h1.1m-0.9-0.2h1.1m-1.9-0.2h1.1m-0.8-0.6h1.1m-0.2-0.6h1.1m-41.6 6.9h1.1m1.6 0.8h1.1m-3 0.7h1.1m-1.4-2h1.1m-1.7 1h1.1m-1.2-0.6h1.1m0.1-1.3h1.1m-0.1 1.7h1.1m-2.1 0.3h1.1m-0.7 0h1.1m29.3 4.9h1.1m-1.8 0.2h1.1m-1.2 0.4h1.1m-0.1 0.1h1.1m-0.2-0.9h1.1m-10.8 7.6h1.1m-1.5-1.3h1.1m3.2-22.6h1.1m-1.1 1.3h1.1m1.3-1.9h1.1m-0.2 2.7h1.1m-3-2.3h1.1m-2.4 1.8h1.1m10.2 1.1h1.1m-1-0.1h1.1m-0.6 0.6h1.1m-25.1 15.7h1.1m-4.5-2.3h1.1m1.6 1.2h1.1m-4.6 1h1.1m-12.5-8.6h1.1m-1.5 0.7h1.1m1.2 0.2h1.1m-2.4-1.2h1.1m-1.4-0.5h1.1m-1.5 0.8h1.1m16.2-6.1h1.1m-2.5-1.3h1.1m0.5 1h1.1m-2.9-1.1h1.1m0.8-0.1h1.1m4.8-8.9h1.1m0.1-1h1.1m-0.1 2.7h1.1m-4-1.5h1.1m0.1 1.8h1.1m0.5-0.8h1.1m-3-0.9h1.1m0.5 1.7h1.1m-2.8-2.4h1.1m-1.5 2.2h1.1m0.6-0.4h1.1m-0.6 0h1.1m-3.7 0h1.1m-0.2-1.5h1.1m1.4 1.5h1.1m-3.6-3.2h1.1m0.8 2.4h1.1m-5.3 0.3h1.1m0.6 34.3h1.1" stroke="#f09a2a" stroke-width="1.1" fill="none" />
<path d="M191.3 605.5h1m-1.8-10.3h1m-13.4 6.8h1m0.6 0.5h1m8.9-2.5h1m-10.7-3.3h1" stroke="#a8d860" stroke-width="1" fill="none" />
<path d="M203.8 600.8h1m-34.8-6.4h1m31 4.6h1m-1.4-0.3h1m-11.3 0.7h1m11.4-2.2h1m-7.6 7.8h1m4.3-10h1m-26.5 4.4h1m0.1-3.5h1m20.6 0.8h1" stroke="#e8e060" stroke-width="1" fill="none" />
<path d="M191.3 609.7h1.1m-0.2 0.9h1.1m-2-0.7h1.1m0.4-1.1h1.1m-1 1.1h1.1m-3.9-31.5h1.1m-0.9-0.3h1.1m-1.6-0.8h1.1m-0.8 0.2h1.1m-1 0.5h1.1m-1.8 0.1h1.1m-0.4 0.1h1.1m-1.5-1.1h1.1m5.4 2.3h1.1m-1.4 0.2h1.1m-0.2-0.6h1.1m-1.2 0h1.1m-1.6 0.3h1.1m-0.9-0.8h1.1m-1.1 1h1.1m-0.8-1.5h1.1m-2 1h1.1m-1.4 0.1h1.1m-0.3-0.7h1.1m-0.9 0.6h1.1m-2.4-1.2h1.1m0 0.8h1.1m-0.5 0.4h1.1m-2.5-2.1h1.1m-0.9 2.2h1.1m-17.5 19.2h1.1m-2.3-0.8h1.1m-1.3-0.7h1.1m3.8-19.9h1.1m-1.1-0.7h1.1m-1.4 0.2h1.1m-1.3-0.2h1.1m-2 0.7h1.1m1.2-0.5h1.1m-1.1 0.8h1.1m-2.7 0.3h1.1m-0.1-0.6h1.1m-0.6 0.9h1.1m15.3 11.1h1.1m-1.1 0.6h1.1m0.3-0.7h1.1m-2.2 1h1.1m-1.3-1.3h1.1m-1.3 1.6h1.1m0.6-0.8h1.1m-2.6-0.8h1.1m-1.1 0.9h1.1m-1.6 0.1h1.1m-0.9-0.5h1.1m-1 0.4h1.1m-0.1-0.2h1.1m-2.7 0h1.1m-1.1 0.2h1.1m6.3-2.6h1.1m0.7-0.2h1.1m-1.9 0.6h1.1m-2.5-1.2h1.1m1-0.6h1.1m-3.2-1h1.1m-2 2.4h1.1m-12.4-8h1.1m-4-0.7h1.1m-0.6 0.7h1.1m0.6 1h1.1m0.9-2.8h1.1m-0.9 2.1h1.1m-1.7 0.3h1.1m-2.8 0.3h1.1m2.6-2.2h1.1m-4.9 0.6h1.1m-2.6 2.5h1.1m-22.9 8.9h1.1m-0.8-0.4h1.1m-0.6 0.6h1.1m23.1 10.4h1.1m-2.9-0.7h1.1m-1.8 1.2h1.1m-0.3 2.1h1.1m-1-2.3h1.1m-3.6-0.8h1.1m0.3 1.8h1.1m-3.8 0.1h1.1m-1.4-1.8h1.1m14.6-3.3h1.1m-2.5 0.9h1.1m-0.2 0.2h1.1m-0.1-0.1h1.1m-1.5 1h1.1m-2.3-1.5h1.1m-9.8 7.4h1.1m-0.6 0.2h1.1m-1.2 1.6h1.1m-4.8-0.9h1.1m1-1h1.1m-1.2 0.2h1.1m12.6-18.9h1.1m-1.8 0.4h1.1m-0.6 0h1.1m-1.7 0.9h1.1m-1.5-0.4h1.1m-1.2 0.8h1.1m0.2-1.1h1.1m-0.6 1.9h1.1m-1.5-0.8h1.1m-1.1-0.3h1.1m-0.5-0.5h1.1m-2.3-1h1.1m-1.3 0.2h1.1m0.1 0h1.1m-19-5.8h1.1m-1-0.6h1.1m-0.4 0.4h1.1m16.3 1.3h1.1m-2.3-1.4h1.1m0.5-1h1.1m-0.4 3.3h1.1m-3.4-0.7h1.1m-0.7-0.8h1.1m-0.2 0h1.1m-2.2 7.8h1.1m-0.2-0.6h1.1m-1.3 1h1.1m-3-1h1.1m0.8-0.2h1.1m-1.2-0.3h1.1m-1.5 0.6h1.1m-1.6 0.8h1.1m0.2-0.4h1.1m-2.4 0.2h1.1m-0.8-1.1h1.1m-0.9-0.1h1.1m-2.3 0.8h1.1m-0.2-1.1h1.1m-1 1h1.1m-1.7 0.2h1.1m-0.7-0.4h1.1m-0.1-0.6h1.1m-4.9-4.5h1.1m-1.3-0.5h1.1m-0.9 0.2h1.1m-0.9-1.1h1.1m-1.9 0.7h1.1m-0.9-0.7h1.1m-0.7 0.8h1.1m-2.2 1.1h1.1m-2.1-3.2h1.1m-4.6-1.1h1.1m-2.9-0.5h1.1m0.4 0.6h1.1m-1.3 1.4h1.1m-0.5-2.4h1.1m-2.8 1.2h1.1m-0.3-2h1.1m0.7 2h1.1m-2.2 0.1h1.1m0.6-1.3h1.1m-2.7 0.6h1.1m-2 0.4h1.1m-0.5-1.4h1.1m0-0.3h1.1m-1.1 1h1.1m-2.9 0.6h1.1m3.9 7.4h1.1m2 0.8h1.1m-5.7-0.1h1.1m2.3 1h1.1m-4.4-0.7h1.1m-0.7-0.6h1.1m-0.3 2.2h1.1m1-2.4h1.1m-1.2-0.3h1.1m-1.2 1.7h1.1m-2.9-1.9h1.1m-0.8 2h1.1m-2.1-0.8h1.1m-2.5 0.2h1.1m1.2-0.4h1.1m0.2-0.1h1.1m3.9 3.7h1.1m-0.3-1.9h1.1m-1.1 1.6h1.1m-0.5-0.7h1.1m-4.1 1.5h1.1m1.7-1.8h1.1m-1.6-1.1h1.1m-2.8-0.2h1.1m2 1.2h1.1m-3.3-1.2h1.1" stroke="#e8381a" stroke-width="1.1" fill="none" />
<path d="M179 600.9h1m18.9-2.6h1m-21-1.1h1m-0.9-0.3h1m28.3-2.2h1m-26 3.2h1m-1.5 0.1h1m-13.3-3.4h1m24.6 10.3h1m7.4-7.6h1m-0.8 0.4h1m-10.2 5.8h1m-15.4-3.6h1m21.6-5.3h1m-24.8 2.8h1m11.4 2.8h1m-1.3 0.7h1m-2.2 4.9h1" stroke="#f0c040" stroke-width="1" fill="none" />
<path d="M178.4 597.7h1m22.4-0.2h1m-0.4 1.2h1m-21 1.3h1m-6.9-2.1h1" stroke="#80d8c8" stroke-width="1" fill="none" />
<path d="M194.5 606.4h1m8.9-9.1h1m-29.2 2.1h1m28-5.3h1m-9.2 11h1m-0.8-1.7h1" stroke="#f0a0a0" stroke-width="1" fill="none" />
<path d="M209.6 591.2h0.9m-18.4 7.5h0.9m8.8-12.1h0.9m-0.8-1.5h0.9m3.2 2.1h0.9m8.4 1h0.9m-25.2-13.1h0.9m1.1 10.8h0.9m10.4 8.6h0.9m-12.9-6h0.9m-8.3 0.6h0.9m1.7 14.7h0.9m23.6-10.7h0.9m-20.3 6.1h0.9m5-7.5h0.9m-9-10.9h0.9m2.9-1.6h0.9m14.8 8.8h0.9m-7.3 8.5h0.9m-7.6-20.4h0.9m-25.4 8.7h0.9m8 18.6h0.9m26.8-17.9h0.9m-21.6-10.4h0.9m16.2 11.8h0.9m-1.6 2.2h0.9m7.1-0.4h0.9m-28.2 3.7h0.9m14.6-16.7h0.9m-30.5 10.5h0.9m25.9-4.5h0.9m-10.3 2.7h0.9m-1.2-5.6h0.9m-7.1 21.7h0.9m25.6-11.5h0.9m-13.3-11h0.9m-19 11.4h0.9m18.4-3.2h0.9m5.2 1.1h0.9m-9.5 19.5h0.9m18-22.1h0.9m-17.4 0h0.9m-9 3.6h0.9" stroke="#e8e060" stroke-width="0.9" fill="none" />
<path d="M208.9 593.8h0.9m-6.9-16.8h0.9m-8 11.9h0.9m-13.6-8.4h0.9m15.9 5h0.9m-9.9-8.7h0.9m12.8 3.6h0.9m-33.5 7.9h0.9m23.1-10.8h0.9m7.1 17.8h0.9m0.8 2.3h0.9m-17.5-20.6h0.9m11.9 14.6h0.9m-0.4 2.4h0.9m-0.8-8.9h0.9m2.3 12.2h0.9m-3.6-8.2h0.9m-24-0.3h0.9m7.7-10.2h0.9m-4.2 14.2h0.9m18 0.5h0.9m-8.1-6.4h0.9m1.7 0.5h0.9m-22.2 19.7h0.9m4-4.8h0.9m6-8.8h0.9m-12.4-6.8h0.9m23.7 1.7h0.9m-33.3-0.7h0.9m26-7.7h0.9m8.8 9.8h0.9m-13.8-13.1h0.9m-4.9 7.7h0.9m7.6 5h0.9m-13.3-13.3h0.9m14.2 3.9h0.9m3.3 8.2h0.9m-4.8-2.1h0.9m0.9 16.6h0.9m-7.9-24.7h0.9m8.3 14.8h0.9m-24-5.6h0.9m22.5 12.4h0.9m-5.8 0.7h0.9m-30-13.7h0.9m41.2-1h0.9m-18.6 9.9h0.9m-13.7-12.2h0.9m11.7 21.5h0.9m15-16.2h0.9m-38.2 0.3h0.9m14.2-10h0.9m-7.2 5.8h0.9m11.8-5.8h0.9m1.7 7h0.9m7.6-1.6h0.9m-17.1-3.8h0.9m-3.7 3.9h0.9m10.1 4.1h0.9m-19.4-8h0.9m-14.6 7.4h0.9m20.2-2.4h0.9m-16.8 4h0.9m30.2-3.3h0.9m-15.7 4.5h0.9m-8.3-16.2h0.9m8.9 24.1h0.9m-2.7-19h0.9m-3.2-1.4h0.9m-4.6 5.5h0.9m2.6-5.4h0.9m2 8.7h0.9m12.5 8.2h0.9m-7.8-18h0.9" stroke="#f07a40" stroke-width="0.9" fill="none" />
<path d="M196.1 578.3h0.9m-5.6 15.2h0.9m-7.5-18.1h0.9m13.9 15.3h0.9m-9.6 19.9h0.9m0.5-15.6h0.9m-6.9-11.9h0.9m0-5.1h0.9m-6.1 0.2h0.9m13.8 17.2h0.9m-13.9 8.2h0.9m23.9-18.1h0.9m-26.6 19.3h0.9m15.2-18.1h0.9m-3.3 18.5h0.9m1.5-16.9h0.9m-25.6 1.9h0.9m26.1-1.6h0.9m2.1-3.1h0.9" stroke="#80d8c8" stroke-width="0.9" fill="none" />
<path d="M193.7 599.8h0.9m11.7-10h0.9m-19.1-15.3h0.9m11 7.2h0.9m-11.3 6.2h0.9m14.8-4h0.9m1.3-0.5h0.9m-13.3-4.9h0.9m-15.1 11h0.9m5.7 3.9h0.9m12.9-4.8h0.9m-9.5-10.3h0.9m-7.9 26h0.9m1.6-16.7h0.9m-7-6.5h0.9m30.8 9.8h0.9m-25.6-11h0.9m-3.9-1.1h0.9m3.2 4.8h0.9m10.7-2.7h0.9m4.5 15h0.9m-16.8-0.5h0.9" stroke="#a8d860" stroke-width="0.9" fill="none" />
<path d="M189.6 608.9h0.9m-6-28.4h0.9m1.4 10.4h0.9m8.9-5.9h0.9m-14 4.1h0.9m6.7-2.3h0.9m5.9 1.4h0.9m-2.3-2h0.9m-12.5-7.5h0.9m5.2 0.6h0.9m-15.7 13.5h0.9m21 9.9h0.9m-3.5-27h0.9m5.6 10.4h0.9m-3.9-4.2h0.9m-9 17.5h0.9m-1.2-6.8h0.9m7.9-9.2h0.9m-16 11.9h0.9m9.8 2.2h0.9m-7.7-12.6h0.9m13.5-2.8h0.9m-16 11.3h0.9" stroke="#f0a0a0" stroke-width="0.9" fill="none" />
<path d="M188.1 589.5h0.9m-20.2-2.1h0.9m31.2 10.9h0.9m-4-12.5h0.9m-9.5-6.8h0.9m-18.2 10.7h0.9m8.7-9.1h0.9m21.8 16.4h0.9m-2.5-3.8h0.9m0.9-14.4h0.9m5 14.7h0.9m-24.9 2.5h0.9m8.6-21.2h0.9m-14.6 4.6h0.9m18.9 2.9h0.9m-22 21.3h0.9m25-14.4h0.9m-24.7-1.4h0.9m17-0.3h0.9m-3.6-0.3h0.9m-9-4.1h0.9m-0.1 5.3h0.9m4.1-10.8h0.9m8.8 15.5h0.9m-8.6-17.5h0.9m-7.9 9.2h0.9m9-4.6h0.9m-22.7 8.2h0.9m10.9-3.1h0.9m3.4 1.5h0.9m4.3-4h0.9m-10.5-2.3h0.9m13.2 5.3h0.9m-31.9 2.1h0.9m8.1 11.1h0.9m17-9.8h0.9m-4.3 4.5h0.9m-26.6-7.1h0.9m22.5 2.2h0.9m-24.3-2.5h0.9m26.5 2.8h0.9m-21.4-8.4h0.9m16.9-5.3h0.9m-5.7 23.4h0.9m3.9-15.6h0.9m-8.6-4.2h0.9m6.3 2.2h0.9m17.2 8h0.9m-44.3-2.3h0.9m1.9-2.5h0.9m20.2-7.8h0.9m-12.8 4.7h0.9m15.3 5.5h0.9m-6.2-8.4h0.9m-8 8h0.9m22.3 4.3h0.9m-23.5 2.9h0.9m3-13.9h0.9m-8.1-2.8h0.9m16.7 2h0.9m1.6-1.2h0.9m-3.5 4.5h0.9m-1.1 4.2h0.9" stroke="#f0c040" stroke-width="0.9" fill="none" />
<rect x="160.4" y="569.1" width="65.5" height="54.4" rx="1.6" fill="none" stroke="#555" stroke-width="1.1"/>
<path d="M275.6 590.7h1.1m-1.5-1.4h1.1m0.1 0.5h1.1m-2.9 0.7h1.1m0.2 0.9h1.1m-2-0.9h1.1m-0.7-0.8h1.1m-1.8-0.7h1.1m-1.2 2.4h1.1m-1.5-1.6h1.1m-0.5 0.4h1.1m-0.3-0.1h1.1m-0.4 1.8h1.1m-2.7-2h1.1m0.7-0.4h1.1m-27.2 16.9h1.1m-2.6-0.7h1.1m27.1-16.1h1.1m-0.7-0.1h1.1m-1 0.5h1.1m-1.9 0h1.1m-0.9 0.2h1.1m-0.4-0.6h1.1m-0.9-0.4h1.1m-1.5-0.1h1.1m-12.2-4.2h1.1m-2 0.9h1.1m0.8 0.4h1.1m-1.3-1.2h1.1m-2.9 0.9h1.1m-0.8 0.4h1.1m-1.1-1.2h1.1m0.1-0.3h1.1m-1.6 1.8h1.1m-3.2 17.5h1.1m-3.1 0h1.1m7.6-3.9h1.1m1 0.9h1.1m-1.9-0.4h1.1m-2.1 0.1h1.1m-0.9-1.2h1.1m-0.7 3.2h1.1m-1.9-0.9h1.1m-14.8-22.5h1.1m-0.9-0.3h1.1m-1.6-0.8h1.1m-0.8 0.2h1.1m-1 0.5h1.1m-1.8 0.1h1.1m-0.4 0.1h1.1m-1.5-1.1h1.1m-1.4 17.6h1.1m-2.3 0.9h1.1m-18.8-8.7h1.1m-1.5-1.1h1.1m-0.6-0.7h1.1m-0.8 0.3h1.1m16.5-3.8h1.1m-0.2-0.2h1.1m-0.6 0.1h1.1m-2.6-0.8h1.1m0.1 1.6h1.1m-2-1.4h1.1m0.4 0.6h1.1m-2 0.6h1.1m-1.2-0.7h1.1m-2.4 0.5h1.1m-0.1 0.4h1.1m-0.5-1.5h1.1m-0.5 0.6h1.1m-1.2 0.6h1.1m-2-1h1.1m-0.7 0.6h1.1m-1.9-0.2h1.1m5.2-1h1.1m1.4-1.7h1.1m1.7-1.3h1.1m-5.2 2.1h1.1m-2.3-2.9h1.1m-0.5 3.3h1.1m-0.1-0.1h1.1m-1.9-1.5h1.1m1 0.3h1.1m-0.9 1.9h1.1m-1.9-1.4h1.1m-14.8 2.4h1.1m-1.6 0.6h1.1m0.3 0h1.1m-0.9-1.1h1.1m-3.9 1.7h1.1m2-1.3h1.1m-1.3 0.2h1.1m-0.3-0.2h1.1m-2.3 1.7h1.1m-0.3-2.3h1.1m-1 0.9h1.1m-2.1 0.4h1.1m-1.9-0.1h1.1m0.3-0.9h1.1m-1.5 0.8h1.1m-2.1-0.2h1.1m-6.4 15.3h1.1m-1.9 0.6h1.1m0.8 0.7h1.1m-2-0.9h1.1m-1.1-1h1.1m-0.7 0.9h1.1m-2-0.5h1.1m-0.3 0.3h1.1m-0.9-0.1h1.1m12.2-19.9h1.1m-4.9 0h1.1m-0.3-2.1h1.1m-1.1 3h1.1m0-0.5h1.1m1.1-0.6h1.1m13.7 16.4h1.1m-1.5 1.5h1.1m-1.3 1.8h1.1m-2.7-7.8h1.1m-1 1.1h1.1m0.9-0.7h1.1m-1.6 0.4h1.1m-1.4-0.9h1.1m-0.3-0.1h1.1m-1.7 0.4h1.1m-1.1 0.2h1.1m-0.4-0.1h1.1m-1.4 0.2h1.1m-2 0.2h1.1m-1 0.1h1.1m-0.9 0.2h1.1m-0.3-0.1h1.1m-1.7-0.9h1.1m-2.1-0.4h1.1m-6.7 8h1.1m1.5 1.4h1.1m-2.8-1.1h1.1m-0.3-0.8h1.1m-2.7 2h1.1m-18 0.1h1.1m-1.3 0.4h1.1m-1.2-0.9h1.1m-0.5-0.9h1.1m-1.3 1.4h1.1m-2.9-0.9h1.1m24.1-10.3h1.1m0.7-0.2h1.1m-1.9 0.6h1.1m-2.5-1.2h1.1m1-0.6h1.1m-3.2-1h1.1m-2 2.4h1.1m4 1.8h1.1m-2.1 0h1.1m0.4-1.4h1.1m-2.5-0.2h1.1m-1.5 0.4h1.1m-0.3-0.3h1.1m-2.3 1.3h1.1m0.1-0.7h1.1m-1.4 0.6h1.1m-0.9-0.2h1.1m-1.9-0.2h1.1m-0.8-0.6h1.1m-0.2-0.6h1.1m-22.7 7.3h1.1m-1.1-1.4h1.1m-1.9 1.1h1.1m0.4-0.8h1.1m-2-0.3h1.1m-3.3 0h1.1m5.6 13.9h1.1m0.3 0h1.1m-4.8-5.5h1.1m0.8-1.6h1.1m-2.7 1.2h1.1m-2-2.1h1.1m-1.5 2.9h1.1m9.4-3h1.1m-0.3 0.3h1.1m-21.6-10.9h1.1m-4.5 2h1.1m4-1.9h1.1m-2.5 2.3h1.1m-2.2 1.3h1.1m2-1.5h1.1m-3.2-1h1.1m-1.8 3h1.1m-2.2-2.1h1.1m-0.9-0.1h1.1m-0.8-1.7h1.1m-4 2.6h1.1m2.9-1.7h1.1m-2.9 1.7h1.1m0.9-0.6h1.1m-3.1 1.5h1.1m29.9-9.1h1.1m0.4 0.9h1.1m-2.1 0.1h1.1m-2.4-0.3h1.1m-1-0.7h1.1m1 0.2h1.1m-0.1 0.4h1.1m-3.7 0.2h1.1m-1 0.7h1.1m-0.8-1h1.1m-1.4 0.1h1.1m-0.8-0.2h1.1m-0.5-1.2h1.1m-2.1 0.8h1.1m-25.4 0h1.1m0.7-1.1h1.1m-3.7 0.1h1.1m0.4-1.8h1.1m1 2.6h1.1m-1.7 0.4h1.1m-3.1-0.5h1.1m-2.3-1.5h1.1m0.6 0.4h1.1m2.3 1.6h1.1m6.5-0.1h1.1m-1.1 1.3h1.1m1.3-1.9h1.1m-0.2 2.7h1.1m-3-2.3h1.1m-2.4 1.8h1.1m-9.9 3.1h1.1m-0.7-1.6h1.1m-3.8 1h1.1m-0.9 0.1h1.1m2.2-0.1h1.1m-3.7-0.8h1.1m0.2 3.4h1.1m-1.9-0.8h1.1m-2.8-1.1h1.1m-2.8 1.3h1.1m3.2-1.9h1.1m-1.7 1.6h1.1m15.1-1.8h1.1m0.1-1.6h1.1m-2.7 1.2h1.1m0.8-0.8h1.1m-2.4 0.7h1.1m3.2-0.8h1.1m-1-0.1h1.1m-0.6 0.6h1.1m-40.7 7h1.1m-1.5 0.7h1.1m1.2 0.2h1.1m-2.4-1.2h1.1m-1.4-0.5h1.1m-1.5 0.8h1.1m19.8-13h1.1m-1-0.6h1.1m-0.4 0.4h1.1m-7.8 8.8h1.1m0.2-0.7h1.1m-0.9 0.1h1.1m-1.6 0.2h1.1m-8.6 13.3h1.1m3.5-1.2h1.1m-3.1 2.9h1.1m-2.2-1.5h1.1m-0.4 1h1.1m26.3-14.4h1.1m-0.2-0.6h1.1m-1.3 1h1.1m-3-1h1.1m0.8-0.2h1.1m-1.2-0.3h1.1m-1.5 0.6h1.1m-1.6 0.8h1.1m0.2-0.4h1.1m-2.4 0.2h1.1m-0.8-1.1h1.1m-0.9-0.1h1.1m-2.3 0.8h1.1m-0.2-1.1h1.1m-1 1h1.1m-1.7 0.2h1.1m-0.7-0.4h1.1m-0.1-0.6h1.1m-6 7.5h1.1m-0.8 0.4h1.1m0.2-0.9h1.1m-2.3 0.8h1.1m-26.9 3.1h1.1m-2.5 0.1h1.1m-3.4 2.3h1.1m1.5-3.8h1.1m-1.4 3h1.1m1.4 0.2h1.1m20.8-16.8h1.1m-0.1-2.1h1.1m-2.1 2.2h1.1m0.5-0.8h1.1m-1.8-0.7h1.1m-2 1.3h1.1m1.1-1.1h1.1m-4.1 1.4h1.1m1.2-0.6h1.1m-3.1 0.2h1.1m1.1-1.4h1.1m-3.2 0.6h1.1m-0.6 0h1.1m-10.3-1.3h1.1m-2.3 1.3h1.1m-1.4-0.3h1.1m0.5 1.5h1.1m-1.3-1.5h1.1m1.2-0.1h1.1m-2.2-0.1h1.1m-1.7 1.3h1.1m-1-1.4h1.1m18.6 5.2h1.1m-3.1 2.1h1.1m-0.3-1h1.1m-1.7-0.5h1.1m-0.3-1h1.1m-1.5-0.2h1.1m-1.1 0.4h1.1m0.2 0.5h1.1m-2.8 0.9h1.1m0.5 0.1h1.1m-2.2-0.4h1.1m-42.8-0.1h1.1m-0.3-1.7h1.1m-0.1-0.4h1.1m-1.8 0.9h1.1m-1.9-0.3h1.1m-0.7 0.5h1.1m-1.9 0.7h1.1m-0.8-1h1.1m0 0.5h1.1m-1.6-1.7h1.1m-0.4 0.8h1.1m-3 2.2h1.1m-1.1-0.7h1.1m-1.3-2.1h1.1m2.1 0.4h1.1m-3.7 0.9h1.1m-0.6 0.4h1.1m-0.3-0.6h1.1m-1.6 0.2h1.1m0.2-0.2h1.1m-2.8 1.6h1.1m-0.7-1.1h1.1m14.6-10.1h1.1m-2.6 0.1h1.1m-3.3 2.1h1.1m2.5-0.6h1.1m-2.8-0.6h1.1m0.9 2.2h1.1m-5.2-2.8h1.1m-0.4 2.5h1.1m1.2-1.4h1.1m-1.6 1.8h1.1m-3.8-2.9h1.1m1.9 1h1.1m-2 0.2h1.1m-0.3 0.2h1.1m16.3 0.9h1.1m0.1 0.4h1.1m-0.9 0h1.1m-1.7-0.2h1.1m-2.3 0h1.1m-0.1-1.4h1.1m-0.9 3.5h1.1m-1.5-1.4h1.1m-0.5-1.1h1.1m-2 0.1h1.1m6.2 11.3h1.1m-0.3-1.9h1.1m-1.1 1.6h1.1m-0.5-0.7h1.1m-4.1 1.5h1.1m1.7-1.8h1.1m-1.6-1.1h1.1m-2.8-0.2h1.1m2 1.2h1.1m-3.3-1.2h1.1m-11.9 2.1h1.1m-1.8-0.8h1.1m-1.7 0.6h1.1m0 0.2h1.1m-2.1-0.4h1.1m1.4-0.9h1.1m-2.7 1.7h1.1m-1.6-1.9h1.1m-1.9 0.7h1.1m0.4-1.1h1.1m-9.7-1.4h1.1m-2.9 0.7h1.1m-0.8 1.5h1.1m-2.1-0.4h1.1m1.7-2.8h1.1m-3.9 1h1.1m1.5 0.5h1.1m-4.8 0.3h1.1m9.1 15.9h1.1m0.6 1.2h1.1m-2 0.7h1.1m-0.5-1.8h1.1m-3.2-0.2h1.1m1.6-7h1.1m0.3 1.5h1.1m-7.9 12.6h1.1m-0.3 1.3h1.1" stroke="#f07a1e" stroke-width="1.1" fill="none" />
<path d="M276.8 589.6h1.1m-2.5-0.6h1.1m0.4-0.7h1.1m-0.5 1.8h1.1m-2-0.6h1.1m-27.8 1.9h1.1m-1.3-2h1.1m0.1 3.5h1.1m-2.8-3.4h1.1m-0.6 0h1.1m-1.5 1.8h1.1m-1.9 1h1.1m0.3-0.7h1.1m-0.2 0.2h1.1m-0.2-1.2h1.1m-1.9 0.5h1.1m-2.7-0.6h1.1m-0.6-0.3h1.1m-3.6 1.4h1.1m1.6-0.9h1.1m-0.4-1.8h1.1m6.4-3.8h1.1m-2.5-0.4h1.1m0.3-0.2h1.1m-1.2-0.3h1.1m-2.2 1.9h1.1m-0.4-0.9h1.1m-1.1-0.8h1.1m-1.6-0.5h1.1m1.3-0.1h1.1m-2.1 1h1.1m-2.2-0.1h1.1m-0.6-0.4h1.1m-1.9 0.1h1.1m-1.7-5.6h1.1m-0.3 1.1h1.1m-2.1-1h1.1m-2 0.1h1.1m0.2 0.4h1.1m0 0h1.1m-2.7 0.4h1.1m0.1-0.3h1.1m-2.1 0.5h1.1m-1.5-0.3h1.1m-0.1-0.3h1.1m-0.2-0.9h1.1m-1.4 0.2h1.1m-1.9-0.2h1.1m-2.4 0.2h1.1m0.7 0.4h1.1m-3.1-0.2h1.1m-14.3 7.6h1.1m1.3 2h1.1m-3.5-2.2h1.1m-0.3 2.8h1.1m-0.1-1.2h1.1m-2.3-2h1.1m0.2 1h1.1m-3.8-2.1h1.1m-0.2 1.8h1.1m-0.1 1.5h1.1m-1.7-0.7h1.1m0.3 1h1.1m-4.1 0.2h1.1m1.8-2h1.1m-2.8-0.4h1.1m32.7 12.9h1.1m0.1-3.7h1.1m-0.2 2.4h1.1m-4.1-0.7h1.1m1.1-0.6h1.1m-1.7 0h1.1m-15.1 5.8h1.1m-6-0.6h1.1m2.5-21.9h1.1m-4-0.7h1.1m-0.6 0.7h1.1m0.6 1h1.1m0.9-2.8h1.1m-0.9 2.1h1.1m-1.7 0.3h1.1m-2.8 0.3h1.1m2.6-2.2h1.1m-4.9 0.6h1.1m-2.6 2.5h1.1m-10.3-0.2h1.1m-0.6-0.5h1.1m-3-1.1h1.1m-4.3-1.4h1.1m1 2.9h1.1m-0.9-0.9h1.1m1.5 1.1h1.1m-1.4-2.5h1.1m0.3 0.1h1.1m-2.5 0.8h1.1m-0.6 0.8h1.1m-2.8 0.7h1.1m-0.7 1.1h1.1m-1-2.1h1.1m-0.3-2.1h1.1m-2.6 2.3h1.1m-12.3 9.9h1.1m-0.8-0.4h1.1m-0.6 0.6h1.1m34.8-2.3h1.1m-1.3-0.8h1.1m-2.4 1.1h1.1m1.7-1.4h1.1m-3.9 1.2h1.1m-0.9-0.5h1.1m-0.4-0.1h1.1m-1.1 0h1.1m-1.3 0.7h1.1m-0.7-1h1.1m-2.1 0.9h1.1m1-0.1h1.1m-2.1 0h1.1m0.7-0.7h1.1m-3.8 0.4h1.1m-1.4 0.3h1.1m-11.3 12.7h1.1m-3.6 0.5h1.1m-0.3 2.1h1.1m-1-2.3h1.1m-5.1-0.1h1.1m0.3 0.8h1.1m0.4-0.3h1.1m-3-0.3h1.1m-2.2-0.8h1.1m0.6 2h1.1m-11.9-20.7h1.1m-0.5 2.1h1.1m-3.5-2.1h1.1m-1.6 0.2h1.1m-1.1 3.2h1.1m2.7-3.5h1.1m-3.1 1.3h1.1m-1.7-2.5h1.1m-2.5 1.8h1.1m24.9 16.3h1.1m0-0.3h1.1m-1.1 0.3h1.1m-1.8-0.4h1.1m-0.1 1h1.1m-0.8-0.4h1.1m-19.9-11.3h1.1m-2.5-1.3h1.1m0.5 1h1.1m-2.9-1.1h1.1m0.8-0.1h1.1m-14.5 2.2h1.1m1.1-0.2h1.1m-2.8-1.8h1.1m-1 0.9h1.1m-2.4 0.7h1.1m-0.1-0.8h1.1m-1.6 1.5h1.1m-0.8-1.3h1.1m-0.4 0.3h1.1m-3.6 0h1.1m1.6 0.7h1.1m-3-0.3h1.1m-0.3 0.2h1.1m-1.9-1.4h1.1m20 11.6h1.1m-0.6 3.2h1.1m-3.3 0.2h1.1" stroke="#f0b030" stroke-width="1.1" fill="none" />
<path d="M270.9 600.1h1m-12.4 11.4h1m-11.2-7.7h1m10.7-0.9h1m-3.3-1.1h1m12-3.5h1m-28.8 0.1h1m1 0.2h1m-0.7 0.2h1m13.3 2.4h1" stroke="#90e080" stroke-width="1" fill="none" />
<path d="M272.6 601.8h1m-28.4-2.3h1m23.9-2.2h1m-26.2-0.8h1m3.3 2.5h1m-1.1-0.6h1m24.1-1h1m-21-2.1h1m13 5.3h1m-11.3 1h1m9.7-1.4h1m2.2-1.9h1m-1 0.1h1m0 0h1m-10.6 5.4h1m-14.8-3h1m-6.8 0.7h1m5-4.5h1m9.9 5.3h1m-2.3 5.7h1m6.6-10h1m-8.1 14.6h1m-1.8-0.9h1" stroke="#e0e060" stroke-width="1" fill="none" />
<path d="M255.9 580.6h1.1m-0.8 3h1.1m-1.8-3h1.1m-2.9 0.9h1.1m-0.8-1.1h1.1m-8.3 19h1.1m24.4-15h1.1m-2.6 1.5h1.1m-3.5 2.6h1.1m-0.2-3.9h1.1m-0.9 2.2h1.1m-0.4 0.1h1.1m-3.6 0.6h1.1m0.3-3.1h1.1m-1.6 3.6h1.1m-3.9-1.4h1.1m-2.6 1.2h1.1m-0.3 2h1.1m0.4-3.2h1.1m-1.7 2.4h1.1m-3.4-1.9h1.1m3.2-1.7h1.1m-3.2 1.3h1.1m-3.2 0.1h1.1m2.5 3.2h1.1m-3.2-0.8h1.1m-0.2-1.8h1.1m-1.1 0h1.1m-1.2 0.1h1.1m-2-2.4h1.1m0 0.5h1.1m-1.6 1.1h1.1m-1.5 0.8h1.1m-6.2-9.2h1.1m-2.2-0.8h1.1m-1.3 1.3h1.1m-1-1.8h1.1m-1.6 0.2h1.1m-1.5 0h1.1m-0.4-1h1.1m-1.4 1.5h1.1m-0.5-1.5h1.1m7.1 13.7h1.1m-1.1 0.6h1.1m0.3-0.7h1.1m-2.2 1h1.1m-1.3-1.3h1.1m-1.3 1.6h1.1m0.6-0.8h1.1m-2.6-0.8h1.1m-1.1 0.9h1.1m-1.6 0.1h1.1m-0.9-0.5h1.1m-1 0.4h1.1m-0.1-0.2h1.1m-2.7 0h1.1m-1.1 0.2h1.1m6.8 2.6h1.1m-1-0.8h1.1m1.8 0.9h1.1m-1.7 0.7h1.1m-4.6-2.8h1.1m-1.1 3.7h1.1m1.5-2.2h1.1m-2.8-0.3h1.1m1.7 0.5h1.1m-1.6-1.2h1.1m-11.8-9.7h1.1m-1.6-0.5h1.1m-1.2 0h1.1m-19.1 10.4h1.1m-0.5 0.3h1.1m-2.8-1.8h1.1m0.6 0.6h1.1m-1.7 0.4h1.1m-0.9-0.2h1.1m-0.8-0.3h1.1m-0.6 0h1.1m-2.4 1.1h1.1m-0.8-0.9h1.1m0.7 0.4h1.1m-1.7 0.5h1.1m-1.8 0.1h1.1m-1.8-1.1h1.1m-1.1 1.2h1.1m-0.8-0.8h1.1m-0.9 0.9h1.1m13.7 13.2h1.1m-2.3-0.1h1.1m-1.2 0.2h1.1m-2.2 0.6h1.1m-8.9-3.5h1.1m-5.3-0.1h1.1m10.7-15h1.1m0.4 0.2h1.1m-3.4 0.3h1.1m-0.7 1.4h1.1m0.6-1.2h1.1m-6 1.1h1.1m0.2 0.9h1.1m0.7-1.7h1.1m-1.3-0.7h1.1m-1.2 1.5h1.1m-0.8-2.4h1.1m-0.7 1.8h1.1m10.8-5.2h1.1m-1.3-0.5h1.1m-0.9 0.2h1.1m-0.9-1.1h1.1m-1.9 0.7h1.1m-0.9-0.7h1.1m-0.7 0.8h1.1m-2.2 1.1h1.1m-2.1-3.2h1.1m-35.2 6.7h1.1m-1.3-0.8h1.1m-1.2 0h1.1m-0.7 0.3h1.1m-2.2 0.3h1.1m-1.4-0.2h1.1m20.6-8.2h1.1m-1.2-0.8h1.1m-1.7-1.5h1.1m0.2 1h1.1m-1.7-0.1h1.1m-1.5-0.8h1.1m-0.5 1.5h1.1m0.1 0h1.1m-2.8-0.9h1.1m-1.7 0h1.1m0.3-0.3h1.1m-3 0h1.1m-1.2 0h1.1m0.5 0.5h1.1m-1.4 0.4h1.1m0.5 0h1.1m7.7 1.8h1.1m-2.9-0.5h1.1m0.4 0.6h1.1m-1.3 1.4h1.1m-0.5-2.4h1.1m-2.8 1.2h1.1m-0.3-2h1.1m0.7 2h1.1m-2.2 0.1h1.1m0.6-1.3h1.1m-2.7 0.6h1.1m-2 0.4h1.1m-0.5-1.4h1.1m0-0.3h1.1m-1.1 1h1.1m-2.9 0.6h1.1m-0.1 4.7h1.1m-0.3 1.1h1.1m0.4-2.5h1.1m-4.1 3.4h1.1m-0.4-1.7h1.1m-0.8 0.9h1.1m-1.2-1.6h1.1m0.7 1.2h1.1m-3.5-0.1h1.1m-0.7 0.4h1.1m-1.2-0.5h1.1m-1.8-0.2h1.1m1 0.9h1.1m-0.9-2.1h1.1m-2 1.3h1.1m-2.2 0.6h1.1m-2 1.1h1.1m1.6-2.3h1.1" stroke="#e8501e" stroke-width="1.1" fill="none" />
<path d="M260.1 609.7h1m-2.9-9.2h1m0.4 1.8h1m0.9 1.6h1m-14.9-3h1m21.4-4.7h1m-24.6 3.9h1m-0.9-1.9h1m14.2 3.6h1m-1.2-2.1h1m3.1 3.9h1" stroke="#60d0d0" stroke-width="1" fill="none" />
<path d="M260.1 582.1h1.1m2.6-0.6h1.1m-1.8 0.7h1.1m0.3-2.3h1.1m-0.6-1.8h1.1m-5.9 2.9h1.1m3.4-1.2h1.1m-2.2 1.3h1.1m-1.2 0.9h1.1m0.1-1.3h1.1m-3.8 0h1.1m0-1.6h1.1m-3 1.2h1.1m-0.3-0.3h1.1m5.7 8.4h1.1m-1 0.6h1.1m-0.8-0.5h1.1m-0.8-0.5h1.1m-2.3 0.4h1.1m0.9 0.3h1.1m-2.4 0.4h1.1m-2.2-0.5h1.1m-16.1-10.3h1.1m-1.3 1.9h1.1m-1-0.9h1.1m0.1 0.2h1.1m-2.9-1.1h1.1m-1.5 0.6h1.1m1.1-0.1h1.1m-1.8 0.1h1.1m-1.8-0.8h1.1m-0.9-0.9h1.1m-1.5 0.8h1.1m-0.2 0.4h1.1m-0.7 0.2h1.1m-3.8-0.2h1.1m2.8 5.3h1.1m-2.6-0.7h1.1m-1.8-2.2h1.1m0.6 1.3h1.1m-2.1-0.1h1.1m2.2 1.8h1.1m-1.6-2.2h1.1m-1.3-0.3h1.1m3.1-2h1.1m-0.3 2.1h1.1m-0.7 0.5h1.1m-2.8-1h1.1m-1-1.3h1.1m2.7 3.1h1.1m-4.5-1.2h1.1m1.6-0.1h1.1m5.3 18.5h1.1m-1.4 0.1h1.1m-1.8 0.2h1.1m-0.3-0.5h1.1m-2.1-0.7h1.1m1 1.9h1.1m-1.6-1.3h1.1m-1.6 1.1h1.1m-0.2-0.9h1.1m-15-20.5h1.1m-1.1 0.7h1.1m0.7-1h1.1m-1.7 0.7h1.1m-2.9-0.1h1.1m-2.2-1.6h1.1m-0.4 2h1.1m0.2 1.4h1.1m-4.1-3.4h1.1m-0.7 1.6h1.1m9.9-2.1h1.1m-1 0h1.1m-2.3 0.4h1.1m-0.8-0.9h1.1m0.3 1h1.1m-2-0.4h1.1m-2 0.2h1.1m-0.5-1.1h1.1m0 0.8h1.1m-1.4 0h1.1m-1 0.4h1.1m-1-0.3h1.1m2.4 6.6h1.1m0.6 0.6h1.1m-2.2-1.2h1.1m-1.3-0.1h1.1m0-0.1h1.1m9.2 4.3h1.1m-3.5-0.6h1.1m-1.9-2.3h1.1m-1.8-0.8h1.1m1.9 2.4h1.1m-3.5-1.2h1.1m-32.7 11.7h1.1m-1.5 0h1.1m1.1 1.1h1.1m1-0.7h1.1m-3 2.4h1.1m-1.6-2.1h1.1m4.2-3.7h1.1m-2 0.6h1.1m1.4-1.1h1.1m-1.7 0.1h1.1m-2 1.3h1.1m-1.5-1.1h1.1" stroke="#c8e048" stroke-width="1.1" fill="none" />
<path d="M258.1 596.1h1m-13.6 2.3h1m25.2 0h1m-1.7-0.2h1m-23.6 2.7h1m-0.9-3.1h1m-2.6 1.5h1m19.3-1.1h1" stroke="#f0a0a0" stroke-width="1" fill="none" />
<path d="M263.6 580.4h1.1m-1.4 0.2h1.1m-0.2-0.6h1.1m-1.2 0h1.1m-1.6 0.3h1.1m-0.9-0.8h1.1m-1.1 1h1.1m-0.8-1.5h1.1m-2 1h1.1m-1.4 0.1h1.1m-0.3-0.7h1.1m-0.9 0.6h1.1m-2.4-1.2h1.1m0 0.8h1.1m-0.5 0.4h1.1m-2.5-2.1h1.1m-0.9 2.2h1.1m16.6 11.9h1.1m-2.4 1.1h1.1m-0.4-0.9h1.1m0.4 0.2h1.1m-2.5 0.5h1.1m-1.8-0.5h1.1m-0.5 0.1h1.1m-0.9 0.1h1.1m-1.8-0.2h1.1m-0.4-0.1h1.1m-2-0.2h1.1m-0.6 0.1h1.1m-0.4-0.3h1.1m-1.2 0.4h1.1m-35.9 9.8h1.1m1.2-3.8h1.1m1-20.4h1.1m-1.1-0.7h1.1m-1.4 0.2h1.1m-1.3-0.2h1.1m-2 0.7h1.1m1.2-0.5h1.1m-1.1 0.8h1.1m-2.7 0.3h1.1m-0.1-0.6h1.1m-0.6 0.9h1.1m12.5-1.2h1.1m-2.1 0h1.1m1.5-0.1h1.1m-3.1 1.3h1.1m1.8-1.2h1.1m-3.9 0.1h1.1m-0.8 1.4h1.1m-1.1-0.1h1.1m-0.2-1h1.1m-4.5 0.2h1.1m-0.3 1.3h1.1m0.3-1.4h1.1m-1.8 0h1.1m1.6-0.7h1.1m-2.4 0.3h1.1m-10.3 11.3h1.1m-1.1-0.5h1.1m-2.1 0.4h1.1m-1.9 0.6h1.1m0.9-1.8h1.1m-0.3 0h1.1m-2.2 0.9h1.1m-1.6 0.1h1.1m0.7-0.5h1.1m-2-0.2h1.1m-2.2 1.3h1.1m1.4-1h1.1m-2.7 0.9h1.1m-19.8 5.4h1.1m1.6 0.8h1.1m-3.9 0.3h1.1m-0.5-1.6h1.1m-1.7 1h1.1m-1.2-0.6h1.1m0.1-1.3h1.1m-0.1 1.7h1.1m-3 0.6h1.1m-0.6 0.2h1.1m-0.3-0.5h1.1m23.2-14.3h1.1m-2.1 0.3h1.1m-1.8 1h1.1m-0.8-0.7h1.1m-0.2-0.1h1.1m-2.4 1.1h1.1m-0.6-0.5h1.1m-1.3 0.1h1.1m0.1 0h1.1m11.2 4.4h1.1m-1.8 0.4h1.1m-0.6 0h1.1m-1.7 0.9h1.1m-1.5-0.4h1.1m-1.2 0.8h1.1m0.2-1.1h1.1m-0.6 1.9h1.1m-1.5-0.8h1.1m-1.1-0.3h1.1m-0.5-0.5h1.1m-2.3-1h1.1m-1.3 0.2h1.1m0.1 0h1.1m-9.2-7.9h1.1m-2.7-0.2h1.1m-2.9 2h1.1m0.3 0.3h1.1m-1.1-2h1.1m6.7 6.5h1.1m-0.3-0.4h1.1m-1.4 0.1h1.1m1-3.1h1.1m-2.3-1.4h1.1m0.5-1h1.1m-0.4 3.3h1.1m-3.4-0.7h1.1m-0.7-0.8h1.1m-0.2 0h1.1m-16.8-4h1.1m0.1-1h1.1m-0.1 2.7h1.1m-4-1.5h1.1m0.1 1.8h1.1m0.5-0.8h1.1m-3-0.9h1.1m0.5 1.7h1.1m-2.8-2.4h1.1m-1.5 2.2h1.1m0.6-0.4h1.1m-0.6 0h1.1m-3.7 0h1.1m-0.2-1.5h1.1m1.4 1.5h1.1m-3.6-3.2h1.1m0.8 2.4h1.1m-5.3 0.3h1.1m11 8.8h1.1m2 0.8h1.1m-5.7-0.1h1.1m2.3 1h1.1m-4.4-0.7h1.1m-0.7-0.6h1.1m-0.3 2.2h1.1m1-2.4h1.1m-1.2-0.3h1.1m-1.2 1.7h1.1m-2.9-1.9h1.1m-0.8 2h1.1m-2.1-0.8h1.1m-2.5 0.2h1.1m1.2-0.4h1.1m0.2-0.1h1.1m2.7 0.3h1.1m-1-1.9h1.1m-1-0.2h1.1m-1 0.4h1.1m-0.8-1.1h1.1m-1.6 2.2h1.1m-1.5 0.7h1.1m-2.3-2h1.1m-2.1-1.4h1.1m0.3 4h1.1m-0.7-2.6h1.1m-1 0.1h1.1m-1.5 0.3h1.1m-2.1-0.5h1.1" stroke="#80d060" stroke-width="1.1" fill="none" />
<path d="M247.9 600.9h1m-2.6 1h1m-2.4 1.9h1m29.7-8.1h1m-8.6 2.9h1m-9.1 5.7h1m7.2-4.7h1m2.1-1.7h1m-9.5 7.6h1m-20.2-5.1h1m26.5-4.8h1m-28.3 6h1m-0.5-1.2h1m2-2h1m18 0.3h1" stroke="#f0a040" stroke-width="1" fill="none" />
<path d="M276.2 594.8h0.9m-28.3-13.2h0.9m22.2-0.2h0.9m6.9 6.7h0.9m-15.4 1.1h0.9m8.4-3.1h0.9m-2.4 12.2h0.9m-3.6-8.2h0.9m-18.7 3.7h0.9m4.3-12h0.9m-1.3 12.7h0.9m3.3-14.3h0.9m-2.8 15.8h0.9m10.3 1.5h0.9m-0.3-3h0.9m-4.8-10.7h0.9m-12.9-7.7h0.9m-3.8 17.3h0.9m22.3-6.9h0.9m-37.9 0.8h0.9m15.9-7.5h0.9m6.5 2.4h0.9m-15.5-0.7h0.9m-7.8 9.7h0.9m27.5-8.1h0.9m-25.8 13.9h0.9" stroke="#60d0d0" stroke-width="0.9" fill="none" />
<path d="M263.4 579.3h0.9m9.3 11.5h0.9m-22.4-14.4h0.9m3.5 3.6h0.9m14.1 18h0.9m-10.6-16.9h0.9m-2.4 5.8h0.9m10.1 9.4h0.9m1.8-6.1h0.9m-15 10h0.9m2.3-21.6h0.9m5.3 8.5h0.9m-14.2 19h0.9m5.4-18.3h0.9m3 2.6h0.9m4.8-0.3h0.9m-31.2 8.9h0.9m25.6-22.3h0.9m-7.8 0.5h0.9m-16.4 4.5h0.9m35 4.9h0.9m-23.8 13.2h0.9m5.7-17.1h0.9m-10.3 2.7h0.9m-14.5 4.5h0.9m20.6-10h0.9m1.7 7h0.9m-19.6 4.1h0.9m32.5-0.8h0.9m-47.3-1.3h0.9m28.2-12.4h0.9m-2.4 22h0.9m3-9.2h0.9m1.4 0.3h0.9m9.3 0.5h0.9m-34.1-6h0.9m4.4-6.2h0.9m16.7 2h0.9m-9.3 30.6h0.9" stroke="#90e080" stroke-width="0.9" fill="none" />
<path d="M256.9 609.9h0.9m5.3-20h0.9m-13.6-8.4h0.9m6.9-3.7h0.9m-22.5 10.5h0.9m35.1-3.4h0.9m-1.8-5.1h0.9m0.4 18.8h0.9m-17.5-20.6h0.9m-3.7 19h0.9m14.7-4.4h0.9m-26.6 1.2h0.9m-5-2.9h0.9m25.5 1.8h0.9m-20.9-5h0.9m1.5 2.8h0.9m8.6-5.1h0.9m13.4 5.3h0.9m-17.4-2.1h0.9m23.5 1.1h0.9m-13.4-2.8h0.9m-2.1 0.8h0.9m3.2-1h0.9m-13.7-2.1h0.9m-1-4.7h0.9m-2.5 6.6h0.9m-16.8 4h0.9m26.7 1.3h0.9m-3.7-4.6h0.9m-8.8-6.6h0.9m-2.9 13.8h0.9m-1.6 0.2h0.9m19.5 2.3h0.9" stroke="#f0a0a0" stroke-width="0.9" fill="none" />
<path d="M243.6 582.6h0.9m10.9-7.1h0.9m-20.2 12.9h0.9m21.7 6.1h0.9m-7.8-13h0.9m20.6 6.7h0.9m-10.9-9.7h0.9m-9.8 16.4h0.9m21.4-4.9h0.9m3.7 2.5h0.9m-23.8-4.7h0.9m12.3 7.7h0.9m2.3-11.1h0.9m-27.6 20.2h0.9m23.1-7.7h0.9m-7.6-8.7h0.9m-8.1 23.4h0.9m12.3-17.3h0.9m-26.8 13.8h0.9m26.4-14h0.9m-3.3-4.7h0.9m-3.3-8.2h0.9m-6.5-1.7h0.9m-9.7 4.6h0.9m10.4-3.1h0.9m8.8 9.8h0.9m-9.2-7.9h0.9m-14.2 22.4h0.9m-5.4-0.9h0.9m8.5-22.9h0.9m5.2 14.9h0.9m4-15.4h0.9m3.3 8.2h0.9m-24.6-7.1h0.9m30.8 9.8h0.9m-43.2-4.3h0.9m13.2-7.8h0.9m9.7-3.4h0.9m-6.5 17.2h0.9m-2.4-12.7h0.9m6.2 3.3h0.9m-13.3 0.1h0.9m18 0.1h0.9m4 0.9h0.9m-38.1 2.6h0.9m28.3 1.6h0.9m-27.3-4.1h0.9m26 19.3h0.9m1.1-10.9h0.9m-14.8-7.9h0.9m-0.2 5.8h0.9m13.7-3.4h0.9m-7.7-8.5h0.9m-16.1-4.3h0.9m27 16.2h0.9m-7 4.5h0.9" stroke="#e0e060" stroke-width="0.9" fill="none" />
<path d="M255.4 590.5h0.9m13.9-12.5h0.9m-11.7 21.7h0.9m22.3-10.5h0.9m-19.6-3.2h0.9m-6.5-9.9h0.9m10.7 18.1h0.9m-23-9.5h0.9m28.9 9.8h0.9m-28.3-5.7h0.9m17-0.3h0.9m-9.4 1h0.9m-8.6-5.1h0.9m5.9 5.8h0.9m-12.4-0.4h0.9m7.7-10.2h0.9m8.7 24.1h0.9m-20-16.6h0.9m15.6-10.4h0.9m-2.7 26.7h0.9m-11.5-0.1h0.9m6.8-17.5h0.9m-21 2.9h0.9m38.3 0.3h0.9m-5.8 7.1h0.9m-23.9-16.9h0.9m9.8 0.1h0.9m15.3 7.2h0.9m-36.1 2.4h0.9m8.1 11.1h0.9m18.3-12.9h0.9m-2.2 3.1h0.9m-23.8 0.7h0.9m18.1-11.9h0.9m-4.4 1.5h0.9m4.8 9.6h0.9m-17-1.9h0.9m-11.5-0.6h0.9m9.7 18.2h0.9m24.5-23.4h0.9m-12.5 14.1h0.9m-11.4-16.7h0.9m0.8 5.3h0.9m2.7-3.6h0.9m-13.9 7.6h0.9m9.3-3.7h0.9m-3.5 7.6h0.9m7.4-15.4h0.9m-13.1 23.9h0.9m-0.6-19.2h0.9m15.3 5.5h0.9m-21.4 2.6h0.9m14.3-11h0.9m-3.7-2.7h0.9m-7.9 8h0.9m9.6 15h0.9m0 8.1h0.9m18-22.1h0.9m-17.4 0h0.9m-12.9-8.2h0.9m17.8 21.4h0.9" stroke="#f0a040" stroke-width="0.9" fill="none" />
<rect x="227.3" y="569.1" width="65.5" height="54.4" rx="1.6" fill="none" stroke="#555" stroke-width="1.1"/>
<circle cx="181.6" cy="534.9" r="5.4" fill="none" stroke="#f01818" stroke-width="1.5" stroke-linecap="round" stroke-dasharray="0.01 2.05"/>
<circle cx="182.2" cy="545.7" r="5.4" fill="none" stroke="#f01818" stroke-width="1.5" stroke-linecap="round" stroke-dasharray="0.01 2.05"/>
<circle cx="237.8" cy="530.9" r="5.4" fill="none" stroke="#f01818" stroke-width="1.5" stroke-linecap="round" stroke-dasharray="0.01 2.05"/>
<text x="166.30" y="564.40" font-size="6.5" text-anchor="start" font-weight="normal" fill="#222" textLength="19.3" lengthAdjust="spacingAndGlyphs">Vβ 13.1</text>
<text x="232.00" y="564.40" font-size="6.5" text-anchor="start" font-weight="normal" fill="#222" textLength="11.8" lengthAdjust="spacingAndGlyphs">Vβ 8</text>
<text x="166.70" y="620.00" font-size="6.5" text-anchor="start" font-weight="normal" fill="#222" textLength="19.6" lengthAdjust="spacingAndGlyphs">Perforin</text>
<text x="232.00" y="620.00" font-size="6.5" text-anchor="start" font-weight="normal" fill="#222" textLength="31" lengthAdjust="spacingAndGlyphs">Granzyme B</text>
<text x="226.00" y="635.40" font-size="8.8" text-anchor="middle" font-weight="bold" fill="#111" textLength="18" lengthAdjust="spacingAndGlyphs">tSNE2</text>
<text transform="translate(154.8,568.5) rotate(-90)" font-size="8.8" font-weight="bold" text-anchor="middle" fill="#111" textLength="17" lengthAdjust="spacingAndGlyphs">tSNE1</text>
<defs><linearGradient id="jet" x1="0" y1="0" x2="0" y2="1"><stop offset="0" stop-color="#00008f"/><stop offset="0.12" stop-color="#0010ff"/><stop offset="0.36" stop-color="#00e0ff"/><stop offset="0.5" stop-color="#60ff90"/><stop offset="0.62" stop-color="#f0f000"/><stop offset="0.8" stop-color="#ff5000"/><stop offset="0.92" stop-color="#e00000"/><stop offset="1" stop-color="#800000"/></linearGradient></defs>
<rect x="300.8" y="541.3" width="3.7" height="59.8" fill="url(#jet)"/>
<text x="302.60" y="536.40" font-size="5.6" text-anchor="middle" font-weight="normal" fill="#333" >Low</text>
<text x="302.60" y="610.20" font-size="5.6" text-anchor="middle" font-weight="normal" fill="#333" >High</text>
<line x1="373.90" y1="511.80" x2="373.90" y2="601.50" stroke="#000" stroke-width="1.1" />
<line x1="372.40" y1="599.00" x2="497.30" y2="599.00" stroke="#000" stroke-width="1.1" />
<line x1="370.60" y1="599.00" x2="373.90" y2="599.00" stroke="#000" stroke-width="0.8" />
<text x="367.50" y="601.40" font-size="6.9" text-anchor="end" font-weight="normal" fill="#222" >0</text>
<line x1="374.00" y1="599.00" x2="374.00" y2="601.30" stroke="#000" stroke-width="0.8" />
<text x="374.00" y="611.60" font-size="6.9" text-anchor="middle" font-weight="normal" fill="#222" >0</text>
<line x1="370.60" y1="582.16" x2="373.90" y2="582.16" stroke="#000" stroke-width="0.8" />
<text x="367.50" y="584.56" font-size="6.9" text-anchor="end" font-weight="normal" fill="#222" >20</text>
<line x1="398.24" y1="599.00" x2="398.24" y2="601.30" stroke="#000" stroke-width="0.8" />
<text x="398.24" y="611.60" font-size="6.9" text-anchor="middle" font-weight="normal" fill="#222" >20</text>
<line x1="370.60" y1="565.32" x2="373.90" y2="565.32" stroke="#000" stroke-width="0.8" />
<text x="367.50" y="567.72" font-size="6.9" text-anchor="end" font-weight="normal" fill="#222" >40</text>
<line x1="422.48" y1="599.00" x2="422.48" y2="601.30" stroke="#000" stroke-width="0.8" />
<text x="422.48" y="611.60" font-size="6.9" text-anchor="middle" font-weight="normal" fill="#222" >40</text>
<line x1="370.60" y1="548.48" x2="373.90" y2="548.48" stroke="#000" stroke-width="0.8" />
<text x="367.50" y="550.88" font-size="6.9" text-anchor="end" font-weight="normal" fill="#222" >60</text>
<line x1="446.72" y1="599.00" x2="446.72" y2="601.30" stroke="#000" stroke-width="0.8" />
<text x="446.72" y="611.60" font-size="6.9" text-anchor="middle" font-weight="normal" fill="#222" >60</text>
<line x1="370.60" y1="531.64" x2="373.90" y2="531.64" stroke="#000" stroke-width="0.8" />
<text x="367.50" y="534.04" font-size="6.9" text-anchor="end" font-weight="normal" fill="#222" >80</text>
<line x1="470.96" y1="599.00" x2="470.96" y2="601.30" stroke="#000" stroke-width="0.8" />
<text x="470.96" y="611.60" font-size="6.9" text-anchor="middle" font-weight="normal" fill="#222" >80</text>
<line x1="370.60" y1="514.80" x2="373.90" y2="514.80" stroke="#000" stroke-width="0.8" />
<text x="367.50" y="517.20" font-size="6.9" text-anchor="end" font-weight="normal" fill="#222" >100</text>
<line x1="495.20" y1="599.00" x2="495.20" y2="601.30" stroke="#000" stroke-width="0.8" />
<text x="495.20" y="611.60" font-size="6.9" text-anchor="middle" font-weight="normal" fill="#222" >100</text>
<text x="436.50" y="505.80" font-size="9.6" text-anchor="middle" font-weight="normal" fill="#111" >NDMM</text>
<text x="448.50" y="536.50" font-size="5.9" text-anchor="middle" font-weight="normal" fill="#222" >*P = 0.0392</text>
<text x="448.40" y="543.30" font-size="5.9" text-anchor="middle" font-weight="normal" fill="#222" >R square = 0.3085</text>
<text transform="translate(334.3,555.1) rotate(-90)" font-size="9.3" text-anchor="middle" fill="#222" textLength="71.4" lengthAdjust="spacingAndGlyphs">Dominant TCR-Vβ family</text>
<text transform="translate(347.4,555.5) rotate(-90)" font-size="9.3" text-anchor="middle" fill="#222" textLength="32" lengthAdjust="spacingAndGlyphs">(% PB-T<tspan font-size="5.2" dy="1.6">TE</tspan><tspan dy="-1.6">)</tspan></text>
<text x="435.8" y="625.2" font-size="9" text-anchor="middle" fill="#222" textLength="63.8" lengthAdjust="spacingAndGlyphs">CD69<tspan font-size="5" dy="-3">+</tspan><tspan dy="3">T</tspan><tspan font-size="5.4" dy="1.8">TE</tspan><tspan dy="-1.8"> (% BM-T</tspan><tspan font-size="5.4" dy="1.8">TE</tspan><tspan dy="-1.8">)</tspan></text>
<line x1="379.60" y1="558.00" x2="470.90" y2="580.50" stroke="#111" stroke-width="0.9" />
<circle cx="379.6" cy="567.7" r="1.75" fill="#cc2210" stroke="#2a0500" stroke-width="0.65"/>
<circle cx="382.6" cy="563.5" r="1.75" fill="#cc2210" stroke="#2a0500" stroke-width="0.65"/>
<circle cx="389.1" cy="547.2" r="1.75" fill="#cc2210" stroke="#2a0500" stroke-width="0.65"/>
<circle cx="393.6" cy="545.5" r="1.75" fill="#cc2210" stroke="#2a0500" stroke-width="0.65"/>
<circle cx="395" cy="566.7" r="1.75" fill="#cc2210" stroke="#2a0500" stroke-width="0.65"/>
<circle cx="400.3" cy="559.5" r="1.75" fill="#cc2210" stroke="#2a0500" stroke-width="0.65"/>
<circle cx="403.3" cy="569.9" r="1.75" fill="#cc2210" stroke="#2a0500" stroke-width="0.65"/>
<circle cx="421.4" cy="566.8" r="1.75" fill="#cc2210" stroke="#2a0500" stroke-width="0.65"/>
<circle cx="433.5" cy="582.9" r="1.75" fill="#cc2210" stroke="#2a0500" stroke-width="0.65"/>
<circle cx="442.9" cy="591.2" r="1.75" fill="#cc2210" stroke="#2a0500" stroke-width="0.65"/>
<circle cx="453.8" cy="553.5" r="1.75" fill="#cc2210" stroke="#2a0500" stroke-width="0.65"/>
<circle cx="453.4" cy="588.8" r="1.75" fill="#cc2210" stroke="#2a0500" stroke-width="0.65"/>
<circle cx="465.8" cy="571.3" r="1.75" fill="#cc2210" stroke="#2a0500" stroke-width="0.65"/>
<circle cx="470.9" cy="580.5" r="1.75" fill="#cc2210" stroke="#2a0500" stroke-width="0.65"/>
</svg>
</body></html>
